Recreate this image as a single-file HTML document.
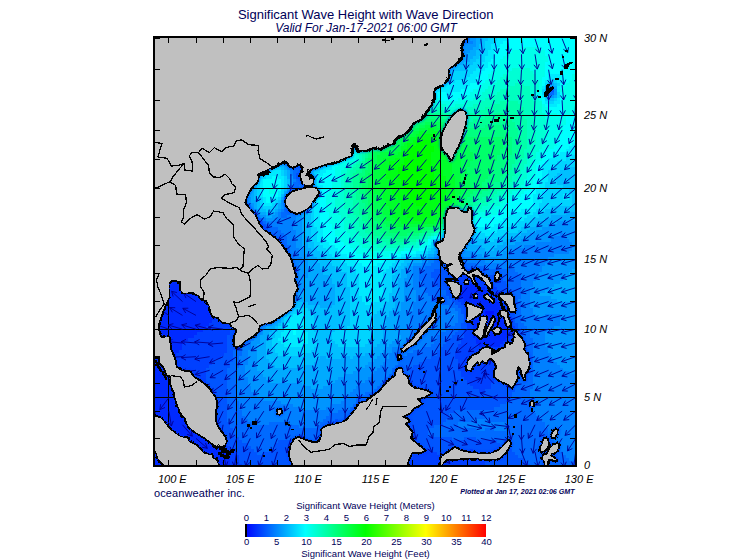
<!DOCTYPE html>
<html><head><meta charset="utf-8"><title>Significant Wave Height</title>
<style>html,body{margin:0;padding:0;background:#fff;overflow:hidden}svg{display:block}</style></head>
<body>
<svg width="755" height="560" viewBox="0 0 755 560">
<defs><clipPath id="cp"><rect x="155" y="38" width="420" height="427"/></clipPath>
<filter id="rough" x="-2%" y="-2%" width="104%" height="104%"><feTurbulence type="fractalNoise" baseFrequency="0.35" numOctaves="2" seed="3" result="n"/><feDisplacementMap in="SourceGraphic" in2="n" scale="3.2" xChannelSelector="R" yChannelSelector="G" result="d"/><feComponentTransfer><feFuncA type="discrete" tableValues="0 0 1 1"/></feComponentTransfer></filter>
<filter id="bl" x="-5%" y="-5%" width="110%" height="110%"><feGaussianBlur stdDeviation="1.2"/></filter></defs>
<rect width="755" height="560" fill="#fff"/>
<g clip-path="url(#cp)">
<g shape-rendering="crispEdges">
<path fill="rgb(0,21,255)" d="M485 311h9v3h-9zM485 314h9v3h-9zM485 317h12v3h-12zM485 320h12v3h-12zM488 323h9v3h-9z"/>
<path fill="rgb(0,42,255)" d="M155 230h9v3h-9zM155 233h33v3h-33zM155 236h48v3h-48zM155 239h63v3h-63zM155 242h75v3h-75zM155 245h81v3h-81zM155 248h87v3h-87zM155 251h90v3h-90zM155 254h90v3h-90zM155 257h93v3h-93zM155 260h93v3h-93zM155 263h93v3h-93zM155 266h96v3h-96zM155 269h96v3h-96zM155 272h96v3h-96zM155 275h96v3h-96zM155 278h96v3h-96zM155 281h93v3h-93zM155 284h90v3h-90zM464 284h15v3h-15zM155 287h87v3h-87zM461 287h24v3h-24zM155 290h81v3h-81zM461 290h27v3h-27zM155 293h78v3h-78zM461 293h30v3h-30zM155 296h75v3h-75zM461 296h33v3h-33zM155 299h72v3h-72zM464 299h33v3h-33zM155 302h72v3h-72zM467 302h33v3h-33zM155 305h69v3h-69zM470 305h30v3h-30zM155 308h66v3h-66zM473 308h30v3h-30zM155 311h63v3h-63zM473 311h12v3h-12zM494 311h9v3h-9zM155 314h63v3h-63zM473 314h12v3h-12zM494 314h9v3h-9zM155 317h60v3h-60zM473 317h12v3h-12zM497 317h9v3h-9zM155 320h57v3h-57zM473 320h12v3h-12zM497 320h9v3h-9zM155 323h54v3h-54zM473 323h15v3h-15zM497 323h9v3h-9zM155 326h51v3h-51zM473 326h36v3h-36zM155 329h48v3h-48zM473 329h36v3h-36zM155 332h42v3h-42zM473 332h36v3h-36zM155 335h39v3h-39zM473 335h36v3h-36zM155 338h33v3h-33zM476 338h30v3h-30zM155 341h30v3h-30zM476 341h27v3h-27zM155 344h27v3h-27zM479 344h21v3h-21zM155 347h27v3h-27zM155 350h24v3h-24zM155 353h21v3h-21zM155 356h21v3h-21zM155 359h21v3h-21zM155 362h21v3h-21zM155 365h21v3h-21zM155 368h24v3h-24zM155 371h24v3h-24zM155 374h24v3h-24zM155 377h24v3h-24zM155 380h27v3h-27zM155 383h27v3h-27zM155 386h30v3h-30zM155 389h30v3h-30zM155 392h33v3h-33zM155 395h33v3h-33zM155 398h36v3h-36zM155 401h36v3h-36zM155 404h39v3h-39zM155 407h39v3h-39zM155 410h42v3h-42zM155 413h42v3h-42zM155 416h45v3h-45zM155 419h45v3h-45zM155 422h48v3h-48zM155 425h48v3h-48zM155 428h51v3h-51zM155 431h54v3h-54zM155 434h57v3h-57zM155 437h60v3h-60zM155 440h60v3h-60zM155 443h63v3h-63zM155 446h66v3h-66zM155 449h69v3h-69zM155 452h72v3h-72zM155 455h75v3h-75zM155 458h75v3h-75zM155 461h75v3h-75zM155 464h75v1h-75z"/>
<path fill="rgb(0,64,255)" d="M155 200h9v3h-9zM155 203h21v3h-21zM155 206h30v3h-30zM155 209h39v3h-39zM155 212h48v3h-48zM155 215h57v3h-57zM155 218h63v3h-63zM155 221h72v3h-72zM155 224h81v3h-81zM155 227h90v3h-90zM164 230h93v3h-93zM188 233h69v3h-69zM203 236h57v3h-57zM218 239h42v3h-42zM230 242h33v3h-33zM236 245h27v3h-27zM242 248h21v3h-21zM245 251h21v3h-21zM245 254h21v3h-21zM248 257h18v3h-18zM248 260h18v3h-18zM248 263h18v3h-18zM251 266h15v3h-15zM251 269h15v3h-15zM251 272h12v3h-12zM251 275h12v3h-12zM461 275h12v3h-12zM251 278h12v3h-12zM455 278h27v3h-27zM248 281h12v3h-12zM452 281h39v3h-39zM245 284h15v3h-15zM452 284h12v3h-12zM479 284h15v3h-15zM242 287h15v3h-15zM452 287h9v3h-9zM485 287h12v3h-12zM236 290h18v3h-18zM455 290h6v3h-6zM488 290h12v3h-12zM233 293h21v3h-21zM455 293h6v3h-6zM491 293h12v3h-12zM230 296h21v3h-21zM458 296h3v3h-3zM494 296h9v3h-9zM227 299h21v3h-21zM458 299h6v3h-6zM497 299h9v3h-9zM227 302h18v3h-18zM461 302h6v3h-6zM500 302h6v3h-6zM224 305h18v3h-18zM464 305h6v3h-6zM500 305h9v3h-9zM221 308h21v3h-21zM467 308h6v3h-6zM503 308h6v3h-6zM218 311h21v3h-21zM467 311h6v3h-6zM503 311h6v3h-6zM218 314h18v3h-18zM467 314h6v3h-6zM503 314h6v3h-6zM215 317h21v3h-21zM467 317h6v3h-6zM506 317h6v3h-6zM212 320h21v3h-21zM467 320h6v3h-6zM506 320h6v3h-6zM209 323h24v3h-24zM467 323h6v3h-6zM506 323h6v3h-6zM206 326h24v3h-24zM467 326h6v3h-6zM509 326h6v3h-6zM203 329h27v3h-27zM464 329h9v3h-9zM509 329h6v3h-6zM197 332h33v3h-33zM464 332h9v3h-9zM509 332h6v3h-6zM194 335h33v3h-33zM464 335h9v3h-9zM509 335h6v3h-6zM188 338h39v3h-39zM461 338h15v3h-15zM506 338h9v3h-9zM185 341h42v3h-42zM461 341h15v3h-15zM503 341h12v3h-12zM182 344h45v3h-45zM458 344h21v3h-21zM500 344h15v3h-15zM182 347h45v3h-45zM458 347h54v3h-54zM179 350h48v3h-48zM458 350h54v3h-54zM176 353h48v3h-48zM455 353h54v3h-54zM176 356h45v3h-45zM455 356h54v3h-54zM176 359h39v3h-39zM458 359h48v3h-48zM176 362h36v3h-36zM458 362h48v3h-48zM176 365h33v3h-33zM458 365h45v3h-45zM179 368h27v3h-27zM458 368h45v3h-45zM179 371h27v3h-27zM461 371h39v3h-39zM179 374h27v3h-27zM461 374h36v3h-36zM179 377h27v3h-27zM464 377h33v3h-33zM182 380h24v3h-24zM467 380h27v3h-27zM182 383h24v3h-24zM470 383h21v3h-21zM185 386h21v3h-21zM473 386h18v3h-18zM185 389h21v3h-21zM479 389h6v3h-6zM188 392h21v3h-21zM188 395h21v3h-21zM191 398h18v3h-18zM191 401h21v3h-21zM194 404h18v3h-18zM194 407h18v3h-18zM197 410h15v3h-15zM197 413h15v3h-15zM200 416h15v3h-15zM200 419h15v3h-15zM203 422h12v3h-12zM203 425h15v3h-15zM206 428h15v3h-15zM209 431h12v3h-12zM212 434h12v3h-12zM215 437h9v3h-9zM215 440h12v3h-12zM218 443h9v3h-9zM221 446h9v3h-9zM224 449h12v3h-12zM425 449h6v3h-6zM470 449h3v3h-3zM227 452h9v3h-9zM419 452h18v3h-18zM464 452h12v3h-12zM230 455h9v3h-9zM413 455h33v3h-33zM455 455h24v3h-24zM230 458h9v3h-9zM410 458h72v3h-72zM230 461h9v3h-9zM410 461h75v3h-75zM230 464h12v1h-12zM407 464h78v1h-78z"/>
<path fill="rgb(0,85,255)" d="M551 89h3v3h-3zM155 170h3v3h-3zM155 173h12v3h-12zM296 173h3v3h-3zM155 176h21v3h-21zM296 176h3v3h-3zM155 179h27v3h-27zM155 182h33v3h-33zM155 185h39v3h-39zM155 188h42v3h-42zM155 191h48v3h-48zM155 194h54v3h-54zM155 197h57v3h-57zM164 200h54v3h-54zM176 203h45v3h-45zM185 206h42v3h-42zM194 209h39v3h-39zM203 212h33v3h-33zM212 215h30v3h-30zM218 218h30v3h-30zM227 221h36v3h-36zM236 224h30v3h-30zM245 227h21v3h-21zM257 230h12v3h-12zM257 233h12v3h-12zM260 236h12v3h-12zM260 239h15v3h-15zM263 242h12v3h-12zM263 245h15v3h-15zM263 248h15v3h-15zM266 251h12v3h-12zM266 254h12v3h-12zM266 257h12v3h-12zM266 260h12v3h-12zM266 263h12v3h-12zM266 266h12v3h-12zM440 266h9v3h-9zM266 269h12v3h-12zM434 269h42v3h-42zM263 272h12v3h-12zM431 272h54v3h-54zM263 275h12v3h-12zM431 275h30v3h-30zM473 275h21v3h-21zM263 278h9v3h-9zM434 278h21v3h-21zM482 278h21v3h-21zM260 281h12v3h-12zM434 281h18v3h-18zM491 281h15v3h-15zM260 284h9v3h-9zM437 284h15v3h-15zM494 284h15v3h-15zM257 287h12v3h-12zM440 287h12v3h-12zM497 287h12v3h-12zM254 290h12v3h-12zM446 290h9v3h-9zM500 290h12v3h-12zM254 293h9v3h-9zM446 293h9v3h-9zM503 293h9v3h-9zM251 296h12v3h-12zM449 296h9v3h-9zM503 296h9v3h-9zM248 299h12v3h-12zM452 299h6v3h-6zM506 299h6v3h-6zM245 302h12v3h-12zM455 302h6v3h-6zM506 302h6v3h-6zM242 305h12v3h-12zM458 305h6v3h-6zM509 305h6v3h-6zM242 308h12v3h-12zM461 308h6v3h-6zM509 308h6v3h-6zM239 311h12v3h-12zM461 311h6v3h-6zM509 311h6v3h-6zM236 314h12v3h-12zM464 314h3v3h-3zM509 314h6v3h-6zM236 317h12v3h-12zM464 317h3v3h-3zM512 317h3v3h-3zM233 320h12v3h-12zM464 320h3v3h-3zM512 320h3v3h-3zM233 323h12v3h-12zM461 323h6v3h-6zM512 323h6v3h-6zM230 326h12v3h-12zM461 326h6v3h-6zM515 326h3v3h-3zM230 329h12v3h-12zM458 329h6v3h-6zM515 329h6v3h-6zM230 332h9v3h-9zM455 332h9v3h-9zM515 332h6v3h-6zM227 335h12v3h-12zM452 335h12v3h-12zM515 335h6v3h-6zM227 338h12v3h-12zM449 338h12v3h-12zM515 338h9v3h-9zM227 341h9v3h-9zM446 341h15v3h-15zM515 341h9v3h-9zM227 344h9v3h-9zM443 344h15v3h-15zM515 344h9v3h-9zM227 347h9v3h-9zM440 347h18v3h-18zM512 347h12v3h-12zM227 350h6v3h-6zM437 350h21v3h-21zM512 350h9v3h-9zM224 353h9v3h-9zM437 353h18v3h-18zM509 353h12v3h-12zM221 356h12v3h-12zM431 356h24v3h-24zM509 356h12v3h-12zM215 359h18v3h-18zM425 359h33v3h-33zM506 359h15v3h-15zM212 362h18v3h-18zM419 362h39v3h-39zM506 362h15v3h-15zM209 365h21v3h-21zM413 365h45v3h-45zM503 365h18v3h-18zM206 368h21v3h-21zM410 368h48v3h-48zM503 368h15v3h-15zM206 371h21v3h-21zM410 371h51v3h-51zM500 371h18v3h-18zM206 374h21v3h-21zM407 374h54v3h-54zM497 374h21v3h-21zM206 377h21v3h-21zM407 377h57v3h-57zM497 377h21v3h-21zM206 380h21v3h-21zM404 380h63v3h-63zM494 380h24v3h-24zM206 383h21v3h-21zM404 383h66v3h-66zM491 383h24v3h-24zM206 386h21v3h-21zM401 386h72v3h-72zM491 386h24v3h-24zM206 389h21v3h-21zM401 389h78v3h-78zM485 389h30v3h-30zM209 392h18v3h-18zM401 392h111v3h-111zM209 395h18v3h-18zM398 395h114v3h-114zM209 398h18v3h-18zM398 398h111v3h-111zM212 401h15v3h-15zM398 401h108v3h-108zM212 404h15v3h-15zM398 404h102v3h-102zM212 407h15v3h-15zM395 407h99v3h-99zM212 410h15v3h-15zM395 410h60v3h-60zM212 413h15v3h-15zM395 413h54v3h-54zM215 416h12v3h-12zM395 416h54v3h-54zM215 419h12v3h-12zM335 419h3v3h-3zM395 419h51v3h-51zM215 422h15v3h-15zM335 422h3v3h-3zM395 422h48v3h-48zM218 425h12v3h-12zM392 425h42v3h-42zM221 428h12v3h-12zM392 428h36v3h-36zM221 431h12v3h-12zM392 431h36v3h-36zM224 434h12v3h-12zM389 434h39v3h-39zM224 437h15v3h-15zM386 437h66v3h-66zM464 437h12v3h-12zM227 440h15v3h-15zM278 440h18v3h-18zM383 440h114v3h-114zM227 443h21v3h-21zM275 443h30v3h-30zM377 443h123v3h-123zM230 446h21v3h-21zM275 446h48v3h-48zM371 446h135v3h-135zM236 449h18v3h-18zM269 449h63v3h-63zM368 449h57v3h-57zM431 449h39v3h-39zM473 449h39v3h-39zM236 452h21v3h-21zM263 452h75v3h-75zM365 452h54v3h-54zM437 452h27v3h-27zM476 452h39v3h-39zM239 455h102v3h-102zM359 455h54v3h-54zM446 455h9v3h-9zM479 455h39v3h-39zM239 458h171v3h-171zM482 458h42v3h-42zM239 461h171v3h-171zM485 461h42v3h-42zM242 464h165v1h-165zM485 464h45v1h-45z"/>
<path fill="rgb(0,106,255)" d="M548 89h3v3h-3zM548 92h6v3h-6zM155 140h6v3h-6zM155 143h12v3h-12zM155 146h18v3h-18zM155 149h24v3h-24zM155 152h30v3h-30zM155 155h33v3h-33zM155 158h39v3h-39zM155 161h42v3h-42zM155 164h45v3h-45zM155 167h48v3h-48zM293 167h9v3h-9zM158 170h48v3h-48zM293 170h9v3h-9zM167 173h42v3h-42zM293 173h3v3h-3zM299 173h3v3h-3zM176 176h36v3h-36zM293 176h3v3h-3zM299 176h3v3h-3zM182 179h33v3h-33zM296 179h6v3h-6zM188 182h30v3h-30zM293 182h9v3h-9zM194 185h27v3h-27zM293 185h6v3h-6zM197 188h27v3h-27zM293 188h6v3h-6zM203 191h24v3h-24zM293 191h3v3h-3zM209 194h21v3h-21zM212 197h21v3h-21zM284 197h9v3h-9zM218 200h18v3h-18zM287 200h6v3h-6zM221 203h18v3h-18zM227 206h18v3h-18zM233 209h12v3h-12zM284 209h6v3h-6zM236 212h12v3h-12zM281 212h9v3h-9zM242 215h12v3h-12zM281 215h6v3h-6zM248 218h15v3h-15zM263 221h3v3h-3zM266 224h6v3h-6zM266 227h12v3h-12zM269 230h12v3h-12zM269 233h15v3h-15zM272 236h15v3h-15zM275 239h12v3h-12zM275 242h12v3h-12zM278 245h12v3h-12zM278 248h12v3h-12zM278 251h12v3h-12zM278 254h12v3h-12zM278 257h12v3h-12zM278 260h12v3h-12zM434 260h27v3h-27zM278 263h12v3h-12zM431 263h45v3h-45zM278 266h12v3h-12zM425 266h15v3h-15zM449 266h36v3h-36zM278 269h12v3h-12zM422 269h12v3h-12zM476 269h39v3h-39zM275 272h12v3h-12zM419 272h12v3h-12zM485 272h33v3h-33zM275 275h12v3h-12zM419 275h12v3h-12zM494 275h27v3h-27zM272 278h12v3h-12zM419 278h15v3h-15zM503 278h18v3h-18zM272 281h12v3h-12zM422 281h12v3h-12zM506 281h15v3h-15zM269 284h12v3h-12zM422 284h15v3h-15zM509 284h12v3h-12zM269 287h9v3h-9zM425 287h15v3h-15zM509 287h12v3h-12zM266 290h9v3h-9zM425 290h21v3h-21zM512 290h9v3h-9zM263 293h12v3h-12zM428 293h18v3h-18zM512 293h9v3h-9zM263 296h9v3h-9zM431 296h18v3h-18zM512 296h9v3h-9zM260 299h9v3h-9zM431 299h21v3h-21zM512 299h6v3h-6zM257 302h12v3h-12zM440 302h15v3h-15zM512 302h9v3h-9zM254 305h12v3h-12zM449 305h9v3h-9zM515 305h6v3h-6zM254 308h9v3h-9zM455 308h6v3h-6zM515 308h6v3h-6zM251 311h12v3h-12zM458 311h3v3h-3zM515 311h6v3h-6zM248 314h12v3h-12zM458 314h6v3h-6zM515 314h6v3h-6zM248 317h9v3h-9zM458 317h6v3h-6zM515 317h6v3h-6zM245 320h9v3h-9zM458 320h6v3h-6zM515 320h6v3h-6zM245 323h9v3h-9zM455 323h6v3h-6zM518 323h6v3h-6zM242 326h9v3h-9zM449 326h12v3h-12zM518 326h9v3h-9zM242 329h9v3h-9zM446 329h12v3h-12zM521 329h6v3h-6zM239 332h9v3h-9zM440 332h15v3h-15zM521 332h9v3h-9zM239 335h9v3h-9zM437 335h15v3h-15zM521 335h9v3h-9zM239 338h6v3h-6zM437 338h12v3h-12zM524 338h9v3h-9zM236 341h9v3h-9zM434 341h12v3h-12zM524 341h9v3h-9zM236 344h6v3h-6zM431 344h12v3h-12zM524 344h9v3h-9zM236 347h6v3h-6zM422 347h18v3h-18zM524 347h9v3h-9zM233 350h9v3h-9zM413 350h24v3h-24zM521 350h12v3h-12zM233 353h9v3h-9zM407 353h30v3h-30zM521 353h12v3h-12zM233 356h6v3h-6zM401 356h30v3h-30zM521 356h12v3h-12zM233 359h6v3h-6zM398 359h27v3h-27zM521 359h12v3h-12zM230 362h9v3h-9zM398 362h21v3h-21zM521 362h12v3h-12zM230 365h9v3h-9zM395 365h18v3h-18zM521 365h12v3h-12zM227 368h9v3h-9zM392 368h18v3h-18zM518 368h15v3h-15zM227 371h9v3h-9zM392 371h18v3h-18zM518 371h15v3h-15zM227 374h9v3h-9zM389 374h18v3h-18zM518 374h15v3h-15zM227 377h9v3h-9zM386 377h21v3h-21zM518 377h15v3h-15zM227 380h9v3h-9zM383 380h21v3h-21zM518 380h15v3h-15zM227 383h9v3h-9zM380 383h24v3h-24zM515 383h18v3h-18zM227 386h9v3h-9zM377 386h24v3h-24zM515 386h18v3h-18zM227 389h9v3h-9zM374 389h27v3h-27zM515 389h15v3h-15zM227 392h9v3h-9zM365 392h36v3h-36zM512 392h18v3h-18zM227 395h9v3h-9zM359 395h39v3h-39zM512 395h18v3h-18zM227 398h9v3h-9zM356 398h42v3h-42zM509 398h21v3h-21zM227 401h12v3h-12zM356 401h42v3h-42zM506 401h24v3h-24zM227 404h12v3h-12zM353 404h45v3h-45zM500 404h33v3h-33zM227 407h12v3h-12zM350 407h45v3h-45zM494 407h39v3h-39zM227 410h15v3h-15zM338 410h57v3h-57zM455 410h78v3h-78zM227 413h15v3h-15zM329 413h66v3h-66zM449 413h87v3h-87zM227 416h18v3h-18zM326 416h69v3h-69zM449 416h90v3h-90zM227 419h21v3h-21zM323 419h12v3h-12zM338 419h57v3h-57zM446 419h27v3h-27zM488 419h54v3h-54zM230 422h24v3h-24zM269 422h18v3h-18zM320 422h15v3h-15zM338 422h57v3h-57zM443 422h15v3h-15zM506 422h39v3h-39zM230 425h69v3h-69zM317 425h75v3h-75zM434 425h24v3h-24zM506 425h39v3h-39zM233 428h159v3h-159zM428 428h48v3h-48zM485 428h9v3h-9zM506 428h42v3h-42zM233 431h159v3h-159zM428 431h120v3h-120zM236 434h153v3h-153zM428 434h120v3h-120zM239 437h147v3h-147zM452 437h12v3h-12zM476 437h75v3h-75zM242 440h36v3h-36zM296 440h87v3h-87zM497 440h57v3h-57zM248 443h27v3h-27zM305 443h72v3h-72zM500 443h54v3h-54zM251 446h24v3h-24zM323 446h48v3h-48zM506 446h51v3h-51zM254 449h15v3h-15zM332 449h36v3h-36zM512 449h48v3h-48zM257 452h6v3h-6zM338 452h27v3h-27zM515 452h48v3h-48zM341 455h18v3h-18zM518 455h48v3h-48zM524 458h45v3h-45zM527 461h48v3h-48zM530 464h45v1h-45z"/>
<path fill="rgb(0,128,255)" d="M464 38h6v3h-6zM464 41h9v3h-9zM548 86h6v3h-6zM155 104h3v3h-3zM155 107h12v3h-12zM155 110h18v3h-18zM155 113h24v3h-24zM155 116h30v3h-30zM155 119h36v3h-36zM155 122h42v3h-42zM155 125h45v3h-45zM155 128h48v3h-48zM155 131h51v3h-51zM155 134h54v3h-54zM155 137h57v3h-57zM161 140h54v3h-54zM167 143h51v3h-51zM173 146h45v3h-45zM179 149h42v3h-42zM185 152h36v3h-36zM188 155h36v3h-36zM194 158h30v3h-30zM197 161h30v3h-30zM293 161h9v3h-9zM200 164h27v3h-27zM293 164h12v3h-12zM203 167h24v3h-24zM290 167h3v3h-3zM302 167h3v3h-3zM206 170h24v3h-24zM290 170h3v3h-3zM302 170h3v3h-3zM209 173h21v3h-21zM290 173h3v3h-3zM302 173h3v3h-3zM212 176h21v3h-21zM302 176h3v3h-3zM215 179h18v3h-18zM293 179h3v3h-3zM302 179h3v3h-3zM218 182h18v3h-18zM302 182h3v3h-3zM221 185h15v3h-15zM290 185h3v3h-3zM299 185h6v3h-6zM224 188h15v3h-15zM290 188h3v3h-3zM299 188h6v3h-6zM227 191h12v3h-12zM290 191h3v3h-3zM296 191h6v3h-6zM230 194h12v3h-12zM287 194h15v3h-15zM233 197h12v3h-12zM293 197h9v3h-9zM236 200h12v3h-12zM284 200h3v3h-3zM293 200h6v3h-6zM239 203h12v3h-12zM284 203h15v3h-15zM245 206h6v3h-6zM284 206h15v3h-15zM245 209h6v3h-6zM281 209h3v3h-3zM290 209h9v3h-9zM248 212h6v3h-6zM278 212h3v3h-3zM290 212h6v3h-6zM254 215h6v3h-6zM278 215h3v3h-3zM287 215h9v3h-9zM263 218h3v3h-3zM275 218h21v3h-21zM266 221h30v3h-30zM272 224h21v3h-21zM278 227h15v3h-15zM281 230h15v3h-15zM284 233h12v3h-12zM560 233h3v3h-3zM287 236h9v3h-9zM554 236h12v3h-12zM287 239h9v3h-9zM551 239h18v3h-18zM287 242h9v3h-9zM536 242h36v3h-36zM290 245h6v3h-6zM524 245h48v3h-48zM290 248h9v3h-9zM515 248h57v3h-57zM290 251h9v3h-9zM512 251h57v3h-57zM290 254h9v3h-9zM443 254h15v3h-15zM509 254h45v3h-45zM290 257h12v3h-12zM434 257h42v3h-42zM506 257h42v3h-42zM290 260h12v3h-12zM428 260h6v3h-6zM461 260h24v3h-24zM503 260h45v3h-45zM290 263h9v3h-9zM422 263h9v3h-9zM476 263h69v3h-69zM290 266h9v3h-9zM413 266h12v3h-12zM485 266h57v3h-57zM290 269h9v3h-9zM413 269h9v3h-9zM515 269h27v3h-27zM287 272h12v3h-12zM413 272h6v3h-6zM518 272h21v3h-21zM287 275h12v3h-12zM413 275h6v3h-6zM521 275h15v3h-15zM284 278h15v3h-15zM413 278h6v3h-6zM521 278h15v3h-15zM284 281h12v3h-12zM413 281h9v3h-9zM521 281h12v3h-12zM281 284h12v3h-12zM413 284h9v3h-9zM521 284h12v3h-12zM278 287h12v3h-12zM413 287h12v3h-12zM521 287h9v3h-9zM275 290h12v3h-12zM416 290h9v3h-9zM521 290h9v3h-9zM275 293h9v3h-9zM416 293h12v3h-12zM521 293h9v3h-9zM272 296h9v3h-9zM416 296h15v3h-15zM521 296h9v3h-9zM269 299h9v3h-9zM416 299h15v3h-15zM518 299h12v3h-12zM269 302h6v3h-6zM413 302h27v3h-27zM521 302h9v3h-9zM266 305h9v3h-9zM413 305h36v3h-36zM521 305h9v3h-9zM263 308h9v3h-9zM413 308h42v3h-42zM521 308h12v3h-12zM263 311h9v3h-9zM410 311h48v3h-48zM521 311h12v3h-12zM260 314h9v3h-9zM410 314h42v3h-42zM455 314h3v3h-3zM521 314h15v3h-15zM545 314h15v3h-15zM257 317h12v3h-12zM410 317h48v3h-48zM521 317h39v3h-39zM254 320h9v3h-9zM410 320h48v3h-48zM521 320h39v3h-39zM254 323h6v3h-6zM410 323h45v3h-45zM524 323h36v3h-36zM251 326h6v3h-6zM410 326h39v3h-39zM527 326h27v3h-27zM251 329h6v3h-6zM410 329h36v3h-36zM527 329h21v3h-21zM248 332h6v3h-6zM410 332h30v3h-30zM530 332h15v3h-15zM248 335h6v3h-6zM410 335h27v3h-27zM530 335h15v3h-15zM245 338h9v3h-9zM410 338h27v3h-27zM533 338h12v3h-12zM245 341h6v3h-6zM407 341h27v3h-27zM533 341h12v3h-12zM242 344h9v3h-9zM404 344h27v3h-27zM533 344h12v3h-12zM242 347h9v3h-9zM392 347h30v3h-30zM533 347h15v3h-15zM242 350h6v3h-6zM392 350h21v3h-21zM533 350h15v3h-15zM242 353h6v3h-6zM389 353h18v3h-18zM533 353h18v3h-18zM239 356h9v3h-9zM389 356h12v3h-12zM533 356h18v3h-18zM239 359h9v3h-9zM386 359h12v3h-12zM533 359h21v3h-21zM239 362h9v3h-9zM383 362h15v3h-15zM533 362h24v3h-24zM239 365h6v3h-6zM380 365h15v3h-15zM533 365h27v3h-27zM236 368h9v3h-9zM377 368h15v3h-15zM533 368h30v3h-30zM236 371h9v3h-9zM374 371h18v3h-18zM533 371h36v3h-36zM236 374h9v3h-9zM371 374h18v3h-18zM533 374h42v3h-42zM236 377h12v3h-12zM368 377h18v3h-18zM533 377h42v3h-42zM236 380h12v3h-12zM365 380h18v3h-18zM533 380h42v3h-42zM236 383h12v3h-12zM359 383h21v3h-21zM533 383h42v3h-42zM236 386h15v3h-15zM356 386h21v3h-21zM533 386h42v3h-42zM236 389h15v3h-15zM353 389h21v3h-21zM530 389h45v3h-45zM236 392h18v3h-18zM350 392h15v3h-15zM530 392h45v3h-45zM236 395h21v3h-21zM347 395h12v3h-12zM530 395h45v3h-45zM236 398h27v3h-27zM344 398h12v3h-12zM530 398h45v3h-45zM239 401h42v3h-42zM341 401h15v3h-15zM530 401h45v3h-45zM239 404h54v3h-54zM332 404h21v3h-21zM533 404h42v3h-42zM239 407h60v3h-60zM326 407h24v3h-24zM533 407h42v3h-42zM242 410h96v3h-96zM533 410h42v3h-42zM242 413h87v3h-87zM536 413h39v3h-39zM245 416h81v3h-81zM539 416h36v3h-36zM248 419h75v3h-75zM473 419h15v3h-15zM542 419h33v3h-33zM254 422h15v3h-15zM287 422h33v3h-33zM458 422h48v3h-48zM545 422h30v3h-30zM299 425h18v3h-18zM458 425h48v3h-48zM545 425h30v3h-30zM476 428h9v3h-9zM494 428h12v3h-12zM548 428h27v3h-27zM548 431h27v3h-27zM548 434h27v3h-27zM551 437h24v3h-24zM554 440h21v3h-21zM554 443h21v3h-21zM557 446h18v3h-18zM560 449h15v3h-15zM563 452h12v3h-12zM566 455h9v3h-9zM569 458h6v3h-6z"/>
<path fill="rgb(0,149,255)" d="M431 38h33v3h-33zM470 38h6v3h-6zM434 41h30v3h-30zM473 41h3v3h-3zM437 44h39v3h-39zM443 47h30v3h-30zM449 50h21v3h-21zM455 53h12v3h-12zM155 68h9v3h-9zM155 71h57v3h-57zM155 74h72v3h-72zM155 77h78v3h-78zM155 80h81v3h-81zM155 83h84v3h-84zM155 86h87v3h-87zM155 89h90v3h-90zM554 89h3v3h-3zM155 92h93v3h-93zM554 92h3v3h-3zM155 95h93v3h-93zM548 95h6v3h-6zM155 98h96v3h-96zM155 101h96v3h-96zM158 104h93v3h-93zM167 107h87v3h-87zM173 110h81v3h-81zM179 113h75v3h-75zM185 116h69v3h-69zM191 119h63v3h-63zM197 122h57v3h-57zM200 125h54v3h-54zM203 128h51v3h-51zM206 131h48v3h-48zM209 134h42v3h-42zM212 137h39v3h-39zM215 140h36v3h-36zM218 143h30v3h-30zM218 146h30v3h-30zM221 149h27v3h-27zM290 149h12v3h-12zM221 152h27v3h-27zM290 152h15v3h-15zM224 155h21v3h-21zM287 155h18v3h-18zM224 158h21v3h-21zM287 158h21v3h-21zM227 161h18v3h-18zM287 161h6v3h-6zM302 161h6v3h-6zM227 164h18v3h-18zM287 164h6v3h-6zM305 164h3v3h-3zM227 167h18v3h-18zM287 167h3v3h-3zM305 167h3v3h-3zM230 170h15v3h-15zM305 170h3v3h-3zM230 173h15v3h-15zM305 173h3v3h-3zM233 176h12v3h-12zM290 176h3v3h-3zM305 176h3v3h-3zM233 179h12v3h-12zM290 179h3v3h-3zM305 179h3v3h-3zM236 182h9v3h-9zM290 182h3v3h-3zM305 182h3v3h-3zM236 185h9v3h-9zM305 185h3v3h-3zM239 188h9v3h-9zM287 188h3v3h-3zM305 188h3v3h-3zM239 191h9v3h-9zM287 191h3v3h-3zM302 191h3v3h-3zM242 194h6v3h-6zM284 194h3v3h-3zM302 194h3v3h-3zM245 197h6v3h-6zM302 197h3v3h-3zM248 200h3v3h-3zM281 200h3v3h-3zM299 200h6v3h-6zM251 203h3v3h-3zM281 203h3v3h-3zM299 203h6v3h-6zM251 206h3v3h-3zM281 206h3v3h-3zM299 206h3v3h-3zM251 209h6v3h-6zM278 209h3v3h-3zM299 209h3v3h-3zM254 212h6v3h-6zM275 212h3v3h-3zM296 212h6v3h-6zM260 215h6v3h-6zM272 215h6v3h-6zM296 215h6v3h-6zM266 218h9v3h-9zM296 218h6v3h-6zM296 221h6v3h-6zM557 221h18v3h-18zM293 224h9v3h-9zM548 224h27v3h-27zM293 227h9v3h-9zM542 227h33v3h-33zM296 230h6v3h-6zM536 230h39v3h-39zM296 233h6v3h-6zM530 233h30v3h-30zM563 233h12v3h-12zM296 236h6v3h-6zM527 236h27v3h-27zM566 236h9v3h-9zM296 239h6v3h-6zM521 239h30v3h-30zM569 239h6v3h-6zM296 242h6v3h-6zM515 242h21v3h-21zM572 242h3v3h-3zM296 245h6v3h-6zM509 245h15v3h-15zM572 245h3v3h-3zM299 248h6v3h-6zM506 248h9v3h-9zM572 248h3v3h-3zM299 251h6v3h-6zM437 251h39v3h-39zM503 251h9v3h-9zM569 251h6v3h-6zM299 254h9v3h-9zM434 254h9v3h-9zM458 254h24v3h-24zM500 254h9v3h-9zM554 254h21v3h-21zM302 257h6v3h-6zM428 257h6v3h-6zM476 257h30v3h-30zM548 257h27v3h-27zM302 260h6v3h-6zM422 260h6v3h-6zM485 260h18v3h-18zM548 260h27v3h-27zM299 263h9v3h-9zM413 263h9v3h-9zM545 263h30v3h-30zM299 266h9v3h-9zM410 266h3v3h-3zM542 266h33v3h-33zM299 269h9v3h-9zM407 269h6v3h-6zM542 269h30v3h-30zM299 272h9v3h-9zM407 272h6v3h-6zM539 272h30v3h-30zM299 275h9v3h-9zM407 275h6v3h-6zM536 275h30v3h-30zM299 278h6v3h-6zM404 278h9v3h-9zM536 278h27v3h-27zM296 281h9v3h-9zM404 281h9v3h-9zM533 281h27v3h-27zM293 284h12v3h-12zM404 284h9v3h-9zM533 284h21v3h-21zM290 287h15v3h-15zM404 287h9v3h-9zM530 287h21v3h-21zM287 290h15v3h-15zM404 290h12v3h-12zM530 290h15v3h-15zM284 293h15v3h-15zM404 293h12v3h-12zM530 293h9v3h-9zM281 296h12v3h-12zM404 296h12v3h-12zM530 296h21v3h-21zM278 299h9v3h-9zM404 299h12v3h-12zM530 299h27v3h-27zM275 302h9v3h-9zM401 302h12v3h-12zM530 302h45v3h-45zM275 305h6v3h-6zM401 305h12v3h-12zM530 305h45v3h-45zM272 308h9v3h-9zM401 308h12v3h-12zM533 308h42v3h-42zM272 311h6v3h-6zM398 311h12v3h-12zM533 311h42v3h-42zM269 314h9v3h-9zM398 314h12v3h-12zM452 314h3v3h-3zM536 314h9v3h-9zM560 314h15v3h-15zM269 317h9v3h-9zM398 317h12v3h-12zM560 317h15v3h-15zM263 320h12v3h-12zM398 320h12v3h-12zM560 320h15v3h-15zM260 323h12v3h-12zM398 323h12v3h-12zM560 323h15v3h-15zM257 326h9v3h-9zM398 326h12v3h-12zM554 326h21v3h-21zM257 329h6v3h-6zM398 329h12v3h-12zM548 329h27v3h-27zM254 332h9v3h-9zM398 332h12v3h-12zM545 332h30v3h-30zM254 335h6v3h-6zM401 335h9v3h-9zM545 335h30v3h-30zM254 338h6v3h-6zM401 338h9v3h-9zM545 338h30v3h-30zM251 341h9v3h-9zM392 341h15v3h-15zM545 341h30v3h-30zM251 344h6v3h-6zM389 344h15v3h-15zM545 344h30v3h-30zM251 347h6v3h-6zM386 347h6v3h-6zM548 347h27v3h-27zM248 350h9v3h-9zM383 350h9v3h-9zM548 350h27v3h-27zM248 353h9v3h-9zM380 353h9v3h-9zM551 353h24v3h-24zM248 356h9v3h-9zM377 356h12v3h-12zM551 356h24v3h-24zM248 359h9v3h-9zM374 359h12v3h-12zM554 359h21v3h-21zM248 362h9v3h-9zM368 362h15v3h-15zM557 362h18v3h-18zM245 365h12v3h-12zM365 365h15v3h-15zM560 365h15v3h-15zM245 368h12v3h-12zM359 368h18v3h-18zM563 368h12v3h-12zM245 371h15v3h-15zM353 371h21v3h-21zM569 371h6v3h-6zM245 374h18v3h-18zM344 374h27v3h-27zM248 377h18v3h-18zM338 377h30v3h-30zM248 380h21v3h-21zM335 380h30v3h-30zM248 383h54v3h-54zM329 383h30v3h-30zM251 386h60v3h-60zM323 386h33v3h-33zM251 389h102v3h-102zM254 392h96v3h-96zM257 395h90v3h-90zM263 398h81v3h-81zM281 401h60v3h-60zM293 404h39v3h-39zM299 407h27v3h-27z"/>
<path fill="rgb(0,170,255)" d="M155 38h276v3h-276zM476 38h6v3h-6zM155 41h204v3h-204zM389 41h45v3h-45zM476 41h6v3h-6zM155 44h192v3h-192zM401 44h36v3h-36zM476 44h3v3h-3zM155 47h186v3h-186zM410 47h33v3h-33zM473 47h6v3h-6zM155 50h180v3h-180zM416 50h33v3h-33zM470 50h6v3h-6zM155 53h177v3h-177zM425 53h30v3h-30zM467 53h9v3h-9zM155 56h171v3h-171zM431 56h42v3h-42zM155 59h168v3h-168zM440 59h30v3h-30zM155 62h168v3h-168zM455 62h9v3h-9zM155 65h165v3h-165zM164 68h153v3h-153zM212 71h102v3h-102zM227 74h87v3h-87zM233 77h78v3h-78zM236 80h75v3h-75zM239 83h69v3h-69zM548 83h6v3h-6zM242 86h66v3h-66zM545 86h3v3h-3zM554 86h3v3h-3zM245 89h63v3h-63zM545 89h3v3h-3zM248 92h57v3h-57zM545 92h3v3h-3zM248 95h57v3h-57zM554 95h3v3h-3zM251 98h54v3h-54zM251 101h54v3h-54zM251 104h54v3h-54zM254 107h51v3h-51zM254 110h51v3h-51zM254 113h51v3h-51zM254 116h51v3h-51zM254 119h51v3h-51zM254 122h51v3h-51zM254 125h54v3h-54zM254 128h54v3h-54zM254 131h54v3h-54zM251 134h60v3h-60zM251 137h60v3h-60zM251 140h60v3h-60zM248 143h63v3h-63zM248 146h66v3h-66zM248 149h42v3h-42zM302 149h12v3h-12zM248 152h42v3h-42zM305 152h9v3h-9zM245 155h42v3h-42zM305 155h9v3h-9zM245 158h21v3h-21zM281 158h6v3h-6zM308 158h6v3h-6zM245 161h18v3h-18zM281 161h6v3h-6zM308 161h6v3h-6zM245 164h18v3h-18zM284 164h3v3h-3zM308 164h6v3h-6zM245 167h15v3h-15zM284 167h3v3h-3zM308 167h6v3h-6zM245 170h12v3h-12zM287 170h3v3h-3zM308 170h3v3h-3zM245 173h9v3h-9zM287 173h3v3h-3zM308 173h3v3h-3zM245 176h9v3h-9zM287 176h3v3h-3zM308 176h3v3h-3zM245 179h6v3h-6zM308 179h3v3h-3zM245 182h6v3h-6zM308 182h3v3h-3zM245 185h6v3h-6zM287 185h3v3h-3zM308 185h3v3h-3zM248 188h6v3h-6zM308 188h3v3h-3zM248 191h6v3h-6zM284 191h3v3h-3zM305 191h6v3h-6zM248 194h6v3h-6zM305 194h3v3h-3zM251 197h3v3h-3zM281 197h3v3h-3zM305 197h3v3h-3zM251 200h6v3h-6zM305 200h3v3h-3zM254 203h3v3h-3zM278 203h3v3h-3zM305 203h3v3h-3zM254 206h3v3h-3zM278 206h3v3h-3zM302 206h6v3h-6zM257 209h3v3h-3zM275 209h3v3h-3zM302 209h6v3h-6zM260 212h6v3h-6zM272 212h3v3h-3zM302 212h6v3h-6zM566 212h9v3h-9zM266 215h6v3h-6zM302 215h3v3h-3zM551 215h24v3h-24zM302 218h3v3h-3zM545 218h30v3h-30zM302 221h3v3h-3zM539 221h18v3h-18zM302 224h3v3h-3zM536 224h12v3h-12zM302 227h3v3h-3zM530 227h12v3h-12zM302 230h3v3h-3zM527 230h9v3h-9zM302 233h3v3h-3zM521 233h9v3h-9zM302 236h6v3h-6zM515 236h12v3h-12zM302 239h6v3h-6zM506 239h15v3h-15zM302 242h6v3h-6zM503 242h12v3h-12zM302 245h6v3h-6zM452 245h30v3h-30zM497 245h12v3h-12zM305 248h6v3h-6zM437 248h48v3h-48zM494 248h12v3h-12zM305 251h6v3h-6zM434 251h3v3h-3zM476 251h27v3h-27zM308 254h6v3h-6zM428 254h6v3h-6zM482 254h18v3h-18zM308 257h9v3h-9zM425 257h3v3h-3zM308 260h9v3h-9zM413 260h9v3h-9zM308 263h12v3h-12zM407 263h6v3h-6zM308 266h12v3h-12zM404 266h6v3h-6zM308 269h15v3h-15zM401 269h6v3h-6zM572 269h3v3h-3zM308 272h15v3h-15zM401 272h6v3h-6zM569 272h6v3h-6zM308 275h21v3h-21zM401 275h6v3h-6zM566 275h9v3h-9zM305 278h27v3h-27zM398 278h6v3h-6zM563 278h12v3h-12zM305 281h27v3h-27zM398 281h6v3h-6zM560 281h15v3h-15zM305 284h30v3h-30zM398 284h6v3h-6zM554 284h21v3h-21zM305 287h30v3h-30zM398 287h6v3h-6zM551 287h24v3h-24zM302 290h33v3h-33zM398 290h6v3h-6zM545 290h30v3h-30zM299 293h36v3h-36zM398 293h6v3h-6zM539 293h36v3h-36zM293 296h42v3h-42zM395 296h9v3h-9zM551 296h24v3h-24zM287 299h48v3h-48zM395 299h9v3h-9zM557 299h18v3h-18zM284 302h9v3h-9zM308 302h27v3h-27zM395 302h6v3h-6zM281 305h9v3h-9zM320 305h12v3h-12zM395 305h6v3h-6zM281 308h6v3h-6zM392 308h9v3h-9zM278 311h6v3h-6zM389 311h9v3h-9zM278 314h3v3h-3zM389 314h9v3h-9zM278 317h3v3h-3zM386 317h12v3h-12zM275 320h6v3h-6zM386 320h12v3h-12zM272 323h6v3h-6zM383 323h15v3h-15zM266 326h9v3h-9zM383 326h15v3h-15zM263 329h9v3h-9zM383 329h15v3h-15zM263 332h6v3h-6zM383 332h15v3h-15zM260 335h9v3h-9zM383 335h18v3h-18zM260 338h6v3h-6zM383 338h18v3h-18zM260 341h6v3h-6zM380 341h12v3h-12zM257 344h9v3h-9zM377 344h12v3h-12zM257 347h9v3h-9zM374 347h12v3h-12zM257 350h9v3h-9zM371 350h12v3h-12zM257 353h9v3h-9zM365 353h15v3h-15zM257 356h9v3h-9zM320 356h6v3h-6zM341 356h9v3h-9zM353 356h24v3h-24zM257 359h12v3h-12zM317 359h57v3h-57zM257 362h15v3h-15zM314 362h54v3h-54zM257 365h18v3h-18zM302 365h63v3h-63zM257 368h102v3h-102zM260 371h93v3h-93zM263 374h81v3h-81zM266 377h72v3h-72zM269 380h66v3h-66zM302 383h27v3h-27zM311 386h12v3h-12z"/>
<path fill="rgb(0,191,255)" d="M482 38h6v3h-6zM359 41h30v3h-30zM482 41h3v3h-3zM347 44h54v3h-54zM479 44h6v3h-6zM341 47h69v3h-69zM479 47h6v3h-6zM335 50h81v3h-81zM476 50h6v3h-6zM332 53h93v3h-93zM476 53h6v3h-6zM326 56h105v3h-105zM473 56h6v3h-6zM323 59h57v3h-57zM395 59h45v3h-45zM470 59h6v3h-6zM323 62h42v3h-42zM413 62h42v3h-42zM464 62h9v3h-9zM320 65h39v3h-39zM422 65h48v3h-48zM317 68h36v3h-36zM434 68h33v3h-33zM314 71h33v3h-33zM314 74h30v3h-30zM311 77h30v3h-30zM311 80h27v3h-27zM551 80h3v3h-3zM308 83h27v3h-27zM554 83h3v3h-3zM308 86h27v3h-27zM308 89h24v3h-24zM305 92h24v3h-24zM305 95h24v3h-24zM545 95h3v3h-3zM305 98h24v3h-24zM548 98h6v3h-6zM305 101h21v3h-21zM305 104h21v3h-21zM305 107h21v3h-21zM305 110h18v3h-18zM305 113h18v3h-18zM305 116h18v3h-18zM305 119h18v3h-18zM305 122h18v3h-18zM308 125h15v3h-15zM308 128h15v3h-15zM308 131h15v3h-15zM311 134h12v3h-12zM311 137h12v3h-12zM311 140h12v3h-12zM311 143h12v3h-12zM314 146h9v3h-9zM314 149h9v3h-9zM314 152h6v3h-6zM314 155h6v3h-6zM266 158h15v3h-15zM314 158h6v3h-6zM263 161h18v3h-18zM314 161h6v3h-6zM263 164h9v3h-9zM278 164h6v3h-6zM314 164h3v3h-3zM260 167h9v3h-9zM281 167h3v3h-3zM314 167h3v3h-3zM566 167h9v3h-9zM257 170h12v3h-12zM284 170h3v3h-3zM311 170h3v3h-3zM560 170h15v3h-15zM254 173h12v3h-12zM284 173h3v3h-3zM311 173h3v3h-3zM557 173h18v3h-18zM254 176h6v3h-6zM311 176h3v3h-3zM554 176h21v3h-21zM251 179h6v3h-6zM287 179h3v3h-3zM311 179h3v3h-3zM554 179h21v3h-21zM251 182h6v3h-6zM287 182h3v3h-3zM311 182h3v3h-3zM557 182h18v3h-18zM251 185h6v3h-6zM311 185h3v3h-3zM563 185h12v3h-12zM254 188h3v3h-3zM284 188h3v3h-3zM311 188h3v3h-3zM569 188h6v3h-6zM254 191h3v3h-3zM311 191h3v3h-3zM569 191h6v3h-6zM254 194h3v3h-3zM281 194h3v3h-3zM308 194h3v3h-3zM572 194h3v3h-3zM254 197h3v3h-3zM308 197h3v3h-3zM572 197h3v3h-3zM257 200h3v3h-3zM278 200h3v3h-3zM308 200h3v3h-3zM572 200h3v3h-3zM257 203h3v3h-3zM275 203h3v3h-3zM308 203h3v3h-3zM572 203h3v3h-3zM257 206h6v3h-6zM275 206h3v3h-3zM308 206h3v3h-3zM551 206h24v3h-24zM260 209h6v3h-6zM269 209h6v3h-6zM308 209h3v3h-3zM545 209h30v3h-30zM266 212h6v3h-6zM308 212h3v3h-3zM542 212h24v3h-24zM305 215h6v3h-6zM539 215h12v3h-12zM305 218h6v3h-6zM533 218h12v3h-12zM305 221h6v3h-6zM530 221h9v3h-9zM305 224h6v3h-6zM524 224h12v3h-12zM305 227h6v3h-6zM521 227h9v3h-9zM305 230h6v3h-6zM518 230h9v3h-9zM305 233h6v3h-6zM506 233h15v3h-15zM308 236h3v3h-3zM476 236h3v3h-3zM500 236h15v3h-15zM308 239h3v3h-3zM467 239h18v3h-18zM494 239h12v3h-12zM308 242h6v3h-6zM437 242h66v3h-66zM308 245h6v3h-6zM434 245h18v3h-18zM482 245h15v3h-15zM311 248h6v3h-6zM431 248h6v3h-6zM485 248h9v3h-9zM311 251h9v3h-9zM428 251h6v3h-6zM314 254h9v3h-9zM425 254h3v3h-3zM317 257h9v3h-9zM413 257h12v3h-12zM317 260h12v3h-12zM404 260h9v3h-9zM320 263h12v3h-12zM401 263h6v3h-6zM320 266h15v3h-15zM398 266h6v3h-6zM323 269h18v3h-18zM395 269h6v3h-6zM323 272h24v3h-24zM395 272h6v3h-6zM329 275h18v3h-18zM392 275h9v3h-9zM332 278h15v3h-15zM392 278h6v3h-6zM332 281h15v3h-15zM392 281h6v3h-6zM335 284h12v3h-12zM392 284h6v3h-6zM335 287h15v3h-15zM392 287h6v3h-6zM335 290h15v3h-15zM392 290h6v3h-6zM335 293h15v3h-15zM389 293h9v3h-9zM335 296h15v3h-15zM389 296h6v3h-6zM335 299h15v3h-15zM389 299h6v3h-6zM293 302h15v3h-15zM335 302h15v3h-15zM386 302h9v3h-9zM290 305h30v3h-30zM332 305h18v3h-18zM383 305h12v3h-12zM287 308h6v3h-6zM308 308h42v3h-42zM380 308h12v3h-12zM284 311h6v3h-6zM311 311h39v3h-39zM377 311h12v3h-12zM281 314h6v3h-6zM314 314h36v3h-36zM374 314h15v3h-15zM281 317h3v3h-3zM314 317h36v3h-36zM374 317h12v3h-12zM281 320h3v3h-3zM314 320h36v3h-36zM374 320h12v3h-12zM278 323h3v3h-3zM314 323h36v3h-36zM374 323h9v3h-9zM275 326h3v3h-3zM314 326h33v3h-33zM374 326h9v3h-9zM272 329h6v3h-6zM314 329h21v3h-21zM374 329h9v3h-9zM269 332h6v3h-6zM317 332h15v3h-15zM374 332h9v3h-9zM269 335h6v3h-6zM317 335h15v3h-15zM374 335h9v3h-9zM266 338h6v3h-6zM317 338h15v3h-15zM371 338h12v3h-12zM266 341h6v3h-6zM317 341h18v3h-18zM368 341h12v3h-12zM266 344h6v3h-6zM317 344h21v3h-21zM365 344h12v3h-12zM266 347h9v3h-9zM314 347h60v3h-60zM266 350h9v3h-9zM311 350h60v3h-60zM266 353h12v3h-12zM305 353h60v3h-60zM266 356h54v3h-54zM326 356h15v3h-15zM350 356h3v3h-3zM269 359h48v3h-48zM272 362h42v3h-42zM275 365h27v3h-27z"/>
<path fill="rgb(0,212,255)" d="M488 38h9v3h-9zM485 41h9v3h-9zM485 44h6v3h-6zM485 47h6v3h-6zM482 50h6v3h-6zM482 53h6v3h-6zM479 56h6v3h-6zM380 59h15v3h-15zM476 59h9v3h-9zM365 62h48v3h-48zM473 62h9v3h-9zM359 65h63v3h-63zM470 65h9v3h-9zM353 68h81v3h-81zM467 68h9v3h-9zM347 71h126v3h-126zM344 74h33v3h-33zM419 74h51v3h-51zM341 77h27v3h-27zM428 77h39v3h-39zM338 80h24v3h-24zM440 80h15v3h-15zM548 80h3v3h-3zM554 80h3v3h-3zM335 83h24v3h-24zM545 83h3v3h-3zM557 83h3v3h-3zM335 86h21v3h-21zM332 89h21v3h-21zM542 89h3v3h-3zM329 92h21v3h-21zM542 92h3v3h-3zM557 92h3v3h-3zM329 95h18v3h-18zM557 95h3v3h-3zM329 98h15v3h-15zM545 98h3v3h-3zM554 98h3v3h-3zM326 101h18v3h-18zM548 101h6v3h-6zM326 104h15v3h-15zM326 107h15v3h-15zM323 110h15v3h-15zM323 113h15v3h-15zM323 116h15v3h-15zM323 119h12v3h-12zM323 122h12v3h-12zM323 125h12v3h-12zM323 128h12v3h-12zM323 131h12v3h-12zM323 134h12v3h-12zM323 137h9v3h-9zM323 140h9v3h-9zM323 143h9v3h-9zM323 146h9v3h-9zM323 149h9v3h-9zM320 152h9v3h-9zM320 155h9v3h-9zM572 155h3v3h-3zM320 158h6v3h-6zM566 158h9v3h-9zM320 161h6v3h-6zM557 161h18v3h-18zM272 164h6v3h-6zM317 164h6v3h-6zM554 164h21v3h-21zM269 167h12v3h-12zM317 167h6v3h-6zM551 167h15v3h-15zM269 170h3v3h-3zM281 170h3v3h-3zM314 170h6v3h-6zM548 170h12v3h-12zM266 173h3v3h-3zM281 173h3v3h-3zM314 173h3v3h-3zM548 173h9v3h-9zM260 176h6v3h-6zM284 176h3v3h-3zM314 176h3v3h-3zM548 176h6v3h-6zM257 179h3v3h-3zM284 179h3v3h-3zM314 179h3v3h-3zM548 179h6v3h-6zM257 182h3v3h-3zM284 182h3v3h-3zM314 182h3v3h-3zM545 182h12v3h-12zM257 185h3v3h-3zM284 185h3v3h-3zM314 185h3v3h-3zM545 185h18v3h-18zM257 188h3v3h-3zM281 188h3v3h-3zM314 188h3v3h-3zM545 188h24v3h-24zM257 191h3v3h-3zM281 191h3v3h-3zM314 191h3v3h-3zM542 191h27v3h-27zM257 194h3v3h-3zM311 194h6v3h-6zM542 194h21v3h-21zM566 194h6v3h-6zM257 197h6v3h-6zM278 197h3v3h-3zM311 197h3v3h-3zM542 197h21v3h-21zM569 197h3v3h-3zM260 200h3v3h-3zM275 200h3v3h-3zM311 200h3v3h-3zM542 200h30v3h-30zM260 203h3v3h-3zM272 203h3v3h-3zM311 203h3v3h-3zM539 203h33v3h-33zM263 206h12v3h-12zM311 206h3v3h-3zM539 206h12v3h-12zM266 209h3v3h-3zM311 209h3v3h-3zM536 209h9v3h-9zM311 212h3v3h-3zM533 212h9v3h-9zM311 215h3v3h-3zM527 215h12v3h-12zM311 218h3v3h-3zM524 218h9v3h-9zM311 221h3v3h-3zM518 221h12v3h-12zM311 224h3v3h-3zM515 224h9v3h-9zM311 227h6v3h-6zM506 227h15v3h-15zM311 230h6v3h-6zM497 230h21v3h-21zM311 233h6v3h-6zM470 233h15v3h-15zM491 233h15v3h-15zM311 236h6v3h-6zM464 236h12v3h-12zM479 236h21v3h-21zM311 239h6v3h-6zM434 239h33v3h-33zM485 239h9v3h-9zM314 242h6v3h-6zM431 242h6v3h-6zM314 245h9v3h-9zM431 245h3v3h-3zM317 248h9v3h-9zM428 248h3v3h-3zM320 251h9v3h-9zM425 251h3v3h-3zM323 254h9v3h-9zM416 254h9v3h-9zM326 257h9v3h-9zM401 257h12v3h-12zM329 260h12v3h-12zM395 260h9v3h-9zM332 263h15v3h-15zM392 263h9v3h-9zM335 266h18v3h-18zM389 266h9v3h-9zM341 269h15v3h-15zM386 269h9v3h-9zM347 272h9v3h-9zM383 272h12v3h-12zM347 275h12v3h-12zM383 275h9v3h-9zM347 278h12v3h-12zM383 278h9v3h-9zM347 281h12v3h-12zM383 281h9v3h-9zM347 284h12v3h-12zM383 284h9v3h-9zM350 287h9v3h-9zM383 287h9v3h-9zM350 290h9v3h-9zM383 290h9v3h-9zM350 293h9v3h-9zM383 293h6v3h-6zM350 296h12v3h-12zM383 296h6v3h-6zM350 299h12v3h-12zM380 299h9v3h-9zM350 302h15v3h-15zM374 302h12v3h-12zM350 305h33v3h-33zM293 308h15v3h-15zM350 308h30v3h-30zM290 311h9v3h-9zM302 311h9v3h-9zM350 311h27v3h-27zM287 314h6v3h-6zM305 314h9v3h-9zM350 314h24v3h-24zM284 317h6v3h-6zM305 317h9v3h-9zM350 317h24v3h-24zM284 320h6v3h-6zM305 320h9v3h-9zM350 320h24v3h-24zM281 323h6v3h-6zM305 323h9v3h-9zM350 323h24v3h-24zM278 326h6v3h-6zM305 326h9v3h-9zM347 326h27v3h-27zM278 329h6v3h-6zM305 329h9v3h-9zM335 329h39v3h-39zM275 332h6v3h-6zM308 332h9v3h-9zM332 332h42v3h-42zM275 335h6v3h-6zM308 335h9v3h-9zM332 335h42v3h-42zM272 338h6v3h-6zM308 338h9v3h-9zM332 338h39v3h-39zM272 341h9v3h-9zM308 341h9v3h-9zM335 341h33v3h-33zM272 344h12v3h-12zM305 344h12v3h-12zM338 344h27v3h-27zM275 347h39v3h-39zM275 350h36v3h-36zM278 353h27v3h-27z"/>
<path fill="rgb(0,234,255)" d="M497 38h12v3h-12zM494 41h9v3h-9zM491 44h9v3h-9zM491 47h6v3h-6zM488 50h6v3h-6zM488 53h6v3h-6zM485 56h9v3h-9zM485 59h6v3h-6zM482 62h6v3h-6zM479 65h9v3h-9zM476 68h9v3h-9zM473 71h9v3h-9zM377 74h42v3h-42zM470 74h9v3h-9zM548 74h12v3h-12zM368 77h60v3h-60zM467 77h9v3h-9zM548 77h12v3h-12zM362 80h78v3h-78zM455 80h21v3h-21zM545 80h3v3h-3zM557 80h6v3h-6zM359 83h27v3h-27zM419 83h51v3h-51zM356 86h21v3h-21zM431 86h36v3h-36zM542 86h3v3h-3zM557 86h3v3h-3zM353 89h18v3h-18zM437 89h24v3h-24zM557 89h3v3h-3zM350 92h18v3h-18zM446 92h6v3h-6zM347 95h15v3h-15zM542 95h3v3h-3zM344 98h15v3h-15zM557 98h3v3h-3zM344 101h12v3h-12zM545 101h3v3h-3zM554 101h6v3h-6zM341 104h15v3h-15zM548 104h9v3h-9zM341 107h12v3h-12zM338 110h12v3h-12zM338 113h12v3h-12zM338 116h9v3h-9zM335 119h12v3h-12zM335 122h12v3h-12zM335 125h9v3h-9zM335 128h9v3h-9zM335 131h9v3h-9zM335 134h9v3h-9zM332 137h12v3h-12zM332 140h12v3h-12zM332 143h9v3h-9zM572 143h3v3h-3zM332 146h9v3h-9zM569 146h6v3h-6zM332 149h9v3h-9zM566 149h9v3h-9zM329 152h9v3h-9zM560 152h15v3h-15zM329 155h6v3h-6zM554 155h18v3h-18zM326 158h9v3h-9zM548 158h18v3h-18zM326 161h6v3h-6zM545 161h12v3h-12zM323 164h9v3h-9zM542 164h12v3h-12zM323 167h9v3h-9zM542 167h9v3h-9zM272 170h9v3h-9zM320 170h6v3h-6zM542 170h6v3h-6zM269 173h12v3h-12zM317 173h6v3h-6zM542 173h6v3h-6zM266 176h6v3h-6zM278 176h6v3h-6zM317 176h3v3h-3zM542 176h6v3h-6zM260 179h3v3h-3zM281 179h3v3h-3zM317 179h3v3h-3zM539 179h9v3h-9zM260 182h3v3h-3zM281 182h3v3h-3zM317 182h3v3h-3zM539 182h6v3h-6zM260 185h3v3h-3zM281 185h3v3h-3zM317 185h6v3h-6zM539 185h6v3h-6zM260 188h3v3h-3zM317 188h3v3h-3zM536 188h9v3h-9zM260 191h3v3h-3zM278 191h3v3h-3zM317 191h3v3h-3zM536 191h6v3h-6zM260 194h3v3h-3zM278 194h3v3h-3zM317 194h3v3h-3zM533 194h9v3h-9zM563 194h3v3h-3zM263 197h3v3h-3zM275 197h3v3h-3zM314 197h6v3h-6zM533 197h9v3h-9zM563 197h6v3h-6zM263 200h3v3h-3zM272 200h3v3h-3zM314 200h3v3h-3zM533 200h9v3h-9zM263 203h9v3h-9zM314 203h6v3h-6zM533 203h6v3h-6zM314 206h6v3h-6zM533 206h6v3h-6zM314 209h6v3h-6zM521 209h15v3h-15zM314 212h6v3h-6zM515 212h18v3h-18zM314 215h6v3h-6zM509 215h18v3h-18zM314 218h6v3h-6zM503 218h21v3h-21zM314 221h6v3h-6zM500 221h18v3h-18zM314 224h6v3h-6zM494 224h21v3h-21zM317 227h6v3h-6zM476 227h9v3h-9zM491 227h15v3h-15zM317 230h6v3h-6zM467 230h30v3h-30zM317 233h6v3h-6zM461 233h9v3h-9zM485 233h6v3h-6zM317 236h6v3h-6zM449 236h15v3h-15zM317 239h9v3h-9zM431 239h3v3h-3zM320 242h9v3h-9zM323 245h12v3h-12zM428 245h3v3h-3zM326 248h12v3h-12zM425 248h3v3h-3zM329 251h12v3h-12zM416 251h9v3h-9zM332 254h15v3h-15zM401 254h15v3h-15zM335 257h18v3h-18zM392 257h9v3h-9zM341 260h15v3h-15zM386 260h9v3h-9zM347 263h15v3h-15zM377 263h15v3h-15zM353 266h36v3h-36zM356 269h30v3h-30zM356 272h27v3h-27zM359 275h24v3h-24zM359 278h24v3h-24zM359 281h24v3h-24zM359 284h24v3h-24zM359 287h24v3h-24zM359 290h24v3h-24zM359 293h24v3h-24zM362 296h21v3h-21zM362 299h18v3h-18zM365 302h9v3h-9zM299 311h3v3h-3zM293 314h12v3h-12zM290 317h15v3h-15zM290 320h15v3h-15zM287 323h18v3h-18zM284 326h21v3h-21zM284 329h9v3h-9zM296 329h9v3h-9zM281 332h12v3h-12zM296 332h12v3h-12zM281 335h27v3h-27zM278 338h30v3h-30zM281 341h27v3h-27zM284 344h21v3h-21z"/>
<path fill="rgb(0,255,255)" d="M509 38h66v3h-66zM503 41h72v3h-72zM500 44h75v3h-75zM497 47h24v3h-24zM539 47h36v3h-36zM494 50h18v3h-18zM545 50h30v3h-30zM494 53h12v3h-12zM545 53h30v3h-30zM494 56h9v3h-9zM548 56h27v3h-27zM491 59h9v3h-9zM548 59h27v3h-27zM488 62h12v3h-12zM545 62h30v3h-30zM488 65h9v3h-9zM545 65h30v3h-30zM485 68h9v3h-9zM545 68h30v3h-30zM482 71h9v3h-9zM545 71h30v3h-30zM479 74h9v3h-9zM545 74h3v3h-3zM560 74h12v3h-12zM476 77h12v3h-12zM542 77h6v3h-6zM560 77h12v3h-12zM476 80h9v3h-9zM542 80h3v3h-3zM563 80h6v3h-6zM386 83h33v3h-33zM470 83h12v3h-12zM542 83h3v3h-3zM560 83h6v3h-6zM377 86h54v3h-54zM467 86h12v3h-12zM560 86h3v3h-3zM371 89h66v3h-66zM461 89h12v3h-12zM368 92h21v3h-21zM428 92h18v3h-18zM452 92h18v3h-18zM539 92h3v3h-3zM560 92h3v3h-3zM362 95h18v3h-18zM434 95h30v3h-30zM539 95h3v3h-3zM560 95h3v3h-3zM359 98h15v3h-15zM440 98h18v3h-18zM542 98h3v3h-3zM560 98h3v3h-3zM356 101h15v3h-15zM542 101h3v3h-3zM560 101h3v3h-3zM356 104h12v3h-12zM545 104h3v3h-3zM557 104h6v3h-6zM353 107h12v3h-12zM548 107h15v3h-15zM350 110h12v3h-12zM551 110h12v3h-12zM350 113h9v3h-9zM557 113h6v3h-6zM347 116h12v3h-12zM566 116h9v3h-9zM347 119h9v3h-9zM566 119h9v3h-9zM347 122h9v3h-9zM566 122h9v3h-9zM344 125h9v3h-9zM563 125h12v3h-12zM344 128h9v3h-9zM563 128h12v3h-12zM344 131h9v3h-9zM563 131h12v3h-12zM344 134h6v3h-6zM560 134h15v3h-15zM344 137h6v3h-6zM560 137h15v3h-15zM344 140h6v3h-6zM557 140h18v3h-18zM341 143h9v3h-9zM557 143h15v3h-15zM341 146h9v3h-9zM554 146h15v3h-15zM341 149h9v3h-9zM548 149h18v3h-18zM338 152h12v3h-12zM545 152h15v3h-15zM335 155h15v3h-15zM542 155h12v3h-12zM335 158h12v3h-12zM542 158h6v3h-6zM332 161h6v3h-6zM539 161h6v3h-6zM332 164h6v3h-6zM536 164h6v3h-6zM332 167h3v3h-3zM536 167h6v3h-6zM326 170h9v3h-9zM536 170h6v3h-6zM323 173h12v3h-12zM536 173h6v3h-6zM272 176h6v3h-6zM320 176h15v3h-15zM536 176h6v3h-6zM263 179h18v3h-18zM320 179h15v3h-15zM533 179h6v3h-6zM263 182h18v3h-18zM320 182h12v3h-12zM533 182h6v3h-6zM263 185h9v3h-9zM275 185h6v3h-6zM323 185h9v3h-9zM530 185h9v3h-9zM263 188h6v3h-6zM275 188h6v3h-6zM320 188h9v3h-9zM527 188h9v3h-9zM263 191h6v3h-6zM275 191h3v3h-3zM320 191h9v3h-9zM524 191h12v3h-12zM263 194h15v3h-15zM320 194h6v3h-6zM521 194h12v3h-12zM266 197h9v3h-9zM320 197h6v3h-6zM515 197h18v3h-18zM266 200h6v3h-6zM317 200h9v3h-9zM509 200h24v3h-24zM320 203h6v3h-6zM506 203h27v3h-27zM320 206h6v3h-6zM506 206h27v3h-27zM320 209h6v3h-6zM503 209h18v3h-18zM320 212h9v3h-9zM497 212h18v3h-18zM320 215h9v3h-9zM491 215h18v3h-18zM320 218h9v3h-9zM479 218h24v3h-24zM320 221h9v3h-9zM476 221h24v3h-24zM320 224h12v3h-12zM470 224h24v3h-24zM323 227h9v3h-9zM467 227h9v3h-9zM485 227h6v3h-6zM323 230h12v3h-12zM461 230h6v3h-6zM323 233h12v3h-12zM452 233h9v3h-9zM323 236h15v3h-15zM434 236h15v3h-15zM326 239h15v3h-15zM428 239h3v3h-3zM329 242h15v3h-15zM428 242h3v3h-3zM335 245h15v3h-15zM425 245h3v3h-3zM338 248h15v3h-15zM419 248h6v3h-6zM341 251h15v3h-15zM401 251h15v3h-15zM347 254h15v3h-15zM389 254h12v3h-12zM353 257h39v3h-39zM356 260h30v3h-30zM362 263h15v3h-15zM293 329h3v3h-3zM293 332h3v3h-3z"/>
<path fill="rgb(0,255,234)" d="M521 47h18v3h-18zM512 50h33v3h-33zM506 53h39v3h-39zM503 56h45v3h-45zM500 59h48v3h-48zM500 62h45v3h-45zM497 65h48v3h-48zM494 68h18v3h-18zM530 68h15v3h-15zM491 71h15v3h-15zM533 71h12v3h-12zM488 74h15v3h-15zM536 74h9v3h-9zM572 74h3v3h-3zM488 77h12v3h-12zM536 77h6v3h-6zM572 77h3v3h-3zM485 80h12v3h-12zM539 80h3v3h-3zM569 80h6v3h-6zM482 83h12v3h-12zM539 83h3v3h-3zM566 83h9v3h-9zM479 86h9v3h-9zM539 86h3v3h-3zM563 86h12v3h-12zM473 89h12v3h-12zM539 89h3v3h-3zM560 89h15v3h-15zM389 92h39v3h-39zM470 92h12v3h-12zM536 92h3v3h-3zM563 92h12v3h-12zM380 95h54v3h-54zM464 95h12v3h-12zM536 95h3v3h-3zM563 95h12v3h-12zM374 98h24v3h-24zM428 98h12v3h-12zM458 98h15v3h-15zM539 98h3v3h-3zM563 98h12v3h-12zM371 101h18v3h-18zM437 101h27v3h-27zM563 101h12v3h-12zM368 104h15v3h-15zM446 104h9v3h-9zM542 104h3v3h-3zM563 104h12v3h-12zM365 107h12v3h-12zM542 107h6v3h-6zM563 107h12v3h-12zM362 110h12v3h-12zM542 110h9v3h-9zM563 110h12v3h-12zM359 113h12v3h-12zM545 113h12v3h-12zM563 113h12v3h-12zM359 116h9v3h-9zM545 116h21v3h-21zM356 119h9v3h-9zM548 119h18v3h-18zM356 122h6v3h-6zM548 122h18v3h-18zM353 125h9v3h-9zM548 125h15v3h-15zM353 128h6v3h-6zM548 128h15v3h-15zM353 131h6v3h-6zM548 131h15v3h-15zM350 134h9v3h-9zM548 134h12v3h-12zM350 137h6v3h-6zM545 137h15v3h-15zM350 140h6v3h-6zM545 140h12v3h-12zM350 143h6v3h-6zM542 143h15v3h-15zM350 146h6v3h-6zM542 146h12v3h-12zM350 149h6v3h-6zM539 149h9v3h-9zM350 152h6v3h-6zM536 152h9v3h-9zM350 155h6v3h-6zM536 155h6v3h-6zM347 158h9v3h-9zM533 158h9v3h-9zM338 161h12v3h-12zM533 161h6v3h-6zM338 164h9v3h-9zM530 164h6v3h-6zM335 167h9v3h-9zM530 167h6v3h-6zM335 170h6v3h-6zM530 170h6v3h-6zM335 173h6v3h-6zM527 173h9v3h-9zM335 176h6v3h-6zM527 176h9v3h-9zM335 179h6v3h-6zM524 179h9v3h-9zM332 182h9v3h-9zM524 182h9v3h-9zM272 185h3v3h-3zM332 185h9v3h-9zM521 185h9v3h-9zM269 188h6v3h-6zM329 188h12v3h-12zM518 188h9v3h-9zM269 191h6v3h-6zM329 191h9v3h-9zM512 191h12v3h-12zM326 194h12v3h-12zM509 194h12v3h-12zM326 197h9v3h-9zM506 197h9v3h-9zM326 200h9v3h-9zM503 200h6v3h-6zM326 203h9v3h-9zM500 203h6v3h-6zM326 206h9v3h-9zM494 206h12v3h-12zM326 209h12v3h-12zM488 209h15v3h-15zM329 212h9v3h-9zM479 212h18v3h-18zM329 215h12v3h-12zM476 215h15v3h-15zM329 218h12v3h-12zM473 218h6v3h-6zM329 221h15v3h-15zM467 221h9v3h-9zM332 224h12v3h-12zM464 224h6v3h-6zM332 227h12v3h-12zM458 227h9v3h-9zM335 230h12v3h-12zM452 230h9v3h-9zM335 233h15v3h-15zM440 233h12v3h-12zM338 236h12v3h-12zM431 236h3v3h-3zM341 239h15v3h-15zM344 242h15v3h-15zM422 242h6v3h-6zM350 245h12v3h-12zM419 245h6v3h-6zM353 248h15v3h-15zM404 248h15v3h-15zM356 251h45v3h-45zM362 254h27v3h-27z"/>
<path fill="rgb(0,255,212)" d="M512 68h18v3h-18zM506 71h27v3h-27zM503 74h33v3h-33zM500 77h36v3h-36zM497 80h42v3h-42zM494 83h21v3h-21zM524 83h15v3h-15zM488 86h18v3h-18zM530 86h9v3h-9zM485 89h15v3h-15zM530 89h9v3h-9zM482 92h15v3h-15zM530 92h6v3h-6zM476 95h15v3h-15zM533 95h3v3h-3zM398 98h30v3h-30zM473 98h12v3h-12zM533 98h6v3h-6zM389 101h48v3h-48zM464 101h15v3h-15zM536 101h6v3h-6zM383 104h18v3h-18zM434 104h12v3h-12zM455 104h18v3h-18zM536 104h6v3h-6zM377 107h15v3h-15zM443 107h24v3h-24zM536 107h6v3h-6zM374 110h12v3h-12zM536 110h6v3h-6zM371 113h9v3h-9zM536 113h9v3h-9zM368 116h9v3h-9zM536 116h9v3h-9zM365 119h9v3h-9zM536 119h12v3h-12zM362 122h9v3h-9zM536 122h12v3h-12zM362 125h6v3h-6zM536 125h12v3h-12zM359 128h9v3h-9zM536 128h12v3h-12zM359 131h6v3h-6zM536 131h12v3h-12zM359 134h3v3h-3zM536 134h12v3h-12zM356 137h6v3h-6zM536 137h9v3h-9zM356 140h6v3h-6zM536 140h9v3h-9zM356 143h3v3h-3zM533 143h9v3h-9zM356 146h3v3h-3zM533 146h9v3h-9zM356 149h3v3h-3zM533 149h6v3h-6zM356 152h3v3h-3zM530 152h6v3h-6zM356 155h3v3h-3zM530 155h6v3h-6zM356 158h3v3h-3zM527 158h6v3h-6zM350 161h6v3h-6zM527 161h6v3h-6zM347 164h6v3h-6zM524 164h6v3h-6zM344 167h3v3h-3zM524 167h6v3h-6zM341 170h6v3h-6zM521 170h9v3h-9zM341 173h3v3h-3zM521 173h6v3h-6zM341 176h3v3h-3zM518 176h9v3h-9zM341 179h3v3h-3zM518 179h6v3h-6zM341 182h3v3h-3zM515 182h9v3h-9zM341 185h3v3h-3zM512 185h9v3h-9zM341 188h3v3h-3zM509 188h9v3h-9zM338 191h6v3h-6zM506 191h6v3h-6zM338 194h6v3h-6zM503 194h6v3h-6zM335 197h9v3h-9zM497 197h9v3h-9zM335 200h9v3h-9zM494 200h9v3h-9zM335 203h9v3h-9zM488 203h12v3h-12zM335 206h9v3h-9zM482 206h12v3h-12zM338 209h9v3h-9zM476 209h12v3h-12zM338 212h9v3h-9zM473 212h6v3h-6zM341 215h6v3h-6zM470 215h6v3h-6zM341 218h9v3h-9zM467 218h6v3h-6zM344 221h6v3h-6zM464 221h3v3h-3zM344 224h9v3h-9zM458 224h6v3h-6zM344 227h9v3h-9zM452 227h6v3h-6zM347 230h9v3h-9zM446 230h6v3h-6zM350 233h9v3h-9zM434 233h6v3h-6zM350 236h12v3h-12zM428 236h3v3h-3zM356 239h9v3h-9zM422 239h6v3h-6zM359 242h12v3h-12zM416 242h6v3h-6zM362 245h15v3h-15zM404 245h15v3h-15zM368 248h36v3h-36z"/>
<path fill="rgb(0,255,191)" d="M515 83h9v3h-9zM506 86h24v3h-24zM500 89h30v3h-30zM497 92h33v3h-33zM491 95h42v3h-42zM485 98h48v3h-48zM479 101h21v3h-21zM518 101h18v3h-18zM401 104h33v3h-33zM473 104h18v3h-18zM521 104h15v3h-15zM392 107h24v3h-24zM431 107h12v3h-12zM467 107h18v3h-18zM524 107h12v3h-12zM386 110h15v3h-15zM443 110h36v3h-36zM524 110h12v3h-12zM380 113h15v3h-15zM524 113h12v3h-12zM377 116h12v3h-12zM524 116h12v3h-12zM374 119h9v3h-9zM527 119h9v3h-9zM371 122h9v3h-9zM527 122h9v3h-9zM368 125h9v3h-9zM527 125h9v3h-9zM368 128h6v3h-6zM527 128h9v3h-9zM365 131h6v3h-6zM527 131h9v3h-9zM362 134h6v3h-6zM527 134h9v3h-9zM362 137h6v3h-6zM527 137h9v3h-9zM362 140h3v3h-3zM527 140h9v3h-9zM359 143h6v3h-6zM527 143h6v3h-6zM359 146h6v3h-6zM527 146h6v3h-6zM359 149h3v3h-3zM524 149h9v3h-9zM359 152h3v3h-3zM524 152h6v3h-6zM359 155h3v3h-3zM524 155h6v3h-6zM359 158h3v3h-3zM521 158h6v3h-6zM356 161h3v3h-3zM521 161h6v3h-6zM353 164h3v3h-3zM518 164h6v3h-6zM347 167h6v3h-6zM518 167h6v3h-6zM347 170h3v3h-3zM515 170h6v3h-6zM344 173h6v3h-6zM515 173h6v3h-6zM344 176h6v3h-6zM512 176h6v3h-6zM344 179h6v3h-6zM512 179h6v3h-6zM344 182h6v3h-6zM509 182h6v3h-6zM344 185h6v3h-6zM506 185h6v3h-6zM344 188h6v3h-6zM503 188h6v3h-6zM344 191h6v3h-6zM497 191h9v3h-9zM344 194h6v3h-6zM494 194h9v3h-9zM344 197h6v3h-6zM491 197h6v3h-6zM344 200h9v3h-9zM485 200h9v3h-9zM344 203h9v3h-9zM479 203h9v3h-9zM344 206h9v3h-9zM473 206h9v3h-9zM347 209h6v3h-6zM470 209h6v3h-6zM347 212h6v3h-6zM467 212h6v3h-6zM347 215h9v3h-9zM464 215h6v3h-6zM350 218h6v3h-6zM461 218h6v3h-6zM350 221h9v3h-9zM458 221h6v3h-6zM353 224h6v3h-6zM452 224h6v3h-6zM353 227h9v3h-9zM449 227h3v3h-3zM356 230h9v3h-9zM440 230h6v3h-6zM359 233h9v3h-9zM431 233h3v3h-3zM362 236h9v3h-9zM425 236h3v3h-3zM365 239h9v3h-9zM416 239h6v3h-6zM371 242h15v3h-15zM407 242h9v3h-9zM377 245h27v3h-27z"/>
<path fill="rgb(0,255,170)" d="M500 101h18v3h-18zM491 104h30v3h-30zM416 107h15v3h-15zM485 107h39v3h-39zM401 110h42v3h-42zM479 110h45v3h-45zM395 113h18v3h-18zM443 113h51v3h-51zM506 113h18v3h-18zM389 116h15v3h-15zM452 116h33v3h-33zM509 116h15v3h-15zM383 119h12v3h-12zM467 119h6v3h-6zM512 119h15v3h-15zM380 122h12v3h-12zM515 122h12v3h-12zM377 125h9v3h-9zM515 125h12v3h-12zM374 128h9v3h-9zM518 128h9v3h-9zM371 131h9v3h-9zM518 131h9v3h-9zM368 134h6v3h-6zM518 134h9v3h-9zM368 137h6v3h-6zM521 137h6v3h-6zM365 140h6v3h-6zM521 140h6v3h-6zM365 143h3v3h-3zM521 143h6v3h-6zM365 146h3v3h-3zM521 146h6v3h-6zM362 149h3v3h-3zM518 149h6v3h-6zM362 152h3v3h-3zM518 152h6v3h-6zM362 155h3v3h-3zM518 155h6v3h-6zM362 158h3v3h-3zM515 158h6v3h-6zM359 161h3v3h-3zM515 161h6v3h-6zM356 164h6v3h-6zM512 164h6v3h-6zM353 167h6v3h-6zM512 167h6v3h-6zM350 170h6v3h-6zM509 170h6v3h-6zM350 173h3v3h-3zM509 173h6v3h-6zM350 176h3v3h-3zM506 176h6v3h-6zM350 179h3v3h-3zM506 179h6v3h-6zM350 182h3v3h-3zM503 182h6v3h-6zM350 185h3v3h-3zM500 185h6v3h-6zM350 188h6v3h-6zM494 188h9v3h-9zM350 191h6v3h-6zM491 191h6v3h-6zM350 194h6v3h-6zM488 194h6v3h-6zM350 197h6v3h-6zM482 197h9v3h-9zM353 200h6v3h-6zM476 200h9v3h-9zM353 203h6v3h-6zM473 203h6v3h-6zM353 206h6v3h-6zM470 206h3v3h-3zM353 209h6v3h-6zM467 209h3v3h-3zM353 212h6v3h-6zM464 212h3v3h-3zM356 215h6v3h-6zM461 215h3v3h-3zM356 218h6v3h-6zM458 218h3v3h-3zM359 221h6v3h-6zM452 221h6v3h-6zM359 224h6v3h-6zM449 224h3v3h-3zM362 227h6v3h-6zM443 227h6v3h-6zM365 230h6v3h-6zM434 230h6v3h-6zM368 233h6v3h-6zM425 233h6v3h-6zM371 236h9v3h-9zM419 236h6v3h-6zM374 239h15v3h-15zM407 239h9v3h-9zM386 242h21v3h-21z"/>
<path fill="rgb(0,255,149)" d="M413 113h30v3h-30zM494 113h12v3h-12zM404 116h15v3h-15zM443 116h9v3h-9zM485 116h24v3h-24zM395 119h15v3h-15zM449 119h18v3h-18zM473 119h39v3h-39zM392 122h12v3h-12zM458 122h57v3h-57zM386 125h12v3h-12zM464 125h21v3h-21zM503 125h12v3h-12zM383 128h9v3h-9zM506 128h12v3h-12zM380 131h9v3h-9zM509 131h9v3h-9zM374 134h9v3h-9zM509 134h9v3h-9zM374 137h6v3h-6zM512 137h9v3h-9zM371 140h6v3h-6zM512 140h9v3h-9zM368 143h6v3h-6zM512 143h9v3h-9zM368 146h3v3h-3zM512 146h9v3h-9zM365 149h3v3h-3zM512 149h6v3h-6zM365 152h3v3h-3zM512 152h6v3h-6zM365 155h3v3h-3zM509 155h9v3h-9zM509 158h6v3h-6zM362 161h3v3h-3zM506 161h9v3h-9zM362 164h3v3h-3zM506 164h6v3h-6zM359 167h3v3h-3zM503 167h9v3h-9zM356 170h6v3h-6zM503 170h6v3h-6zM353 173h6v3h-6zM503 173h6v3h-6zM353 176h6v3h-6zM500 176h6v3h-6zM353 179h6v3h-6zM500 179h6v3h-6zM353 182h6v3h-6zM494 182h9v3h-9zM353 185h6v3h-6zM491 185h9v3h-9zM356 188h3v3h-3zM488 188h6v3h-6zM356 191h3v3h-3zM482 191h9v3h-9zM356 194h6v3h-6zM479 194h9v3h-9zM356 197h6v3h-6zM473 197h9v3h-9zM359 200h3v3h-3zM470 200h6v3h-6zM359 203h6v3h-6zM467 203h6v3h-6zM359 206h6v3h-6zM464 206h6v3h-6zM359 209h6v3h-6zM461 209h6v3h-6zM359 212h6v3h-6zM458 212h6v3h-6zM362 215h6v3h-6zM455 215h6v3h-6zM362 218h6v3h-6zM452 218h6v3h-6zM365 221h6v3h-6zM449 221h3v3h-3zM365 224h6v3h-6zM446 224h3v3h-3zM368 227h6v3h-6zM440 227h3v3h-3zM371 230h9v3h-9zM428 230h6v3h-6zM374 233h9v3h-9zM419 233h6v3h-6zM380 236h12v3h-12zM407 236h12v3h-12zM389 239h18v3h-18z"/>
<path fill="rgb(0,255,128)" d="M419 116h24v3h-24zM410 119h12v3h-12zM440 119h9v3h-9zM404 122h12v3h-12zM446 122h12v3h-12zM398 125h12v3h-12zM452 125h12v3h-12zM485 125h18v3h-18zM392 128h9v3h-9zM458 128h48v3h-48zM389 131h9v3h-9zM461 131h48v3h-48zM383 134h12v3h-12zM467 134h42v3h-42zM380 137h9v3h-9zM503 137h9v3h-9zM377 140h9v3h-9zM503 140h9v3h-9zM374 143h6v3h-6zM503 143h9v3h-9zM371 146h3v3h-3zM503 146h9v3h-9zM368 149h6v3h-6zM500 149h12v3h-12zM368 152h3v3h-3zM500 152h12v3h-12zM368 155h3v3h-3zM497 155h12v3h-12zM365 158h3v3h-3zM497 158h12v3h-12zM365 161h3v3h-3zM494 161h12v3h-12zM365 164h3v3h-3zM494 164h12v3h-12zM362 167h6v3h-6zM494 167h9v3h-9zM362 170h3v3h-3zM491 170h12v3h-12zM359 173h6v3h-6zM491 173h12v3h-12zM359 176h3v3h-3zM488 176h12v3h-12zM359 179h3v3h-3zM485 179h15v3h-15zM359 182h3v3h-3zM482 182h12v3h-12zM359 185h3v3h-3zM482 185h9v3h-9zM359 188h6v3h-6zM479 188h9v3h-9zM359 191h6v3h-6zM473 191h9v3h-9zM362 194h3v3h-3zM470 194h9v3h-9zM362 197h6v3h-6zM467 197h6v3h-6zM362 200h6v3h-6zM464 200h6v3h-6zM365 203h3v3h-3zM464 203h3v3h-3zM365 206h3v3h-3zM461 206h3v3h-3zM365 209h6v3h-6zM458 209h3v3h-3zM365 212h6v3h-6zM455 212h3v3h-3zM368 215h3v3h-3zM452 215h3v3h-3zM368 218h6v3h-6zM449 218h3v3h-3zM371 221h6v3h-6zM446 221h3v3h-3zM371 224h6v3h-6zM440 224h6v3h-6zM374 227h9v3h-9zM437 227h3v3h-3zM380 230h9v3h-9zM422 230h6v3h-6zM383 233h15v3h-15zM407 233h12v3h-12zM392 236h15v3h-15z"/>
<path fill="rgb(0,255,106)" d="M422 119h18v3h-18zM416 122h9v3h-9zM440 122h6v3h-6zM410 125h9v3h-9zM446 125h6v3h-6zM401 128h12v3h-12zM449 128h9v3h-9zM398 131h9v3h-9zM452 131h9v3h-9zM395 134h6v3h-6zM455 134h12v3h-12zM389 137h9v3h-9zM461 137h42v3h-42zM386 140h9v3h-9zM464 140h39v3h-39zM380 143h12v3h-12zM467 143h36v3h-36zM374 146h9v3h-9zM470 146h33v3h-33zM374 149h3v3h-3zM470 149h30v3h-30zM371 152h3v3h-3zM473 152h27v3h-27zM371 155h3v3h-3zM473 155h24v3h-24zM368 158h3v3h-3zM473 158h24v3h-24zM368 161h3v3h-3zM470 161h24v3h-24zM368 164h3v3h-3zM470 164h24v3h-24zM368 167h3v3h-3zM467 167h27v3h-27zM365 170h6v3h-6zM467 170h24v3h-24zM365 173h3v3h-3zM470 173h21v3h-21zM362 176h6v3h-6zM470 176h18v3h-18zM362 179h6v3h-6zM470 179h15v3h-15zM362 182h6v3h-6zM470 182h12v3h-12zM362 185h6v3h-6zM470 185h12v3h-12zM365 188h3v3h-3zM470 188h9v3h-9zM365 191h3v3h-3zM467 191h6v3h-6zM365 194h6v3h-6zM464 194h6v3h-6zM368 197h3v3h-3zM464 197h3v3h-3zM368 200h3v3h-3zM461 200h3v3h-3zM368 203h6v3h-6zM458 203h6v3h-6zM368 206h6v3h-6zM455 206h6v3h-6zM371 209h3v3h-3zM452 209h6v3h-6zM371 212h6v3h-6zM449 212h6v3h-6zM371 215h6v3h-6zM446 215h6v3h-6zM374 218h6v3h-6zM443 218h6v3h-6zM377 221h6v3h-6zM443 221h3v3h-3zM377 224h9v3h-9zM437 224h3v3h-3zM383 227h9v3h-9zM425 227h12v3h-12zM389 230h33v3h-33zM398 233h9v3h-9z"/>
<path fill="rgb(0,255,85)" d="M425 122h15v3h-15zM419 125h6v3h-6zM437 125h9v3h-9zM413 128h6v3h-6zM443 128h6v3h-6zM407 131h6v3h-6zM446 131h6v3h-6zM401 134h6v3h-6zM449 134h6v3h-6zM398 137h6v3h-6zM452 137h9v3h-9zM395 140h6v3h-6zM452 140h12v3h-12zM392 143h9v3h-9zM455 143h12v3h-12zM383 146h15v3h-15zM458 146h12v3h-12zM377 149h18v3h-18zM458 149h12v3h-12zM374 152h6v3h-6zM458 152h15v3h-15zM374 155h3v3h-3zM461 155h12v3h-12zM371 158h6v3h-6zM461 158h12v3h-12zM371 161h6v3h-6zM461 161h9v3h-9zM371 164h6v3h-6zM461 164h9v3h-9zM371 167h3v3h-3zM461 167h6v3h-6zM371 170h3v3h-3zM461 170h6v3h-6zM368 173h6v3h-6zM461 173h9v3h-9zM368 176h6v3h-6zM461 176h9v3h-9zM368 179h6v3h-6zM461 179h9v3h-9zM368 182h6v3h-6zM464 182h6v3h-6zM368 185h6v3h-6zM461 185h9v3h-9zM368 188h6v3h-6zM461 188h9v3h-9zM368 191h6v3h-6zM461 191h6v3h-6zM371 194h6v3h-6zM458 194h6v3h-6zM371 197h6v3h-6zM458 197h6v3h-6zM371 200h6v3h-6zM455 200h6v3h-6zM374 203h6v3h-6zM455 203h3v3h-3zM374 206h6v3h-6zM452 206h3v3h-3zM374 209h9v3h-9zM449 209h3v3h-3zM377 212h6v3h-6zM446 212h3v3h-3zM377 215h9v3h-9zM443 215h3v3h-3zM380 218h6v3h-6zM440 218h3v3h-3zM383 221h9v3h-9zM440 221h3v3h-3zM386 224h9v3h-9zM392 227h33v3h-33z"/>
<path fill="rgb(0,255,64)" d="M425 125h12v3h-12zM419 128h9v3h-9zM434 128h9v3h-9zM413 131h6v3h-6zM440 131h6v3h-6zM407 134h9v3h-9zM443 134h6v3h-6zM404 137h6v3h-6zM443 137h9v3h-9zM401 140h6v3h-6zM446 140h6v3h-6zM401 143h3v3h-3zM446 143h9v3h-9zM398 146h3v3h-3zM449 146h9v3h-9zM395 149h6v3h-6zM449 149h9v3h-9zM380 152h18v3h-18zM449 152h9v3h-9zM377 155h12v3h-12zM449 155h12v3h-12zM377 158h6v3h-6zM452 158h9v3h-9zM377 161h6v3h-6zM452 161h9v3h-9zM377 164h3v3h-3zM452 164h9v3h-9zM374 167h6v3h-6zM452 167h9v3h-9zM374 170h6v3h-6zM452 170h9v3h-9zM374 173h6v3h-6zM452 173h9v3h-9zM374 176h6v3h-6zM455 176h6v3h-6zM374 179h6v3h-6zM455 179h6v3h-6zM374 182h6v3h-6zM455 182h9v3h-9zM374 185h6v3h-6zM455 185h6v3h-6zM374 188h6v3h-6zM455 188h6v3h-6zM374 191h9v3h-9zM455 191h6v3h-6zM377 194h6v3h-6zM455 194h3v3h-3zM377 197h6v3h-6zM452 197h6v3h-6zM377 200h9v3h-9zM452 200h3v3h-3zM380 203h6v3h-6zM449 203h6v3h-6zM380 206h9v3h-9zM446 206h6v3h-6zM383 209h6v3h-6zM443 209h6v3h-6zM383 212h9v3h-9zM440 212h6v3h-6zM386 215h6v3h-6zM440 215h3v3h-3zM386 218h9v3h-9zM437 218h3v3h-3zM392 221h9v3h-9zM434 221h6v3h-6zM395 224h42v3h-42z"/>
<path fill="rgb(0,255,42)" d="M428 128h6v3h-6zM419 131h21v3h-21zM416 134h6v3h-6zM434 134h9v3h-9zM410 137h6v3h-6zM437 137h6v3h-6zM407 140h6v3h-6zM440 140h6v3h-6zM404 143h3v3h-3zM440 143h6v3h-6zM401 146h6v3h-6zM440 146h9v3h-9zM401 149h3v3h-3zM440 149h9v3h-9zM398 152h3v3h-3zM440 152h9v3h-9zM389 155h12v3h-12zM440 155h9v3h-9zM383 158h12v3h-12zM440 158h12v3h-12zM383 161h6v3h-6zM440 161h12v3h-12zM380 164h9v3h-9zM440 164h12v3h-12zM380 167h9v3h-9zM440 167h12v3h-12zM380 170h6v3h-6zM443 170h9v3h-9zM380 173h6v3h-6zM443 173h9v3h-9zM380 176h6v3h-6zM446 176h9v3h-9zM380 179h9v3h-9zM446 179h9v3h-9zM380 182h9v3h-9zM446 182h9v3h-9zM380 185h9v3h-9zM446 185h9v3h-9zM380 188h12v3h-12zM446 188h9v3h-9zM383 191h9v3h-9zM446 191h9v3h-9zM383 194h12v3h-12zM446 194h9v3h-9zM383 197h15v3h-15zM446 197h6v3h-6zM386 200h15v3h-15zM443 200h9v3h-9zM386 203h15v3h-15zM440 203h9v3h-9zM389 206h12v3h-12zM437 206h9v3h-9zM389 209h12v3h-12zM437 209h6v3h-6zM392 212h9v3h-9zM434 212h6v3h-6zM392 215h15v3h-15zM431 215h9v3h-9zM395 218h18v3h-18zM425 218h12v3h-12zM401 221h33v3h-33z"/>
<path fill="rgb(0,255,21)" d="M422 134h12v3h-12zM416 137h21v3h-21zM413 140h6v3h-6zM431 140h9v3h-9zM407 143h9v3h-9zM431 143h9v3h-9zM407 146h3v3h-3zM434 146h6v3h-6zM404 149h3v3h-3zM434 149h6v3h-6zM401 152h6v3h-6zM431 152h9v3h-9zM401 155h6v3h-6zM431 155h9v3h-9zM395 158h9v3h-9zM431 158h9v3h-9zM389 161h15v3h-15zM431 161h9v3h-9zM389 164h12v3h-12zM431 164h9v3h-9zM389 167h9v3h-9zM431 167h9v3h-9zM386 170h12v3h-12zM434 170h9v3h-9zM386 173h12v3h-12zM434 173h9v3h-9zM386 176h12v3h-12zM434 176h12v3h-12zM389 179h12v3h-12zM437 179h9v3h-9zM389 182h12v3h-12zM437 182h9v3h-9zM389 185h15v3h-15zM437 185h9v3h-9zM392 188h15v3h-15zM437 188h9v3h-9zM392 191h15v3h-15zM434 191h12v3h-12zM395 194h15v3h-15zM434 194h12v3h-12zM398 197h12v3h-12zM431 197h15v3h-15zM401 200h12v3h-12zM428 200h15v3h-15zM401 203h15v3h-15zM425 203h15v3h-15zM401 206h36v3h-36zM401 209h36v3h-36zM401 212h33v3h-33zM407 215h24v3h-24zM413 218h12v3h-12z"/>
<path fill="rgb(0,255,0)" d="M419 140h12v3h-12zM416 143h15v3h-15zM410 146h24v3h-24zM407 149h27v3h-27zM407 152h24v3h-24zM407 155h24v3h-24zM404 158h27v3h-27zM404 161h27v3h-27zM401 164h30v3h-30zM398 167h33v3h-33zM398 170h36v3h-36zM398 173h36v3h-36zM398 176h36v3h-36zM401 179h36v3h-36zM401 182h36v3h-36zM404 185h33v3h-33zM407 188h30v3h-30zM407 191h27v3h-27zM410 194h24v3h-24zM410 197h21v3h-21zM413 200h15v3h-15zM416 203h9v3h-9z"/>
</g>
<path d="M145.0,28.0 468.0,28.0 466.0,38.0 463.0,42.0 460.3,46.9 461.5,52.0 461.0,58.3 457.0,61.0 454.6,64.7 450.0,67.0 448.0,69.7 448.5,74.0 447.4,78.3 445.0,82.0 443.0,84.0 438.0,86.0 434.0,88.3 433.0,93.0 434.0,97.0 432.0,101.0 431.7,104.0 428.0,108.0 424.6,112.0 425.3,114.7 421.0,119.0 416.0,121.0 413.0,122.6 411.0,126.0 408.9,129.0 406.0,132.0 403.9,134.0 399.0,136.0 395.3,138.3 394.0,141.0 393.0,143.3 390.0,144.0 387.4,144.7 384.0,147.0 380.3,148.3 376.0,147.5 372.4,147.6 369.0,149.0 366.0,149.7 361.0,150.0 358.0,150.5 356.0,147.0 354.5,143.5 352.3,144.0 351.5,148.0 351.0,152.0 350.9,155.4 346.6,156.9 342.0,159.0 338.0,161.0 333.0,162.0 328.0,163.3 321.0,165.5 315.0,167.6 312.0,168.5 309.4,169.7 307.3,174.0 310.0,176.0 312.3,176.9 313.0,180.0 312.3,184.0 308.0,185.4 303.7,184.0 302.0,180.0 300.9,175.4 302.0,171.0 303.7,167.6 301.0,165.0 298.7,164.0 295.0,166.0 292.3,166.9 288.0,164.0 284.4,161.9 278.0,164.0 272.3,166.9 265.0,170.5 258.0,173.3 257.9,174.3 258.0,178.0 257.0,181.4 252.0,186.0 248.6,191.4 246.0,197.0 244.3,202.9 247.0,206.5 250.0,210.0 253.0,213.5 255.7,217.0 257.5,220.5 258.6,224.3 263.0,230.0 268.0,233.5 272.3,236.9 276.0,239.5 279.4,242.6 282.5,247.0 285.0,251.0 288.0,255.0 290.0,258.3 291.5,262.5 292.3,266.9 293.5,270.0 293.7,274.0 295.4,274.0 294.5,278.0 294.0,281.0 296.0,285.0 296.9,288.3 295.0,292.0 293.3,295.4 293.5,300.0 293.3,304.0 292.0,307.0 289.7,309.7 285.0,312.5 281.0,315.4 277.0,318.0 272.6,321.0 268.0,322.5 264.0,323.3 259.0,325.4 258.5,328.0 258.3,331.0 254.5,334.0 251.0,336.9 247.5,339.0 244.0,341.0 242.0,343.5 239.7,345.4 237.0,346.5 234.7,345.4 234.5,341.0 234.7,336.9 236.5,333.0 237.6,329.7 235.0,328.0 232.6,326.9 231.5,324.5 230.4,322.6 226.0,322.5 222.6,321.9 220.0,319.5 218.3,316.9 215.5,316.5 212.6,315.4 211.0,311.5 210.0,306.9 208.0,303.0 206.4,299.7 202.9,299.7 200.5,297.5 198.6,295.4 195.5,293.5 192.9,291.9 188.0,292.5 182.9,292.6 181.5,290.5 180.7,288.3 181.0,284.5 180.7,281.0 176.0,280.4 171.4,280.4 168.6,282.6 168.6,290.0 168.6,298.3 166.5,302.5 164.3,306.9 162.8,310.5 161.4,314.0 160.0,318.5 158.6,322.6 157.8,326.0 157.9,329.0 159.0,333.0 160.7,338.0 165.0,337.5 168.6,337.0 169.5,343.0 170.0,348.6 172.0,353.5 174.3,358.6 175.2,363.0 175.7,367.0 179.0,369.5 182.9,371.4 186.5,372.0 190.0,372.0 191.5,374.5 192.9,377.0 196.5,379.3 200.0,381.4 203.5,384.0 207.0,387.0 209.5,390.0 211.4,392.9 213.6,396.0 215.0,398.0 216.0,401.5 216.4,405.0 215.5,409.5 215.0,413.7 215.2,418.5 215.7,423.7 217.8,427.5 220.0,430.9 222.2,434.0 224.3,436.6 225.5,439.5 225.7,442.3 224.3,445.0 221.5,446.3 218.6,446.6 215.5,445.3 212.9,443.7 209.3,441.0 205.7,438.0 201.5,435.5 197.0,433.0 192.7,429.8 188.6,426.6 187.0,422.5 185.7,418.7 183.0,415.5 180.7,412.3 179.2,408.5 177.9,405.0 176.3,400.7 175.0,396.6 174.5,392.0 172.9,388.6 171.5,385.0 170.7,381.4 171.4,375.7 169.0,375.3 167.0,374.3 165.5,370.5 164.3,367.0 162.0,365.0 160.0,362.9 160.0,357.0 155.0,357.0 145.0,357.0Z M145.0,416.0 155.0,416.6 161.4,418.7 165.0,423.5 168.6,428.0 172.0,431.0 175.7,433.7 180.7,437.3 187.0,438.0 189.3,442.3 192.5,444.0 195.7,445.0 198.0,447.3 200.0,449.4 204.3,453.7 208.0,454.5 211.4,455.0 212.9,458.7 215.0,459.4 217.0,462.0 218.6,465.0 219.0,475.0 165.0,475.0 164.3,465.0 161.0,462.0 158.6,459.4 157.0,455.0 155.7,450.9 155.0,450.0 145.0,450.0Z M287.0,197.0 289.0,195.0 291.4,192.9 295.5,191.3 300.0,190.0 304.5,189.0 308.6,187.9 312.5,188.0 315.7,188.6 317.5,190.5 317.9,192.9 316.3,195.8 314.3,198.6 312.2,202.0 310.0,205.7 307.3,208.0 304.3,210.0 300.8,211.7 297.0,212.9 293.5,211.8 290.0,210.0 288.0,207.3 286.4,204.3 286.2,200.5Z M461.2,110.9 458.0,112.0 455.3,114.0 451.0,118.9 446.8,125.3 443.6,131.8 441.9,138.2 441.9,145.7 443.3,149.0 445.0,151.5 447.5,153.5 449.5,156.0 451.0,159.7 452.5,157.5 453.5,154.0 455.5,150.0 457.5,146.7 460.1,140.3 462.8,131.8 465.0,124.3 466.0,117.8 465.0,113.0 463.0,111.0Z M448.6,209.7 452.5,208.7 457.0,208.3 460.0,210.5 462.9,212.6 467.9,213.3 468.7,210.5 469.3,208.3 470.5,210.3 471.4,212.6 471.0,217.5 470.7,222.6 472.2,226.0 473.6,229.7 472.0,234.0 470.0,238.3 468.0,241.2 465.7,244.0 463.5,247.5 461.4,251.0 459.5,252.5 458.3,254.0 460.0,258.5 461.5,263.0 462.8,267.5 464.6,271.0 468.0,272.5 471.8,272.0 474.5,270.2 478.1,270.2 480.0,272.0 481.7,275.6 484.5,276.5 488.0,278.3 489.9,282.8 491.7,287.3 490.5,287.8 488.0,285.5 485.4,282.0 482.6,278.3 479.0,275.6 475.4,274.7 472.7,273.8 471.5,275.0 473.6,280.0 475.4,283.7 474.0,283.0 471.8,278.3 469.5,276.3 467.3,274.7 465.0,273.5 462.8,272.0 460.0,275.6 456.5,278.3 453.0,274.7 449.3,272.0 448.4,267.5 450.0,266.0 452.5,264.5 452.0,262.5 449.5,262.5 447.8,264.5 445.7,263.0 443.0,262.0 440.8,259.4 440.3,254.0 440.0,251.0 438.6,248.3 437.0,246.0 437.0,244.0 440.0,243.0 443.6,241.0 445.0,236.0 446.4,231.0 446.0,225.0 445.7,219.7 447.0,214.5Z M497.0,273.0 498.9,274.7 498.4,278.3 496.2,279.7 495.5,276.5Z M447.0,281.5 452.0,282.0 456.5,283.3 459.7,285.5 460.6,290.0 459.2,293.6 456.5,297.2 454.3,296.3 452.0,291.8 450.7,287.3 448.4,283.7Z M484.8,296.3 487.0,295.0 489.7,297.2 493.3,300.8 493.0,302.0 490.6,300.0 487.0,298.3Z M499.6,295.4 505.0,294.5 510.5,294.5 513.2,298.0 513.2,303.5 515.0,309.8 514.0,311.6 510.5,310.7 508.6,306.2 506.0,301.7 502.3,299.0Z M500.5,311.6 504.1,310.7 506.8,312.5 507.3,317.0 509.1,321.5 510.5,325.0 507.7,326.0 506.0,322.4 505.0,317.0 502.3,316.0 501.0,313.8Z M466.3,303.5 471.7,305.3 478.0,308.0 482.5,309.0 480.7,312.5 476.2,316.0 471.7,318.8 467.2,321.5 467.7,315.2 468.1,309.0Z M481.6,317.0 486.1,316.6 486.6,320.6 484.3,326.0 483.0,330.5 482.5,335.0 480.7,338.6 477.1,335.0 473.5,332.3 478.0,329.6 479.8,324.2 480.8,320.0Z M493.3,317.0 494.2,319.7 492.4,324.2 489.7,328.7 487.0,333.2 486.1,336.0 486.0,333.0 487.0,330.5 489.7,325.0 491.5,320.6Z M493.3,330.5 497.8,327.4 500.5,329.6 498.7,332.8 495.1,333.2Z M466.4,369.0 467.5,365.0 468.6,361.0 470.7,358.5 472.9,356.0 475.7,355.0 478.6,354.0 480.0,351.8 481.4,349.7 484.2,348.6 487.0,347.6 489.2,348.6 491.4,349.7 491.4,355.4 494.2,354.0 497.0,352.6 499.0,349.7 502.0,349.0 505.4,348.3 506.3,345.5 506.9,342.6 509.5,343.5 511.9,344.0 513.0,340.0 514.0,336.9 514.7,334.5 515.4,332.6 518.0,335.5 521.0,338.3 522.6,341.0 524.0,344.0 523.6,347.0 523.3,349.7 525.5,352.5 527.6,355.4 528.4,360.0 529.0,364.0 528.0,367.5 526.9,371.0 525.5,372.5 524.0,374.0 524.4,377.0 524.7,379.7 523.0,376.0 522.0,372.0 521.0,368.3 519.6,366.8 518.3,365.4 517.0,368.3 516.0,371.0 516.5,374.7 516.9,378.3 515.5,381.2 514.0,384.0 511.9,386.9 510.0,385.5 508.3,384.0 504.7,382.5 501.0,381.0 498.0,379.0 495.4,376.9 495.0,374.0 494.7,371.0 496.2,369.0 497.6,366.9 496.5,364.7 495.4,362.6 493.5,360.0 491.5,358.0 489.3,358.3 487.5,360.5 485.7,362.6 483.8,361.0 482.0,359.7 480.6,362.0 479.3,364.0 478.6,362.0 477.9,360.4 476.0,362.2 474.3,364.0 472.0,367.2 470.0,370.4Z M434.3,318.3 435.0,320.0 431.4,323.5 428.5,327.0 425.7,329.7 423.0,333.0 420.0,336.5 417.0,340.5 414.3,343.2 410.5,346.0 407.0,348.0 404.5,350.3 402.9,351.0 402.3,349.5 405.0,346.5 408.0,343.8 411.5,341.0 414.0,338.2 417.0,334.5 420.0,331.0 423.0,327.5 426.0,324.0 429.0,321.0 432.0,318.5 433.5,315.0 434.3,311.0 435.3,314.0Z M398.5,355.5 400.2,355.5 400.2,358.3 398.5,358.3Z M294.0,475.0 293.7,465.0 292.0,462.0 290.9,459.4 290.2,456.5 290.0,453.7 290.7,449.3 291.6,445.0 293.2,442.0 295.0,439.4 297.2,438.3 299.4,438.0 303.7,440.0 308.0,441.6 310.8,442.5 313.7,443.0 316.5,442.9 319.4,442.3 320.9,438.7 322.3,435.0 322.3,432.0 322.3,429.4 324.4,427.8 326.6,426.6 332.3,425.2 338.0,423.7 342.3,422.4 346.6,420.9 350.2,416.6 353.7,412.3 356.9,408.0 360.0,403.7 363.0,402.5 366.0,402.3 368.6,400.0 374.3,395.7 380.0,391.4 383.5,387.2 387.0,382.9 391.4,379.3 395.7,375.7 396.4,372.8 397.0,370.0 399.2,369.0 401.4,368.6 402.2,371.5 402.9,374.3 405.0,375.7 407.0,377.0 407.8,380.7 408.6,384.3 411.5,386.5 414.3,388.6 418.6,389.3 422.9,390.0 426.5,391.5 430.0,392.9 430.3,393.0 427.5,394.8 424.6,396.6 420.3,397.7 416.0,398.7 418.5,401.2 421.0,403.7 417.0,405.9 413.0,408.0 411.7,410.2 410.3,412.3 406.0,414.5 401.7,416.6 405.3,418.8 408.9,420.9 406.8,422.3 404.6,423.7 408.2,428.0 411.7,432.3 410.7,435.2 409.6,438.0 412.8,440.9 416.0,443.7 420.3,447.3 424.6,450.9 421.8,451.6 418.9,452.3 415.3,452.3 411.7,452.3 410.3,455.2 408.9,458.0 407.8,461.2 406.7,465.0 406.5,475.0Z M440.3,475.0 440.3,465.0 441.0,460.5 441.7,456.6 445.3,454.5 448.9,452.3 451.8,450.2 454.6,448.0 457.5,449.5 460.3,450.9 463.2,451.6 466.0,452.3 470.0,452.7 474.0,453.0 477.5,453.7 481.0,454.4 486.0,454.0 491.0,453.7 494.7,452.3 498.3,450.9 501.5,448.0 504.7,445.0 506.9,443.0 509.0,440.9 510.0,443.0 509.7,445.0 507.6,448.7 505.4,452.3 502.6,455.2 499.7,458.0 495.4,458.7 491.0,459.4 486.8,459.4 482.6,459.4 478.3,458.4 474.0,457.8 470.0,458.0 466.0,458.0 461.7,458.4 457.4,458.7 451.7,459.0 446.0,459.4 444.5,461.0 443.0,462.3 442.3,465.0 442.3,475.0Z M545.0,438.4 546.7,439.3 548.4,443.2 547.2,447.4 544.2,450.4 541.1,450.9 541.1,447.4 542.9,443.2 543.7,440.2Z M557.4,444.0 558.3,445.7 557.4,450.0 554.9,452.2 551.4,453.4 550.2,456.0 553.2,457.7 556.6,459.9 554.9,460.3 551.4,458.6 548.4,458.6 547.2,461.2 546.7,465.0 546.7,475.0 545.0,475.0 545.0,465.0 544.6,461.2 542.9,458.6 543.7,455.6 547.2,454.3 549.3,450.9 551.0,447.4 553.6,445.3Z M551.9,435.0 553.2,432.0 555.7,429.9 557.4,430.7 556.6,434.2 554.4,436.7 552.3,436.7Z M278.0,410.0 280.5,409.7 281.3,412.0 280.0,414.0 278.2,413.5Z M531.0,402.0 532.8,402.0 532.8,405.5 531.0,405.5Z M465.3,281.0 467.6,281.0 467.6,283.3 465.3,283.3Z M474.5,295.0 476.5,295.0 476.5,297.0 474.5,297.0Z M514.5,331.0 516.0,332.0 517.7,336.8 516.0,337.0 514.8,334.0Z M438.6,298.5 443.5,299.0 443.5,301.0 440.0,301.2 438.6,300.5Z" fill="none" stroke="#0030ff" stroke-width="5" stroke-linejoin="round" opacity="0.6" filter="url(#bl)"/>
<g fill="#000" shape-rendering="crispEdges">
<rect x="168" y="38" width="1" height="427"/>
<rect x="236" y="38" width="1" height="427"/>
<rect x="304" y="38" width="1" height="427"/>
<rect x="372" y="38" width="1" height="427"/>
<rect x="440" y="38" width="1" height="427"/>
<rect x="507" y="38" width="1" height="427"/>
<rect x="155" y="397" width="420" height="1"/>
<rect x="155" y="329" width="420" height="1"/>
<rect x="155" y="259" width="420" height="1"/>
<rect x="155" y="188" width="420" height="1"/>
<rect x="155" y="115" width="420" height="1"/>
</g>
<path d="M165.3,476.7L164.2,471.3M165.3,476.7L160.1,475.0M155.3,465.5L165.3,476.7M154.3,426.2L157.4,421.6M154.3,426.2L151.9,421.2M155.3,411.2L154.3,426.2M145.9,409.3L151.1,407.3M145.9,409.3L146.8,403.9M155.3,397.6L145.9,409.3M142.7,392.1L148.2,391.8M142.7,392.1L145.2,387.2M155.3,384.0L142.7,392.1M141.0,374.9L146.4,376.1M141.0,374.9L144.8,370.8M155.3,370.3L141.0,374.9M171.4,426.0L173.3,420.9M171.4,426.0L167.9,421.8M168.9,411.2L171.4,426.0M159.9,409.6L165.0,407.5M159.9,409.6L160.6,404.2M168.9,397.6L159.9,409.6M154.8,324.2L158.3,328.4M154.8,324.2L160.2,323.2M168.9,329.2L154.8,324.2M156.5,307.0L158.9,311.9M156.5,307.0L162.0,307.4M168.9,315.4L156.5,307.0M192.3,436.2L191.2,430.8M192.3,436.2L187.1,434.3M182.5,424.8L192.3,436.2M167.5,357.3L172.4,359.9M167.5,357.3L172.1,354.4M182.5,356.7L167.5,357.3M167.5,341.7L172.0,344.9M167.5,341.7L172.5,339.4M182.5,343.0L167.5,341.7M168.1,325.0L171.9,329.0M168.1,325.0L173.4,323.7M182.5,329.2L168.1,325.0M169.7,307.5L172.3,312.3M169.7,307.5L175.2,307.7M182.5,315.4L169.7,307.5M171.6,291.3L173.1,296.5M171.6,291.3L176.9,292.5M182.5,301.6L171.6,291.3M207.3,448.3L205.5,443.1M207.3,448.3L201.9,447.2M196.0,438.4L207.3,448.3M181.1,372.0L186.2,374.2M181.1,372.0L185.5,368.8M196.0,370.3L181.1,372.0M181.1,357.6L186.0,360.1M181.1,357.6L185.6,354.6M196.0,356.7L181.1,357.6M181.1,341.7L185.6,344.9M181.1,341.7L186.0,339.4M196.0,343.0L181.1,341.7M181.7,324.8L185.4,328.8M181.7,324.8L187.0,323.6M196.0,329.2L181.7,324.8M182.8,308.3L185.7,313.0M182.8,308.3L188.3,308.2M196.0,315.4L182.8,308.3M183.6,293.1L186.0,298.1M183.6,293.1L189.1,293.5M196.0,301.6L183.6,293.1M195.9,390.1L201.4,390.7M195.9,390.1L199.1,385.6M209.6,384.0L195.9,390.1M195.2,374.5L200.5,375.8M195.2,374.5L199.0,370.5M209.6,370.3L195.2,374.5M194.8,359.1L199.9,361.0M194.8,359.1L199.0,355.6M209.6,356.7L194.8,359.1M194.6,341.9L199.2,345.0M194.6,341.9L199.6,339.5M209.6,343.0L194.6,341.9M195.1,325.2L199.0,329.1M195.1,325.2L200.4,323.8M209.6,329.2L195.1,325.2M227.6,479.8L228.8,474.4M227.6,479.8L223.6,476.1M223.1,465.5L227.6,479.8M226.1,466.7L227.8,461.4M226.1,466.7L222.4,462.5M223.1,451.9L226.1,466.7M220.5,439.6L224.0,435.4M220.5,439.6L218.6,434.4M223.1,424.8L220.5,439.6M216.7,424.7L221.2,421.6M216.7,424.7L216.2,419.3M223.1,411.2L216.7,424.7M213.2,408.9L218.4,407.1M213.2,408.9L214.3,403.5M223.1,397.6L213.2,408.9M211.1,392.9L216.6,392.3M211.1,392.9L213.3,387.9M223.1,384.0L211.1,392.9M210.1,377.7L215.6,377.8M210.1,377.7L212.9,373.0M223.1,370.3L210.1,377.7M209.5,362.9L215.0,363.4M209.5,362.9L212.7,358.5M223.1,356.7L209.5,362.9M208.2,344.3L213.2,346.6M208.2,344.3L212.7,341.1M223.1,343.0L208.2,344.3M208.3,327.2L212.6,330.5M208.3,327.2L213.4,325.1M223.1,329.2L208.3,327.2M237.4,480.5L239.9,475.6M237.4,480.5L234.4,475.9M236.7,465.5L237.4,480.5M234.3,466.8L237.8,462.5M234.3,466.8L232.4,461.6M236.7,451.9L234.3,466.8M231.2,452.3L235.5,448.9M231.2,452.3L230.4,446.9M236.7,438.4L231.2,452.3M230.4,438.4L234.9,435.2M230.4,438.4L229.9,432.9M236.7,424.8L230.4,438.4M229.1,424.1L233.9,421.4M229.1,424.1L229.1,418.6M236.7,411.2L229.1,424.1M227.6,409.5L232.7,407.4M227.6,409.5L228.3,404.1M236.7,397.6L227.6,409.5M225.9,394.4L231.2,393.1M225.9,394.4L227.4,389.1M236.7,384.0L225.9,394.4M224.8,379.5L230.2,378.7M224.8,379.5L226.9,374.4M236.7,370.3L224.8,379.5M224.1,364.8L229.6,364.5M224.1,364.8L226.6,359.9M236.7,356.7L224.1,364.8M248.6,480.4L251.9,476.0M248.6,480.4L246.4,475.4M250.3,465.5L248.6,480.4M245.8,466.3L249.9,462.5M245.8,466.3L244.6,460.9M250.3,451.9L245.8,466.3M243.7,451.9L248.3,448.8M243.7,451.9L243.3,446.4M250.3,438.4L243.7,451.9M242.8,437.8L247.6,435.1M242.8,437.8L242.8,432.3M250.3,424.8L242.8,437.8M241.8,423.6L246.7,421.2M241.8,423.6L242.2,418.1M250.3,411.2L241.8,423.6M240.2,408.7L245.4,407.0M240.2,408.7L241.4,403.4M250.3,397.6L240.2,408.7M239.6,394.6L244.9,393.2M239.6,394.6L241.1,389.2M250.3,384.0L239.6,394.6M238.7,380.0L244.2,379.0M238.7,380.0L240.6,374.8M250.3,370.3L238.7,380.0M237.6,364.7L243.1,364.5M237.6,364.7L240.1,359.8M250.3,356.7L237.6,364.7M236.9,349.7L242.4,350.0M236.9,349.7L239.9,345.1M250.3,343.0L236.9,349.7M241.4,215.1L246.4,212.9M241.4,215.1L242.0,209.6M250.3,203.0L241.4,215.1M261.3,480.3L264.8,476.1M261.3,480.3L259.4,475.1M263.8,465.5L261.3,480.3M259.0,466.1L263.1,462.5M259.0,466.1L257.9,460.7M263.8,451.9L259.0,466.1M257.5,452.0L262.0,448.8M257.5,452.0L257.0,446.5M263.8,438.4L257.5,452.0M256.6,438.0L261.3,435.1M256.6,438.0L256.5,432.5M263.8,424.8L256.6,438.0M255.6,423.8L260.5,421.3M255.6,423.8L255.9,418.3M263.8,411.2L255.6,423.8M254.2,409.1L259.4,407.2M254.2,409.1L255.2,403.7M263.8,397.6L254.2,409.1M253.8,395.1L259.0,393.4M253.8,395.1L254.9,389.7M263.8,384.0L253.8,395.1M253.2,380.9L258.5,379.5M253.2,380.9L254.6,375.6M263.8,370.3L253.2,380.9M252.5,366.5L257.9,365.4M252.5,366.5L254.3,361.3M263.8,356.7L252.5,366.5M251.0,350.8L256.5,350.6M251.0,350.8L253.7,345.9M263.8,343.0L251.0,350.8M251.1,337.1L256.6,337.0M251.1,337.1L253.7,332.3M263.8,329.2L251.1,337.1M254.7,229.2L259.8,227.1M254.7,229.2L255.4,223.8M263.8,217.3L254.7,229.2M255.2,215.3L260.2,213.0M255.2,215.3L255.7,209.8M263.8,203.0L255.2,215.3M256.4,201.6L261.1,198.9M256.4,201.6L256.4,196.1M263.8,188.6L256.4,201.6M274.9,480.3L278.4,476.1M274.9,480.3L273.0,475.1M277.4,465.5L274.9,480.3M273.0,466.3L277.0,462.5M273.0,466.3L271.8,460.9M277.4,451.9L273.0,466.3M271.9,452.4L276.2,448.9M271.9,452.4L271.1,446.9M277.4,438.4L271.9,452.4M271.2,438.5L275.7,435.3M271.2,438.5L270.7,433.0M277.4,424.8L271.2,438.5M269.7,410.5L274.5,407.8M269.7,410.5L269.8,405.0M277.4,397.6L269.7,410.5M268.6,396.2L273.6,393.9M268.6,396.2L269.2,390.7M277.4,384.0L268.6,396.2M268.2,382.2L273.3,380.1M268.2,382.2L268.9,376.7M277.4,370.3L268.2,382.2M268.3,368.6L273.3,366.5M268.3,368.6L269.0,363.1M277.4,356.7L268.3,368.6M267.4,354.2L272.6,352.4M267.4,354.2L268.5,348.8M277.4,343.0L267.4,354.2M267.0,340.1L272.3,338.5M267.0,340.1L268.3,334.7M277.4,329.2L267.0,340.1M266.4,241.7L271.7,240.5M266.4,241.7L268.0,236.5M277.4,231.5L266.4,241.7M266.8,228.0L272.1,226.5M266.8,228.0L268.2,222.6M277.4,217.3L266.8,228.0M268.5,215.1L273.5,212.9M268.5,215.1L269.1,209.6M277.4,203.0L268.5,215.1M271.4,202.4L275.8,199.1M271.4,202.4L270.8,196.9M277.4,188.6L271.4,202.4M273.8,188.7L277.6,184.7M273.8,188.7L272.2,183.4M277.4,174.1L273.8,188.7M286.7,452.8L290.7,449.0M286.7,452.8L285.4,447.4M290.9,438.4L286.7,452.8M286.1,439.0L290.3,435.4M286.1,439.0L285.1,433.6M290.9,424.8L286.1,439.0M285.7,425.3L289.9,421.8M285.7,425.3L284.8,419.8M290.9,411.2L285.7,425.3M284.6,411.2L289.1,408.1M284.6,411.2L284.1,405.7M290.9,397.6L284.6,411.2M283.5,397.0L288.2,394.2M283.5,397.0L283.5,391.5M290.9,384.0L283.5,397.0M282.8,382.9L287.7,380.4M282.8,382.9L283.0,377.4M290.9,370.3L282.8,382.9M283.5,369.7L288.2,366.9M283.5,369.7L283.5,364.2M290.9,356.7L283.5,369.7M283.8,356.2L288.5,353.3M283.8,356.2L283.7,350.7M290.9,343.0L283.8,356.2M283.4,342.2L288.2,339.4M283.4,342.2L283.4,336.7M290.9,329.2L283.4,342.2M283.1,328.2L287.9,325.6M283.1,328.2L283.2,322.7M290.9,315.4L283.1,328.2M279.9,255.8L285.3,254.6M279.9,255.8L281.5,250.6M290.9,245.7L279.9,255.8M278.5,239.8L284.0,239.5M278.5,239.8L280.9,234.9M290.9,231.5L278.5,239.8M277.0,222.9L282.5,223.7M277.0,222.9L280.4,218.6M290.9,217.3L277.0,222.9M286.4,202.9L290.4,199.2M286.4,202.9L285.2,197.5M290.9,188.6L286.4,202.9M290.9,189.1L293.6,184.4M290.9,189.1L288.1,184.4M290.9,174.1L290.9,189.1M301.1,439.4L304.8,435.4M301.1,439.4L299.5,434.1M304.5,424.8L301.1,439.4M300.7,425.7L304.6,421.8M300.7,425.7L299.3,420.4M304.5,411.2L300.7,425.7M300.0,411.9L304.1,408.2M300.0,411.9L298.8,406.6M304.5,397.6L300.0,411.9M298.6,397.8L303.0,394.5M298.6,397.8L297.9,392.3M304.5,384.0L298.6,397.8M297.5,383.6L302.1,380.7M297.5,383.6L297.3,378.1M304.5,370.3L297.5,383.6M298.5,370.4L302.9,367.1M298.5,370.4L297.9,364.9M304.5,356.7L298.5,370.4M299.3,357.0L303.5,353.5M299.3,357.0L298.4,351.6M304.5,343.0L299.3,357.0M298.9,343.1L303.2,339.7M298.9,343.1L298.1,337.7M304.5,329.2L298.9,343.1M298.4,329.1L302.8,325.9M298.4,329.1L297.8,323.6M304.5,315.4L298.4,329.1M297.5,314.8L302.1,311.9M297.5,314.8L297.3,309.3M304.5,301.6L297.5,314.8M296.9,300.6L301.7,297.9M296.9,300.6L296.9,295.1M304.5,287.7L296.9,300.6M296.4,286.4L301.3,283.8M296.4,286.4L296.6,280.9M304.5,273.7L296.4,286.4M295.0,271.4L300.2,269.4M295.0,271.4L295.9,265.9M304.5,259.7L295.0,271.4M293.6,256.0L299.0,254.7M293.6,256.0L295.2,250.7M304.5,245.7L293.6,256.0M292.4,240.4L297.9,239.8M292.4,240.4L294.6,235.4M304.5,231.5L292.4,240.4M292.0,225.7L297.5,225.3M292.0,225.7L294.5,220.7M304.5,217.3L292.0,225.7M315.9,439.6L319.3,435.3M315.9,439.6L313.9,434.5M318.1,424.8L315.9,439.6M315.9,426.1L319.3,421.7M315.9,426.1L313.8,420.9M318.1,411.2L315.9,426.1M315.7,412.4L319.2,408.2M315.7,412.4L313.7,407.3M318.1,397.6L315.7,412.4M314.2,398.5L318.1,394.6M314.2,398.5L312.8,393.2M318.1,384.0L314.2,398.5M313.6,384.7L317.6,380.9M313.6,384.7L312.4,379.3M318.1,370.3L313.6,384.7M313.9,371.1L317.8,367.3M313.9,371.1L312.6,365.7M318.1,356.7L313.9,371.1M314.5,357.5L318.3,353.6M314.5,357.5L312.9,352.2M318.1,343.0L314.5,357.5M313.5,343.5L317.6,339.8M313.5,343.5L312.4,338.1M318.1,329.2L313.5,343.5M312.4,329.3L316.7,325.9M312.4,329.3L311.6,323.9M318.1,315.4L312.4,329.3M311.5,315.1L316.1,312.0M311.5,315.1L311.1,309.6M318.1,301.6L311.5,315.1M310.9,300.9L315.6,298.0M310.9,300.9L310.7,295.4M318.1,287.7L310.9,300.9M310.1,286.4L314.9,283.9M310.1,286.4L310.3,280.9M318.1,273.7L310.1,286.4M308.8,271.6L313.9,269.5M308.8,271.6L309.6,266.1M318.1,259.7L308.8,271.6M307.5,256.3L312.8,254.9M307.5,256.3L308.9,251.0M318.1,245.7L307.5,256.3M306.8,241.5L312.2,240.4M306.8,241.5L308.6,236.3M318.1,231.5L306.8,241.5M306.9,227.3L312.3,226.2M306.9,227.3L308.6,222.1M318.1,217.3L306.9,227.3M306.7,212.9L312.1,211.8M306.7,212.9L308.5,207.7M318.1,203.0L306.7,212.9M308.4,185.6L313.6,183.8M308.4,185.6L309.4,180.2M318.1,174.1L308.4,185.6M330.5,426.2L333.6,421.6M330.5,426.2L328.1,421.2M331.6,411.2L330.5,426.2M330.7,412.6L333.8,408.0M330.7,412.6L328.3,407.7M331.6,397.6L330.7,412.6M330.6,399.0L333.7,394.4M330.6,399.0L328.2,394.0M331.6,384.0L330.6,399.0M328.9,385.1L332.4,380.9M328.9,385.1L327.0,379.9M331.6,370.3L328.9,385.1M329.0,371.4L332.5,367.2M329.0,371.4L327.1,366.3M331.6,356.7L329.0,371.4M328.9,357.7L332.5,353.5M328.9,357.7L327.0,352.5M331.6,343.0L328.9,357.7M327.9,343.7L331.7,339.8M327.9,343.7L326.4,338.4M331.6,329.2L327.9,343.7M325.9,329.3L330.2,325.9M325.9,329.3L325.2,323.8M331.6,315.4L325.9,329.3M325.2,315.1L329.7,312.0M325.2,315.1L324.8,309.7M331.6,301.6L325.2,315.1M324.8,301.0L329.4,298.0M324.8,301.0L324.5,295.5M331.6,287.7L324.8,301.0M324.0,286.7L328.8,284.0M324.0,286.7L324.1,281.2M331.6,273.7L324.0,286.7M322.7,271.8L327.7,269.6M322.7,271.8L323.3,266.3M331.6,259.7L322.7,271.8M321.5,256.7L326.8,255.1M321.5,256.7L322.7,251.4M331.6,245.7L321.5,256.7M321.0,242.1L326.3,240.7M321.0,242.1L322.4,236.8M331.6,231.5L321.0,242.1M320.7,227.6L326.0,226.3M320.7,227.6L322.3,222.3M331.6,217.3L320.7,227.6M319.7,212.1L325.2,211.4M319.7,212.1L321.8,207.1M331.6,203.0L319.7,212.1M319.0,196.7L324.5,196.4M319.0,196.7L321.5,191.8M331.6,188.6L319.0,196.7M319.0,182.3L324.5,182.0M319.0,182.3L321.5,177.4M331.6,174.1L319.0,182.3M344.9,426.2L347.7,421.5M344.9,426.2L342.3,421.4M345.2,411.2L344.9,426.2M345.1,412.6L347.9,407.9M345.1,412.6L342.4,407.8M345.2,397.6L345.1,412.6M345.2,399.0L348.0,394.2M345.2,399.0L342.5,394.2M345.2,384.0L345.2,399.0M343.8,385.3L347.0,380.8M343.8,385.3L341.5,380.3M345.2,370.3L343.8,385.3M344.7,371.7L347.6,367.0M344.7,371.7L342.1,366.8M345.2,356.7L344.7,371.7M343.7,357.9L346.9,353.4M343.7,357.9L341.4,352.9M345.2,343.0L343.7,357.9M343.2,344.1L346.5,339.7M343.2,344.1L341.1,339.0M345.2,329.2L343.2,344.1M340.0,329.5L344.2,326.0M340.0,329.5L339.1,324.1M345.2,315.4L340.0,329.5M339.3,315.4L343.7,312.1M339.3,315.4L338.6,309.9M345.2,301.6L339.3,315.4M338.7,301.2L343.3,298.1M338.7,301.2L338.3,295.8M345.2,287.7L338.7,301.2M338.0,286.9L342.7,284.0M338.0,286.9L337.9,281.4M345.2,273.7L338.0,286.9M336.6,272.0L341.6,269.7M336.6,272.0L337.1,266.5M345.2,259.7L336.6,272.0M335.2,256.9L340.4,255.1M335.2,256.9L336.3,251.5M345.2,245.7L335.2,256.9M335.1,242.6L340.3,241.0M335.1,242.6L336.3,237.3M345.2,231.5L335.1,242.6M335.1,228.4L340.3,226.7M335.1,228.4L336.3,223.0M345.2,217.3L335.1,228.4M333.7,212.6L339.1,211.7M333.7,212.6L335.6,207.4M345.2,203.0L333.7,212.6M332.4,196.5L337.9,196.3M332.4,196.5L335.0,191.7M345.2,188.6L332.4,196.5M331.8,180.9L337.3,181.2M331.8,180.9L334.8,176.3M345.2,174.1L331.8,180.9M359.2,412.6L361.8,407.8M359.2,412.6L356.3,407.9M358.7,397.6L359.2,412.6M359.8,399.0L362.2,394.0M359.8,399.0L356.7,394.4M358.7,384.0L359.8,399.0M358.7,385.3L361.4,380.6M358.7,385.3L355.9,380.6M358.7,370.3L358.7,385.3M358.7,371.7L361.5,366.9M358.7,371.7L356.0,366.9M358.7,356.7L358.7,371.7M358.7,358.0L361.5,353.2M358.7,358.0L356.0,353.2M358.7,343.0L358.7,358.0M357.1,344.1L360.3,339.7M357.1,344.1L354.9,339.1M358.7,329.2L357.1,344.1M355.2,330.0L359.0,326.0M355.2,330.0L353.7,324.7M358.7,315.4L355.2,330.0M353.8,315.7L358.0,312.1M353.8,315.7L352.8,310.3M358.7,301.6L353.8,315.7M352.8,301.5L357.2,298.2M352.8,301.5L352.2,296.0M358.7,287.7L352.8,301.5M351.8,287.0L356.4,284.1M351.8,287.0L351.6,281.5M358.7,273.7L351.8,287.0M350.6,272.3L355.5,269.8M350.6,272.3L350.9,266.8M358.7,259.7L350.6,272.3M349.6,257.5L354.7,255.5M349.6,257.5L350.3,252.1M358.7,245.7L349.6,257.5M349.3,243.1L354.4,241.2M349.3,243.1L350.1,237.7M358.7,231.5L349.3,243.1M349.1,228.8L354.3,226.9M349.1,228.8L350.1,223.4M358.7,217.3L349.1,228.8M348.0,213.4L353.3,212.1M348.0,213.4L349.5,208.1M358.7,203.0L348.0,213.4M346.7,197.6L352.2,196.9M346.7,197.6L348.9,192.5M358.7,188.6L346.7,197.6M345.8,181.8L351.3,181.7M345.8,181.8L348.5,177.0M358.7,174.1L345.8,181.8M346.0,167.5L351.5,167.3M346.0,167.5L348.6,162.7M358.7,159.6L346.0,167.5M372.4,399.0L375.1,394.2M372.4,399.0L369.6,394.2M372.3,384.0L372.4,399.0M371.6,385.3L374.6,380.7M371.6,385.3L369.1,380.4M372.3,370.3L371.6,385.3M372.2,371.7L375.0,366.9M372.2,371.7L369.5,366.9M372.3,356.7L372.2,371.7M371.4,357.9L374.4,353.3M371.4,357.9L369.0,353.0M372.3,343.0L371.4,357.9M370.7,344.1L373.9,339.7M370.7,344.1L368.5,339.1M372.3,329.2L370.7,344.1M369.6,330.2L373.2,326.0M369.6,330.2L367.8,325.0M372.3,315.4L369.6,330.2M368.0,316.0L372.0,312.2M368.0,316.0L366.7,310.6M372.3,301.6L368.0,316.0M366.8,301.6L371.1,298.2M366.8,301.6L366.0,296.2M372.3,287.7L366.8,301.6M365.8,287.3L370.3,284.2M365.8,287.3L365.4,281.8M372.3,273.7L365.8,287.3M364.6,272.6L369.4,269.9M364.6,272.6L364.7,267.1M372.3,259.7L364.6,272.6M363.7,258.0L368.7,255.6M363.7,258.0L364.2,252.5M372.3,245.7L363.7,258.0M363.3,243.5L368.3,241.3M363.3,243.5L363.9,238.0M372.3,231.5L363.3,243.5M363.0,229.1L368.1,227.0M363.0,229.1L363.8,223.6M372.3,217.3L363.0,229.1M362.5,214.3L367.7,212.5M362.5,214.3L363.5,208.9M372.3,203.0L362.5,214.3M361.5,199.1L366.9,197.7M361.5,199.1L363.0,193.8M372.3,188.6L361.5,199.1M360.0,182.7L365.5,182.2M360.0,182.7L362.3,177.7M372.3,174.1L360.0,182.7M359.9,168.0L365.4,167.6M359.9,168.0L362.3,163.1M372.3,159.6L359.9,168.0M384.8,385.3L387.9,380.8M384.8,385.3L382.4,380.4M385.9,370.3L384.8,385.3M385.0,371.6L388.0,367.0M385.0,371.6L382.5,366.7M385.9,356.7L385.0,371.6M384.8,357.9L387.9,353.4M384.8,357.9L382.4,353.0M385.9,343.0L384.8,357.9M384.2,344.1L387.5,339.7M384.2,344.1L382.0,339.1M385.9,329.2L384.2,344.1M382.5,330.0L386.3,326.0M382.5,330.0L380.9,324.8M385.9,315.4L382.5,330.0M381.7,316.0L385.6,312.2M381.7,316.0L380.4,310.6M385.9,301.6L381.7,316.0M380.4,301.7L384.7,298.2M380.4,301.7L379.6,296.2M385.9,287.7L380.4,301.7M379.5,287.3L384.0,284.2M379.5,287.3L379.0,281.9M385.9,273.7L379.5,287.3M378.6,272.9L383.3,270.0M378.6,272.9L378.5,267.4M385.9,259.7L378.6,272.9M377.6,258.2L382.5,255.7M377.6,258.2L377.9,252.7M385.9,245.7L377.6,258.2M377.1,243.7L382.1,241.4M377.1,243.7L377.7,238.2M385.9,231.5L377.1,243.7M376.9,229.3L381.9,227.1M376.9,229.3L377.5,223.8M385.9,217.3L376.9,229.3M376.8,215.0L381.9,212.8M376.8,215.0L377.5,209.5M385.9,203.0L376.8,215.0M376.8,200.6L381.9,198.5M376.8,200.6L377.5,195.1M385.9,188.6L376.8,200.6M375.0,184.4L380.3,183.2M375.0,184.4L376.5,179.2M385.9,174.1L375.0,184.4M374.4,169.2L379.8,168.3M374.4,169.2L376.3,164.1M385.9,159.6L374.4,169.2M396.8,357.7L400.3,353.5M396.8,357.7L394.9,352.5M399.4,343.0L396.8,357.7M397.6,344.1L400.9,339.7M397.6,344.1L395.5,339.0M399.4,329.2L397.6,344.1M395.6,329.9L399.5,326.0M395.6,329.9L394.2,324.6M399.4,315.4L395.6,329.9M394.6,315.8L398.7,312.2M394.6,315.8L393.5,310.4M399.4,301.6L394.6,315.8M393.6,301.5L398.0,298.2M393.6,301.5L392.9,296.0M399.4,287.7L393.6,301.5M392.9,287.2L397.4,284.2M392.9,287.2L392.5,281.8M399.4,273.7L392.9,287.2M392.6,273.1L397.2,270.1M392.6,273.1L392.3,267.6M399.4,259.7L392.6,273.1M392.0,258.7L396.8,255.9M392.0,258.7L392.0,253.2M399.4,245.7L392.0,258.7M390.9,243.9L395.9,241.5M390.9,243.9L391.4,238.4M399.4,231.5L390.9,243.9M390.4,229.3L395.5,227.1M390.4,229.3L391.1,223.8M399.4,217.3L390.4,229.3M390.3,214.9L395.4,212.8M390.3,214.9L391.0,209.5M399.4,203.0L390.3,214.9M390.2,200.5L395.3,198.4M390.2,200.5L391.0,195.0M399.4,188.6L390.2,200.5M389.3,185.2L394.5,183.5M389.3,185.2L390.5,179.8M399.4,174.1L389.3,185.2M388.8,170.1L394.1,168.7M388.8,170.1L390.2,164.8M399.4,159.6L388.8,170.1M388.9,155.6L394.2,154.1M388.9,155.6L390.3,150.3M399.4,144.9L388.9,155.6M417.0,479.9L418.4,474.6M417.0,479.9L413.1,476.1M413.0,465.5L417.0,479.9M415.9,439.5L417.7,434.3M415.9,439.5L412.3,435.4M413.0,424.8L415.9,439.5M408.8,384.8L412.8,380.9M408.8,384.8L407.5,379.4M413.0,370.3L408.8,384.8M407.4,370.6L411.7,367.2M407.4,370.6L406.6,365.2M413.0,356.7L407.4,370.6M407.6,343.2L411.9,339.8M407.6,343.2L406.8,337.8M413.0,329.2L407.6,343.2M408.0,329.6L412.2,326.0M408.0,329.6L407.0,324.2M413.0,315.4L408.0,329.6M407.4,315.5L411.7,312.1M407.4,315.5L406.6,310.0M413.0,301.6L407.4,315.5M406.4,301.2L411.0,298.1M406.4,301.2L406.0,295.7M413.0,287.7L406.4,301.2M406.1,287.0L410.7,284.1M406.1,287.0L405.8,281.6M413.0,273.7L406.1,287.0M406.6,273.3L411.1,270.2M406.6,273.3L406.1,267.8M413.0,259.7L406.6,273.3M406.8,259.3L411.2,256.1M406.8,259.3L406.2,253.8M413.0,245.7L406.8,259.3M404.7,244.0L409.6,241.6M404.7,244.0L405.0,238.6M413.0,231.5L404.7,244.0M404.0,229.3L409.1,227.2M404.0,229.3L404.7,223.9M413.0,217.3L404.0,229.3M403.6,214.7L408.7,212.7M403.6,214.7L404.4,209.2M413.0,203.0L403.6,214.7M403.3,200.1L408.5,198.2M403.3,200.1L404.3,194.7M413.0,188.6L403.3,200.1M403.0,185.4L408.3,183.6M403.0,185.4L404.1,180.0M413.0,174.1L403.0,185.4M402.9,170.7L408.2,169.0M402.9,170.7L404.1,165.3M413.0,159.6L402.9,170.7M403.2,156.2L408.4,154.4M403.2,156.2L404.2,150.8M413.0,144.9L403.2,156.2M403.5,141.7L408.7,139.8M403.5,141.7L404.4,136.3M413.0,130.1L403.5,141.7M432.3,479.3L433.0,473.9M432.3,479.3L427.9,476.0M426.5,465.5L432.3,479.3M432.0,452.4L432.8,446.9M432.0,452.4L427.7,448.9M426.5,438.4L432.0,452.4M432.7,438.5L433.2,433.0M432.7,438.5L428.2,435.3M426.5,424.8L432.7,438.5M431.7,425.3L432.6,419.9M431.7,425.3L427.5,421.8M426.5,411.2L431.7,425.3M424.6,398.9L427.9,394.5M424.6,398.9L422.5,393.8M426.5,384.0L424.6,398.9M421.4,384.4L425.6,380.9M421.4,384.4L420.4,379.0M426.5,370.3L421.4,384.4M419.5,369.9L424.2,367.0M419.5,369.9L419.3,364.4M426.5,356.7L419.5,369.9M417.7,355.1L422.7,352.8M417.7,355.1L418.3,349.6M426.5,343.0L417.7,355.1M419.5,328.7L424.2,325.7M419.5,328.7L419.3,323.2M426.5,315.4L419.5,328.7M418.8,314.4L423.6,311.8M418.8,314.4L418.9,308.9M426.5,301.6L418.8,314.4M419.1,300.7L423.8,297.9M419.1,300.7L419.1,295.2M426.5,287.7L419.1,300.7M419.7,287.1L424.3,284.1M419.7,287.1L419.4,281.6M426.5,273.7L419.7,287.1M420.3,273.4L424.8,270.2M420.3,273.4L419.8,267.9M426.5,259.7L420.3,273.4M422.1,260.0L426.1,256.3M422.1,260.0L420.9,254.6M426.5,245.7L422.1,260.0M420.2,245.1L424.7,242.0M420.2,245.1L419.7,239.6M426.5,231.5L420.2,245.1M418.7,230.1L423.5,227.5M418.7,230.1L418.9,224.6M426.5,217.3L418.7,230.1M417.6,215.0L422.6,212.9M417.6,215.0L418.2,209.6M426.5,203.0L417.6,215.0M416.7,199.9L421.9,198.1M416.7,199.9L417.7,194.5M426.5,188.6L416.7,199.9M416.7,185.5L421.9,183.7M416.7,185.5L417.8,180.1M426.5,174.1L416.7,185.5M417.0,171.2L422.2,169.2M417.0,171.2L417.9,165.7M426.5,159.6L417.0,171.2M417.4,156.8L422.5,154.7M417.4,156.8L418.1,151.3M426.5,144.9L417.4,156.8M417.7,142.2L422.8,140.0M417.7,142.2L418.3,136.8M426.5,130.1L417.7,142.2M449.8,463.4L448.8,458.0M449.8,463.4L444.6,461.5M440.1,451.9L449.8,463.4M453.7,444.7L450.5,440.2M453.7,444.7L448.2,445.2M440.1,438.4L453.7,444.7M454.0,430.4L450.6,426.1M454.0,430.4L448.6,431.2M440.1,424.8L454.0,430.4M452.9,419.0L450.3,414.1M452.9,419.0L447.4,418.9M440.1,411.2L452.9,419.0M441.7,412.5L444.0,407.5M441.7,412.5L438.5,408.1M440.1,397.6L441.7,412.5M438.4,398.9L441.7,394.5M438.4,398.9L436.2,393.8M440.1,384.0L438.4,398.9M438.3,385.2L441.6,380.8M438.3,385.2L436.2,380.2M440.1,370.3L438.3,385.2M436.4,371.2L440.3,367.3M436.4,371.2L434.9,365.9M440.1,356.7L436.4,371.2M432.4,355.8L437.2,353.2M432.4,355.8L432.5,350.3M440.1,343.0L432.4,355.8M431.7,341.6L436.7,339.2M431.7,341.6L432.1,336.2M440.1,329.2L431.7,341.6M432.7,328.4L437.4,325.7M432.7,328.4L432.6,322.9M440.1,315.4L432.7,328.4M432.5,300.6L437.2,297.9M432.5,300.6L432.5,295.1M440.1,287.7L432.5,300.6M432.8,286.9L437.6,284.0M432.8,286.9L432.7,281.4M440.1,273.7L432.8,286.9M434.4,245.4L438.7,242.0M434.4,245.4L433.6,239.9M440.1,231.5L434.4,245.4M434.5,231.2L438.8,227.8M434.5,231.2L433.7,225.8M440.1,217.3L434.5,231.2M431.8,215.5L436.8,213.1M431.8,215.5L432.2,210.0M440.1,203.0L431.8,215.5M430.1,199.8L435.3,198.1M430.1,199.8L431.2,194.4M440.1,188.6L430.1,199.8M430.7,185.9L435.9,183.9M430.7,185.9L431.6,180.4M440.1,174.1L430.7,185.9M431.3,171.7L436.3,169.5M431.3,171.7L431.9,166.2M440.1,159.6L431.3,171.7M431.6,142.4L436.5,140.1M431.6,142.4L432.0,137.0M440.1,130.1L431.6,142.4M431.1,127.2L436.2,125.0M431.1,127.2L431.8,121.7M440.1,115.2L431.1,127.2M431.9,112.7L436.8,110.2M431.9,112.7L432.2,107.2M440.1,100.2L431.9,112.7M464.8,475.5L463.1,470.3M464.8,475.5L459.5,474.4M453.7,465.5L464.8,475.5M467.3,444.7L464.1,440.2M467.3,444.7L461.8,445.2M453.7,438.4L467.3,444.7M467.4,430.9L464.1,426.4M467.4,430.9L461.9,431.5M453.7,424.8L467.4,430.9M465.0,421.1L463.2,415.9M465.0,421.1L459.6,420.0M453.7,411.2L465.0,421.1M445.8,410.4L450.6,407.8M445.8,410.4L445.9,404.9M453.7,397.6L445.8,410.4M453.7,399.0L456.5,394.2M453.7,399.0L451.0,394.2M453.7,384.0L453.7,399.0M455.9,385.2L457.9,380.1M455.9,385.2L452.4,380.9M453.7,370.3L455.9,385.2M448.8,370.9L452.9,367.2M448.8,370.9L447.7,365.5M453.7,356.7L448.8,370.9M445.5,355.5L450.4,353.0M445.5,355.5L445.8,350.0M453.7,343.0L445.5,355.5M445.3,341.7L450.3,339.2M445.3,341.7L445.7,336.2M453.7,329.2L445.3,341.7M445.7,328.1L450.6,325.6M445.7,328.1L445.9,322.6M453.7,315.4L445.7,328.1M446.0,314.4L450.8,311.8M446.0,314.4L446.0,308.9M453.7,301.6L446.0,314.4M445.9,215.8L450.7,213.2M445.9,215.8L446.0,210.3M453.7,203.0L445.9,215.8M445.1,200.9L450.0,198.6M445.1,200.9L445.5,195.4M453.7,188.6L445.1,200.9M445.4,186.7L450.3,184.2M445.4,186.7L445.7,181.2M453.7,174.1L445.4,186.7M445.1,112.5L450.1,110.1M445.1,112.5L445.5,107.0M453.7,100.2L445.1,112.5M448.6,99.1L452.8,95.6M448.6,99.1L447.6,93.7M453.7,85.0L448.6,99.1M449.7,84.2L453.6,80.3M449.7,84.2L448.3,78.9M453.7,69.7L449.7,84.2M479.6,474.0L477.2,469.0M479.6,474.0L474.1,473.6M467.2,465.5L479.6,474.0M481.2,443.7L477.8,439.5M481.2,443.7L475.8,444.6M467.2,438.4L481.2,443.7M481.8,428.2L477.8,424.4M481.8,428.2L476.6,429.8M467.2,424.8L481.8,428.2M476.5,423.0L475.7,417.6M476.5,423.0L471.4,421.0M467.2,411.2L476.5,423.0M460.9,411.2L465.4,408.1M460.9,411.2L460.4,405.7M467.2,397.6L460.9,411.2M481.1,378.4L475.7,377.6M481.1,378.4L477.7,382.7M467.2,384.0L481.1,378.4M458.6,368.9L463.6,366.6M458.6,368.9L459.1,363.4M467.2,356.7L458.6,368.9M455.8,352.6L461.2,351.7M455.8,352.6L457.6,347.5M467.2,343.0L455.8,352.6M457.2,340.4L462.5,338.7M457.2,340.4L458.4,335.0M467.2,329.2L457.2,340.4M457.7,299.3L462.9,297.3M457.7,299.3L458.6,293.9M467.2,287.7L457.7,299.3M458.7,272.1L463.7,269.7M458.7,272.1L459.1,266.6M467.2,259.7L458.7,272.1M459.6,215.9L464.4,213.2M459.6,215.9L459.6,210.4M467.2,203.0L459.6,215.9M459.7,201.6L464.5,198.9M459.7,201.6L459.7,196.1M467.2,188.6L459.7,201.6M460.4,187.5L465.0,184.5M460.4,187.5L460.1,182.0M467.2,174.1L460.4,187.5M461.0,173.2L465.5,170.0M461.0,173.2L460.5,167.7M467.2,159.6L461.0,173.2M461.0,158.5L465.4,155.3M461.0,158.5L460.5,153.0M467.2,144.9L461.0,158.5M460.6,143.6L465.2,140.5M460.6,143.6L460.2,138.1M467.2,130.1L460.6,143.6M460.7,113.7L465.2,110.6M460.7,113.7L460.3,108.2M467.2,100.2L460.7,113.7M462.7,99.3L466.7,95.6M462.7,99.3L461.5,93.9M467.2,85.0L462.7,99.3M463.6,84.3L467.4,80.3M463.6,84.3L462.1,79.0M467.2,69.7L463.6,84.3M465.9,69.3L469.1,64.7M465.9,69.3L463.6,64.3M467.2,54.3L465.9,69.3M493.5,473.4L490.9,468.5M493.5,473.4L488.0,473.2M480.8,465.5L493.5,473.4M495.4,441.7L491.4,438.0M495.4,441.7L490.1,443.4M480.8,438.4L495.4,441.7M495.5,427.4L491.3,423.9M495.5,427.4L490.4,429.3M480.8,424.8L495.5,427.4M490.0,423.0L489.2,417.6M490.0,423.0L484.9,421.0M480.8,411.2L490.0,423.0M466.7,392.5L470.2,396.7M466.7,392.5L472.1,391.6M480.8,397.6L466.7,392.5M485.4,369.7L481.3,373.4M485.4,369.7L486.6,375.1M480.8,384.0L485.4,369.7M490.8,359.2L485.6,360.9M490.8,359.2L489.7,364.6M480.8,370.3L490.8,359.2M468.6,351.7L474.1,351.2M468.6,351.7L470.9,346.7M480.8,343.0L468.6,351.7M469.7,311.7L475.1,310.5M469.7,311.7L471.4,306.5M480.8,301.6L469.7,311.7M469.9,298.0L475.3,296.7M469.9,298.0L471.5,292.8M480.8,287.7L469.9,298.0M471.2,271.3L476.4,269.4M471.2,271.3L472.1,265.9M480.8,259.7L471.2,271.3M471.9,257.7L476.9,255.5M471.9,257.7L472.5,252.3M480.8,245.7L471.9,257.7M472.1,243.8L477.1,241.5M472.1,243.8L472.6,238.3M480.8,231.5L472.1,243.8M472.5,229.8L477.4,227.4M472.5,229.8L472.8,224.3M480.8,217.3L472.5,229.8M473.0,215.8L477.8,213.2M473.0,215.8L473.1,210.3M480.8,203.0L473.0,215.8M473.8,201.9L478.4,199.0M473.8,201.9L473.6,196.4M480.8,188.6L473.8,201.9M475.1,188.0L479.4,184.7M475.1,188.0L474.3,182.6M480.8,174.1L475.1,188.0M476.2,173.8L480.2,170.2M476.2,173.8L475.0,168.5M480.8,159.6L476.2,173.8M475.8,159.0L480.0,155.5M475.8,159.0L474.8,153.6M480.8,144.9L475.8,159.0M475.5,144.1L479.7,140.7M475.5,144.1L474.6,138.7M480.8,130.1L475.5,144.1M475.2,129.1L479.5,125.7M475.2,129.1L474.4,123.7M480.8,115.2L475.2,129.1M475.4,114.2L479.7,110.7M475.4,114.2L474.6,108.8M480.8,100.2L475.4,114.2M476.6,99.4L480.5,95.6M476.6,99.4L475.3,94.1M480.8,85.0L476.6,99.4M478.1,84.5L481.6,80.3M478.1,84.5L476.2,79.3M480.8,69.7L478.1,84.5M480.7,69.3L483.5,64.6M480.7,69.3L478.0,64.5M480.8,54.3L480.7,69.3M482.5,53.6L484.7,48.6M482.5,53.6L479.2,49.2M480.8,38.7L482.5,53.6M506.6,474.1L504.3,469.2M506.6,474.1L501.1,473.6M494.3,465.5L506.6,474.1M509.2,440.5L504.9,437.1M509.2,440.5L504.1,442.5M494.3,438.4L509.2,440.5M509.2,426.7L504.8,423.3M509.2,426.7L504.2,428.8M494.3,424.8L509.2,426.7M479.6,413.8L484.7,415.7M479.6,413.8L483.8,410.3M494.3,411.2L479.6,413.8M480.1,392.8L483.8,396.9M480.1,392.8L485.5,391.7M494.3,397.6L480.1,392.8M484.0,373.1L485.3,378.5M484.0,373.1L489.3,374.7M494.3,384.0L484.0,373.1M482.4,352.0L487.9,351.3M482.4,352.0L484.5,347.0M494.3,343.0L482.4,352.0M483.7,270.3L489.0,268.9M483.7,270.3L485.2,265.0M494.3,259.7L483.7,270.3M484.6,257.1L489.8,255.2M484.6,257.1L485.6,251.7M494.3,245.7L484.6,257.1M484.9,243.2L490.0,241.2M484.9,243.2L485.8,237.8M494.3,231.5L484.9,243.2M485.3,229.3L490.4,227.1M485.3,229.3L486.0,223.8M494.3,217.3L485.3,229.3M486.0,215.5L490.9,213.0M486.0,215.5L486.4,210.0M494.3,203.0L486.0,215.5M487.1,201.8L491.8,198.9M487.1,201.8L487.0,196.3M494.3,188.6L487.1,201.8M488.9,188.1L493.2,184.7M488.9,188.1L488.1,182.7M494.3,174.1L488.9,188.1M489.7,173.8L493.8,170.2M489.7,173.8L488.6,168.5M494.3,159.6L489.7,173.8M490.0,159.2L494.0,155.5M490.0,159.2L488.7,153.9M494.3,144.9L490.0,159.2M490.0,144.5L494.0,140.7M490.0,144.5L488.8,139.1M494.3,130.1L490.0,144.5M489.7,129.5L493.8,125.8M489.7,129.5L488.6,124.1M494.3,115.2L489.7,129.5M489.5,114.4L493.7,110.8M489.5,114.4L488.4,109.0M494.3,100.2L489.5,114.4M490.4,99.5L494.3,95.6M490.4,99.5L489.0,94.2M494.3,85.0L490.4,99.5M491.2,84.4L494.9,80.3M491.2,84.4L489.5,79.2M494.3,69.7L491.2,84.4M494.1,69.3L496.9,64.6M494.1,69.3L491.4,64.5M494.3,54.3L494.1,69.3M497.4,53.4L499.1,48.2M497.4,53.4L493.7,49.3M494.3,38.7L497.4,53.4M518.4,476.2L517.0,470.9M518.4,476.2L513.1,474.7M507.9,465.5L518.4,476.2M511.1,439.5L512.8,434.2M511.1,439.5L507.4,435.4M507.9,424.8L511.1,439.5M493.6,415.6L498.9,416.8M493.6,415.6L497.3,411.6M507.9,411.2L493.6,415.6M492.9,397.6L497.7,400.4M492.9,397.6L497.7,394.9M507.9,397.6L492.9,397.6M494.9,295.2L500.4,295.2M494.9,295.2L497.7,290.4M507.9,287.7L494.9,295.2M495.5,282.2L501.0,281.8M495.5,282.2L497.9,277.3M507.9,273.7L495.5,282.2M496.2,269.1L501.6,268.3M496.2,269.1L498.2,264.0M507.9,259.7L496.2,269.1M496.7,255.7L502.1,254.6M496.7,255.7L498.4,250.5M507.9,245.7L496.7,255.7M497.6,242.4L502.8,240.8M497.6,242.4L498.9,237.1M507.9,231.5L497.6,242.4M498.3,228.9L503.5,226.9M498.3,228.9L499.3,223.4M507.9,217.3L498.3,228.9M498.9,215.0L503.9,212.8M498.9,215.0L499.5,209.5M507.9,203.0L498.9,215.0M499.8,201.2L504.7,198.7M499.8,201.2L500.1,195.7M507.9,188.6L499.8,201.2M501.5,187.7L506.0,184.6M501.5,187.7L501.1,182.2M507.9,174.1L501.5,187.7M502.7,173.6L507.0,170.1M502.7,173.6L501.8,168.2M507.9,159.6L502.7,173.6M503.4,159.2L507.4,155.5M503.4,159.2L502.2,153.8M507.9,144.9L503.4,159.2M503.9,144.6L507.8,140.7M503.9,144.6L502.5,139.2M507.9,130.1L503.9,144.6M504.8,129.9L508.5,125.8M504.8,129.9L503.1,124.6M507.9,115.2L504.8,129.9M505.5,115.0L509.0,110.7M505.5,115.0L503.6,109.8M507.9,100.2L505.5,115.0M505.5,99.8L509.0,95.6M505.5,99.8L503.6,94.7M507.9,85.0L505.5,99.8M506.3,84.6L509.5,80.2M506.3,84.6L504.0,79.6M507.9,69.7L506.3,84.6M507.1,69.3L510.1,64.7M507.1,69.3L504.6,64.4M507.9,54.3L507.1,69.3M509.0,53.7L511.4,48.7M509.0,53.7L505.9,49.1M507.9,38.7L509.0,53.7M529.5,478.2L529.3,472.7M529.5,478.2L524.6,475.6M521.5,465.5L529.5,478.2M526.9,465.9L527.8,460.5M526.9,465.9L522.6,462.5M521.5,451.9L526.9,465.9M522.7,453.3L525.0,448.4M522.7,453.3L519.6,448.8M521.5,438.4L522.7,453.3M521.4,439.8L524.2,435.0M521.4,439.8L518.7,435.0M521.5,424.8L521.4,439.8M508.2,418.3L513.7,418.5M508.2,418.3L511.1,413.6M521.5,411.2L508.2,418.3M506.9,401.2L512.2,402.8M506.9,401.2L510.9,397.4M521.5,397.6L506.9,401.2M506.6,386.3L511.8,388.3M506.6,386.3L510.9,382.9M521.5,384.0L506.6,386.3M507.8,335.3L513.2,335.9M507.8,335.3L511.0,330.9M521.5,329.2L507.8,335.3M507.6,321.1L513.0,321.9M507.6,321.1L510.9,316.8M521.5,315.4L507.6,321.1M507.4,306.7L512.8,307.7M507.4,306.7L510.9,302.5M521.5,301.6L507.4,306.7M507.7,293.7L513.2,294.3M507.7,293.7L511.0,289.2M521.5,287.7L507.7,293.7M508.2,280.8L513.7,281.0M508.2,280.8L511.1,276.1M521.5,273.7L508.2,280.8M508.9,267.9L514.4,267.6M508.9,267.9L511.4,263.0M521.5,259.7L508.9,267.9M508.9,253.8L514.3,253.5M508.9,253.8L511.4,248.9M521.5,245.7L508.9,253.8M510.4,241.7L515.8,240.5M510.4,241.7L512.1,236.4M521.5,231.5L510.4,241.7M511.6,228.6L516.8,226.8M511.6,228.6L512.6,223.2M521.5,217.3L511.6,228.6M511.6,214.3L516.8,212.5M511.6,214.3L512.7,208.9M521.5,203.0L511.6,214.3M512.6,200.7L517.6,198.5M512.6,200.7L513.2,195.2M521.5,188.6L512.6,200.7M514.2,187.3L518.9,184.4M514.2,187.3L514.1,181.8M521.5,174.1L514.2,187.3M515.3,173.3L519.8,170.0M515.3,173.3L514.8,167.8M521.5,159.6L515.3,173.3M516.3,159.0L520.5,155.4M516.3,159.0L515.3,153.5M521.5,144.9L516.3,159.0M517.1,144.4L521.1,140.7M517.1,144.4L515.8,139.1M521.5,130.1L517.1,144.4M519.7,130.1L523.0,125.7M519.7,130.1L517.5,125.0M521.5,115.2L519.7,130.1M519.6,115.1L522.9,110.7M519.6,115.1L517.5,110.0M521.5,100.2L519.6,115.1M520.3,100.0L523.4,95.4M520.3,100.0L517.9,95.0M521.5,85.0L520.3,100.0M520.6,84.7L523.6,80.1M520.6,84.7L518.1,79.8M521.5,69.7L520.6,84.7M521.9,69.3L524.5,64.5M521.9,69.3L519.0,64.6M521.5,54.3L521.9,69.3M523.0,53.6L525.3,48.6M523.0,53.6L519.8,49.2M521.5,38.7L523.0,53.6M541.5,479.0L541.9,473.6M541.5,479.0L537.0,475.9M535.0,465.5L541.5,479.0M538.0,466.6L539.7,461.4M538.0,466.6L534.4,462.5M535.0,451.9L538.0,466.6M533.1,453.3L536.5,448.9M533.1,453.3L531.0,448.2M535.0,438.4L533.1,453.3M528.4,438.3L533.0,435.2M528.4,438.3L528.1,432.8M535.0,424.8L528.4,438.3M523.3,420.5L528.7,419.7M523.3,420.5L525.3,415.4M535.0,411.2L523.3,420.5M521.4,404.0L526.9,404.5M521.4,404.0L524.6,399.5M535.0,397.6L521.4,404.0M521.0,389.4L526.5,390.3M521.0,389.4L524.5,385.1M535.0,384.0L521.0,389.4M520.8,375.2L526.2,376.3M520.8,375.2L524.4,371.0M535.0,370.3L520.8,375.2M520.8,361.5L526.2,362.6M520.8,361.5L524.4,357.4M535.0,356.7L520.8,361.5M520.8,347.7L526.2,348.8M520.8,347.7L524.4,343.6M535.0,343.0L520.8,347.7M520.7,333.6L526.0,334.9M520.7,333.6L524.4,329.6M535.0,329.2L520.7,333.6M520.7,320.0L526.1,321.1M520.7,320.0L524.4,315.9M535.0,315.4L520.7,320.0M520.8,306.3L526.1,307.4M520.8,306.3L524.4,302.2M535.0,301.6L520.8,306.3M520.9,292.8L526.3,293.7M520.9,292.8L524.5,288.6M535.0,287.7L520.9,292.8M521.1,279.3L526.5,280.1M521.1,279.3L524.5,275.0M535.0,273.7L521.1,279.3M521.3,265.7L526.7,266.4M521.3,265.7L524.5,261.3M535.0,259.7L521.3,265.7M521.9,252.9L527.4,253.0M521.9,252.9L524.7,248.2M535.0,245.7L521.9,252.9M523.3,240.9L528.7,240.1M523.3,240.9L525.3,235.8M535.0,231.5L523.3,240.9M524.8,228.2L530.0,226.6M524.8,228.2L526.0,222.9M535.0,217.3L524.8,228.2M525.0,214.2L530.2,212.5M525.0,214.2L526.1,208.8M535.0,203.0L525.0,214.2M525.0,199.8L530.2,198.1M525.0,199.8L526.1,194.4M535.0,188.6L525.0,199.8M525.9,186.0L531.0,183.9M525.9,186.0L526.6,180.6M535.0,174.1L525.9,186.0M527.1,172.3L531.9,169.7M527.1,172.3L527.3,166.8M535.0,159.6L527.1,172.3M528.2,158.3L532.8,155.3M528.2,158.3L527.9,152.8M535.0,144.9L528.2,158.3M530.1,144.3L534.3,140.7M530.1,144.3L529.1,138.9M535.0,130.1L530.1,144.3M533.6,130.1L536.8,125.7M533.6,130.1L531.3,125.1M535.0,115.2L533.6,130.1M534.2,115.2L537.2,110.5M534.2,115.2L531.7,110.3M535.0,100.2L534.2,115.2M535.0,100.0L537.7,95.3M535.0,100.0L532.2,95.2M535.0,85.0L535.0,100.0M535.0,84.7L537.8,80.0M535.0,84.7L532.3,80.0M535.0,69.7L535.0,84.7M537.3,69.1L539.3,64.0M537.3,69.1L533.9,64.8M535.0,54.3L537.3,69.1M539.6,53.0L540.8,47.6M539.6,53.0L535.5,49.3M535.0,38.7L539.6,53.0M539.5,436.7L544.5,434.6M539.5,436.7L540.2,431.3M548.6,424.8L539.5,436.7M536.7,420.4L542.2,419.7M536.7,420.4L538.8,415.3M548.6,411.2L536.7,420.4M535.5,405.0L541.0,405.0M535.5,405.0L538.3,400.3M548.6,397.6L535.5,405.0M535.0,390.5L540.5,390.9M535.0,390.5L538.2,385.9M548.6,384.0L535.0,390.5M534.7,375.9L540.1,376.7M534.7,375.9L538.1,371.6M548.6,370.3L534.7,375.9M534.4,361.6L539.8,362.6M534.4,361.6L538.0,357.4M548.6,356.7L534.4,361.6M534.2,347.1L539.5,348.5M534.2,347.1L538.0,343.2M548.6,343.0L534.2,347.1M534.0,332.9L539.3,334.4M534.0,332.9L538.0,329.1M548.6,329.2L534.0,332.9M534.1,319.5L539.5,320.8M534.1,319.5L538.0,315.5M548.6,315.4L534.1,319.5M534.3,306.1L539.7,307.3M534.3,306.1L538.0,302.1M548.6,301.6L534.3,306.1M534.3,292.4L539.7,293.5M534.3,292.4L538.0,288.3M548.6,287.7L534.3,292.4M534.3,278.4L539.7,279.5M534.3,278.4L538.0,274.3M548.6,273.7L534.3,278.4M534.3,264.4L539.7,265.5M534.3,264.4L538.0,260.3M548.6,259.7L534.3,264.4M534.8,251.7L540.3,252.3M534.8,251.7L538.1,247.2M548.6,245.7L534.8,251.7M535.8,239.3L541.3,239.2M535.8,239.3L538.4,234.5M548.6,231.5L535.8,239.3M536.9,226.7L542.3,225.8M536.9,226.7L538.9,221.5M548.6,217.3L536.9,226.7M538.3,213.9L543.6,212.3M538.3,213.9L539.6,208.6M548.6,203.0L538.3,213.9M537.8,199.0L543.1,197.7M537.8,199.0L539.3,193.7M548.6,188.6L537.8,199.0M537.0,183.6L542.4,182.8M537.0,183.6L538.9,178.5M548.6,174.1L537.0,183.6M538.4,170.6L543.6,168.9M538.4,170.6L539.6,165.2M548.6,159.6L538.4,170.6M541.2,158.0L546.0,155.2M541.2,158.0L541.2,152.5M548.6,144.9L541.2,158.0M542.4,143.8L546.9,140.6M542.4,143.8L541.9,138.3M548.6,130.1L542.4,143.8M545.8,129.9L549.4,125.8M545.8,129.9L544.0,124.8M548.6,115.2L545.8,129.9M548.5,115.2L551.3,110.4M548.5,115.2L545.8,110.4M548.6,100.2L548.5,115.2M548.6,100.0L551.4,95.3M548.6,100.0L545.9,95.3M548.6,85.0L548.6,100.0M551.0,84.5L552.9,79.4M551.0,84.5L547.5,80.3M548.6,69.7L551.0,84.5M552.4,68.8L553.8,63.5M552.4,68.8L548.5,64.9M548.6,54.3L552.4,68.8M552.0,53.3L553.6,48.1M552.0,53.3L548.3,49.3M548.6,38.7L552.0,53.3M567.7,479.4L568.5,474.0M567.7,479.4L563.4,476.0M562.1,465.5L567.7,479.4M564.3,466.8L566.3,461.7M564.3,466.8L560.9,462.5M562.1,451.9L564.3,466.8M554.0,451.0L558.9,448.5M554.0,451.0L554.3,445.5M562.1,438.4L554.0,451.0M551.7,435.6L557.0,434.1M551.7,435.6L553.0,430.2M562.1,424.8L551.7,435.6M550.0,420.0L555.5,419.4M550.0,420.0L552.2,415.0M562.1,411.2L550.0,420.0M549.2,405.1L554.7,405.1M549.2,405.1L551.9,400.4M562.1,397.6L549.2,405.1M548.7,390.6L554.2,391.0M548.7,390.6L551.7,386.0M562.1,384.0L548.7,390.6M548.3,376.1L553.7,376.8M548.3,376.1L551.6,371.7M562.1,370.3L548.3,376.1M547.9,361.5L553.3,362.6M547.9,361.5L551.6,357.4M562.1,356.7L547.9,361.5M547.7,346.9L553.0,348.3M547.7,346.9L551.5,343.0M562.1,343.0L547.7,346.9M547.5,332.6L552.8,334.2M547.5,332.6L551.5,328.8M562.1,329.2L547.5,332.6M547.6,319.3L553.0,320.7M547.6,319.3L551.5,315.4M562.1,315.4L547.6,319.3M547.9,306.3L553.3,307.4M547.9,306.3L551.6,302.2M562.1,301.6L547.9,306.3M547.9,292.4L553.3,293.5M547.9,292.4L551.6,288.3M562.1,287.7L547.9,292.4M547.8,278.2L553.2,279.4M547.8,278.2L551.5,274.2M562.1,273.7L547.8,278.2M547.7,263.9L553.1,265.2M547.7,263.9L551.5,259.9M562.1,259.7L547.7,263.9M548.2,251.1L553.6,252.0M548.2,251.1L551.6,246.8M562.1,245.7L548.2,251.1M548.4,237.4L553.8,238.1M548.4,237.4L551.6,233.0M562.1,231.5L548.4,237.4M549.6,225.6L555.1,225.2M549.6,225.6L552.1,220.6M562.1,217.3L549.6,225.6M550.9,213.0L556.3,211.9M550.9,213.0L552.7,207.8M562.1,203.0L550.9,213.0M551.0,198.7L556.4,197.5M551.0,198.7L552.7,193.4M562.1,188.6L551.0,198.7M550.5,183.6L555.9,182.7M550.5,183.6L552.5,178.4M562.1,174.1L550.5,183.6M551.2,169.9L556.6,168.6M551.2,169.9L552.8,164.6M562.1,159.6L551.2,169.9M553.8,157.3L558.7,154.9M553.8,157.3L554.1,151.8M562.1,144.9L553.8,157.3M555.1,143.3L559.8,140.4M555.1,143.3L554.9,137.8M562.1,130.1L555.1,143.3M558.8,129.8L562.5,125.8M558.8,129.8L557.2,124.6M562.1,115.2L558.8,129.8M562.9,115.2L565.4,110.3M562.9,115.2L559.9,110.5M562.1,100.2L562.9,115.2M563.6,100.0L565.9,94.9M563.6,100.0L560.4,95.5M562.1,85.0L563.6,100.0M563.7,84.7L565.9,79.6M563.7,84.7L560.5,80.2M562.1,69.7L563.7,84.7M565.5,68.9L567.1,63.7M565.5,68.9L561.7,64.9M562.1,54.3L565.5,68.9M567.7,52.6L568.5,47.2M567.7,52.6L563.4,49.3M562.1,38.7L567.7,52.6M578.6,480.2L580.4,475.0M578.6,480.2L575.0,476.1M575.7,465.5L578.6,480.2M573.7,466.8L577.1,462.4M573.7,466.8L571.6,461.7M575.7,451.9L573.7,466.8M567.5,451.0L572.4,448.5M567.5,451.0L567.8,445.5M575.7,438.4L567.5,451.0M565.1,435.4L570.4,434.0M565.1,435.4L566.5,430.1M575.7,424.8L565.1,435.4M563.7,420.2L569.2,419.6M563.7,420.2L565.9,415.2M575.7,411.2L563.7,420.2M562.9,405.4L568.4,405.3M562.9,405.4L565.5,400.6M575.7,397.6L562.9,405.4M562.3,390.8L567.8,391.1M562.3,390.8L565.3,386.2M575.7,384.0L562.3,390.8M561.9,376.2L567.4,376.9M561.9,376.2L565.2,371.8M575.7,370.3L561.9,376.2M561.5,361.6L567.0,362.7M561.5,361.6L565.1,357.5M575.7,356.7L561.5,361.6M561.3,347.0L566.6,348.4M561.3,347.0L565.1,343.1M575.7,343.0L561.3,347.0M561.1,332.6L566.4,334.2M561.1,332.6L565.1,328.9M575.7,329.2L561.1,332.6M561.2,319.2L566.5,320.7M561.2,319.2L565.1,315.4M575.7,315.4L561.2,319.2M561.3,305.9L566.7,307.2M561.3,305.9L565.1,301.9M575.7,301.6L561.3,305.9M561.4,292.2L566.8,293.4M561.4,292.2L565.1,288.2M575.7,287.7L561.4,292.2M561.4,278.2L566.8,279.4M561.4,278.2L565.1,274.2M575.7,273.7L561.4,278.2M561.3,263.9L566.6,265.2M561.3,263.9L565.1,259.9M575.7,259.7L561.3,263.9M561.3,249.9L566.7,251.2M561.3,249.9L565.1,245.9M575.7,245.7L561.3,249.9M561.7,236.9L567.1,237.7M561.7,236.9L565.2,232.6M575.7,231.5L561.7,236.9M562.6,224.7L568.1,224.7M562.6,224.7L565.4,220.0M575.7,217.3L562.6,224.7M564.4,212.8L569.8,211.8M564.4,212.8L566.2,207.6M575.7,203.0L564.4,212.8M564.2,198.3L569.7,197.3M564.2,198.3L566.1,193.1M575.7,188.6L564.2,198.3M563.9,183.4L569.4,182.6M563.9,183.4L566.0,178.3M575.7,174.1L563.9,183.4M564.5,169.6L569.9,168.4M564.5,169.6L566.2,164.3M575.7,159.6L564.5,169.6M566.8,157.0L571.9,154.8M566.8,157.0L567.4,151.5M575.7,144.9L566.8,157.0M569.0,143.5L573.6,140.5M569.0,143.5L568.6,138.0M575.7,130.1L569.0,143.5M571.9,129.7L575.8,125.8M571.9,129.7L570.5,124.4M575.7,115.2L571.9,129.7M575.1,115.2L578.0,110.5M575.1,115.2L572.5,110.3M575.7,100.2L575.1,115.2M576.7,100.0L579.1,95.1M576.7,100.0L573.6,95.4M575.7,85.0L576.7,100.0M577.6,84.6L579.7,79.5M577.6,84.6L574.3,80.2M575.7,69.7L577.6,84.6M579.1,68.9L580.7,63.7M579.1,68.9L575.3,64.9M575.7,54.3L579.1,68.9M580.5,52.9L581.6,47.5M580.5,52.9L576.4,49.3M575.7,38.7L580.5,52.9" stroke="#000096" stroke-width="0.95" fill="none"/>
<path d="M145.0,28.0 468.0,28.0 466.0,38.0 463.0,42.0 460.3,46.9 461.5,52.0 461.0,58.3 457.0,61.0 454.6,64.7 450.0,67.0 448.0,69.7 448.5,74.0 447.4,78.3 445.0,82.0 443.0,84.0 438.0,86.0 434.0,88.3 433.0,93.0 434.0,97.0 432.0,101.0 431.7,104.0 428.0,108.0 424.6,112.0 425.3,114.7 421.0,119.0 416.0,121.0 413.0,122.6 411.0,126.0 408.9,129.0 406.0,132.0 403.9,134.0 399.0,136.0 395.3,138.3 394.0,141.0 393.0,143.3 390.0,144.0 387.4,144.7 384.0,147.0 380.3,148.3 376.0,147.5 372.4,147.6 369.0,149.0 366.0,149.7 361.0,150.0 358.0,150.5 356.0,147.0 354.5,143.5 352.3,144.0 351.5,148.0 351.0,152.0 350.9,155.4 346.6,156.9 342.0,159.0 338.0,161.0 333.0,162.0 328.0,163.3 321.0,165.5 315.0,167.6 312.0,168.5 309.4,169.7 307.3,174.0 310.0,176.0 312.3,176.9 313.0,180.0 312.3,184.0 308.0,185.4 303.7,184.0 302.0,180.0 300.9,175.4 302.0,171.0 303.7,167.6 301.0,165.0 298.7,164.0 295.0,166.0 292.3,166.9 288.0,164.0 284.4,161.9 278.0,164.0 272.3,166.9 265.0,170.5 258.0,173.3 257.9,174.3 258.0,178.0 257.0,181.4 252.0,186.0 248.6,191.4 246.0,197.0 244.3,202.9 247.0,206.5 250.0,210.0 253.0,213.5 255.7,217.0 257.5,220.5 258.6,224.3 263.0,230.0 268.0,233.5 272.3,236.9 276.0,239.5 279.4,242.6 282.5,247.0 285.0,251.0 288.0,255.0 290.0,258.3 291.5,262.5 292.3,266.9 293.5,270.0 293.7,274.0 295.4,274.0 294.5,278.0 294.0,281.0 296.0,285.0 296.9,288.3 295.0,292.0 293.3,295.4 293.5,300.0 293.3,304.0 292.0,307.0 289.7,309.7 285.0,312.5 281.0,315.4 277.0,318.0 272.6,321.0 268.0,322.5 264.0,323.3 259.0,325.4 258.5,328.0 258.3,331.0 254.5,334.0 251.0,336.9 247.5,339.0 244.0,341.0 242.0,343.5 239.7,345.4 237.0,346.5 234.7,345.4 234.5,341.0 234.7,336.9 236.5,333.0 237.6,329.7 235.0,328.0 232.6,326.9 231.5,324.5 230.4,322.6 226.0,322.5 222.6,321.9 220.0,319.5 218.3,316.9 215.5,316.5 212.6,315.4 211.0,311.5 210.0,306.9 208.0,303.0 206.4,299.7 202.9,299.7 200.5,297.5 198.6,295.4 195.5,293.5 192.9,291.9 188.0,292.5 182.9,292.6 181.5,290.5 180.7,288.3 181.0,284.5 180.7,281.0 176.0,280.4 171.4,280.4 168.6,282.6 168.6,290.0 168.6,298.3 166.5,302.5 164.3,306.9 162.8,310.5 161.4,314.0 160.0,318.5 158.6,322.6 157.8,326.0 157.9,329.0 159.0,333.0 160.7,338.0 165.0,337.5 168.6,337.0 169.5,343.0 170.0,348.6 172.0,353.5 174.3,358.6 175.2,363.0 175.7,367.0 179.0,369.5 182.9,371.4 186.5,372.0 190.0,372.0 191.5,374.5 192.9,377.0 196.5,379.3 200.0,381.4 203.5,384.0 207.0,387.0 209.5,390.0 211.4,392.9 213.6,396.0 215.0,398.0 216.0,401.5 216.4,405.0 215.5,409.5 215.0,413.7 215.2,418.5 215.7,423.7 217.8,427.5 220.0,430.9 222.2,434.0 224.3,436.6 225.5,439.5 225.7,442.3 224.3,445.0 221.5,446.3 218.6,446.6 215.5,445.3 212.9,443.7 209.3,441.0 205.7,438.0 201.5,435.5 197.0,433.0 192.7,429.8 188.6,426.6 187.0,422.5 185.7,418.7 183.0,415.5 180.7,412.3 179.2,408.5 177.9,405.0 176.3,400.7 175.0,396.6 174.5,392.0 172.9,388.6 171.5,385.0 170.7,381.4 171.4,375.7 169.0,375.3 167.0,374.3 165.5,370.5 164.3,367.0 162.0,365.0 160.0,362.9 160.0,357.0 155.0,357.0 145.0,357.0Z M145.0,416.0 155.0,416.6 161.4,418.7 165.0,423.5 168.6,428.0 172.0,431.0 175.7,433.7 180.7,437.3 187.0,438.0 189.3,442.3 192.5,444.0 195.7,445.0 198.0,447.3 200.0,449.4 204.3,453.7 208.0,454.5 211.4,455.0 212.9,458.7 215.0,459.4 217.0,462.0 218.6,465.0 219.0,475.0 165.0,475.0 164.3,465.0 161.0,462.0 158.6,459.4 157.0,455.0 155.7,450.9 155.0,450.0 145.0,450.0Z M287.0,197.0 289.0,195.0 291.4,192.9 295.5,191.3 300.0,190.0 304.5,189.0 308.6,187.9 312.5,188.0 315.7,188.6 317.5,190.5 317.9,192.9 316.3,195.8 314.3,198.6 312.2,202.0 310.0,205.7 307.3,208.0 304.3,210.0 300.8,211.7 297.0,212.9 293.5,211.8 290.0,210.0 288.0,207.3 286.4,204.3 286.2,200.5Z M461.2,110.9 458.0,112.0 455.3,114.0 451.0,118.9 446.8,125.3 443.6,131.8 441.9,138.2 441.9,145.7 443.3,149.0 445.0,151.5 447.5,153.5 449.5,156.0 451.0,159.7 452.5,157.5 453.5,154.0 455.5,150.0 457.5,146.7 460.1,140.3 462.8,131.8 465.0,124.3 466.0,117.8 465.0,113.0 463.0,111.0Z M448.6,209.7 452.5,208.7 457.0,208.3 460.0,210.5 462.9,212.6 467.9,213.3 468.7,210.5 469.3,208.3 470.5,210.3 471.4,212.6 471.0,217.5 470.7,222.6 472.2,226.0 473.6,229.7 472.0,234.0 470.0,238.3 468.0,241.2 465.7,244.0 463.5,247.5 461.4,251.0 459.5,252.5 458.3,254.0 460.0,258.5 461.5,263.0 462.8,267.5 464.6,271.0 468.0,272.5 471.8,272.0 474.5,270.2 478.1,270.2 480.0,272.0 481.7,275.6 484.5,276.5 488.0,278.3 489.9,282.8 491.7,287.3 490.5,287.8 488.0,285.5 485.4,282.0 482.6,278.3 479.0,275.6 475.4,274.7 472.7,273.8 471.5,275.0 473.6,280.0 475.4,283.7 474.0,283.0 471.8,278.3 469.5,276.3 467.3,274.7 465.0,273.5 462.8,272.0 460.0,275.6 456.5,278.3 453.0,274.7 449.3,272.0 448.4,267.5 450.0,266.0 452.5,264.5 452.0,262.5 449.5,262.5 447.8,264.5 445.7,263.0 443.0,262.0 440.8,259.4 440.3,254.0 440.0,251.0 438.6,248.3 437.0,246.0 437.0,244.0 440.0,243.0 443.6,241.0 445.0,236.0 446.4,231.0 446.0,225.0 445.7,219.7 447.0,214.5Z M497.0,273.0 498.9,274.7 498.4,278.3 496.2,279.7 495.5,276.5Z M447.0,281.5 452.0,282.0 456.5,283.3 459.7,285.5 460.6,290.0 459.2,293.6 456.5,297.2 454.3,296.3 452.0,291.8 450.7,287.3 448.4,283.7Z M484.8,296.3 487.0,295.0 489.7,297.2 493.3,300.8 493.0,302.0 490.6,300.0 487.0,298.3Z M499.6,295.4 505.0,294.5 510.5,294.5 513.2,298.0 513.2,303.5 515.0,309.8 514.0,311.6 510.5,310.7 508.6,306.2 506.0,301.7 502.3,299.0Z M500.5,311.6 504.1,310.7 506.8,312.5 507.3,317.0 509.1,321.5 510.5,325.0 507.7,326.0 506.0,322.4 505.0,317.0 502.3,316.0 501.0,313.8Z M466.3,303.5 471.7,305.3 478.0,308.0 482.5,309.0 480.7,312.5 476.2,316.0 471.7,318.8 467.2,321.5 467.7,315.2 468.1,309.0Z M481.6,317.0 486.1,316.6 486.6,320.6 484.3,326.0 483.0,330.5 482.5,335.0 480.7,338.6 477.1,335.0 473.5,332.3 478.0,329.6 479.8,324.2 480.8,320.0Z M493.3,317.0 494.2,319.7 492.4,324.2 489.7,328.7 487.0,333.2 486.1,336.0 486.0,333.0 487.0,330.5 489.7,325.0 491.5,320.6Z M493.3,330.5 497.8,327.4 500.5,329.6 498.7,332.8 495.1,333.2Z M466.4,369.0 467.5,365.0 468.6,361.0 470.7,358.5 472.9,356.0 475.7,355.0 478.6,354.0 480.0,351.8 481.4,349.7 484.2,348.6 487.0,347.6 489.2,348.6 491.4,349.7 491.4,355.4 494.2,354.0 497.0,352.6 499.0,349.7 502.0,349.0 505.4,348.3 506.3,345.5 506.9,342.6 509.5,343.5 511.9,344.0 513.0,340.0 514.0,336.9 514.7,334.5 515.4,332.6 518.0,335.5 521.0,338.3 522.6,341.0 524.0,344.0 523.6,347.0 523.3,349.7 525.5,352.5 527.6,355.4 528.4,360.0 529.0,364.0 528.0,367.5 526.9,371.0 525.5,372.5 524.0,374.0 524.4,377.0 524.7,379.7 523.0,376.0 522.0,372.0 521.0,368.3 519.6,366.8 518.3,365.4 517.0,368.3 516.0,371.0 516.5,374.7 516.9,378.3 515.5,381.2 514.0,384.0 511.9,386.9 510.0,385.5 508.3,384.0 504.7,382.5 501.0,381.0 498.0,379.0 495.4,376.9 495.0,374.0 494.7,371.0 496.2,369.0 497.6,366.9 496.5,364.7 495.4,362.6 493.5,360.0 491.5,358.0 489.3,358.3 487.5,360.5 485.7,362.6 483.8,361.0 482.0,359.7 480.6,362.0 479.3,364.0 478.6,362.0 477.9,360.4 476.0,362.2 474.3,364.0 472.0,367.2 470.0,370.4Z M434.3,318.3 435.0,320.0 431.4,323.5 428.5,327.0 425.7,329.7 423.0,333.0 420.0,336.5 417.0,340.5 414.3,343.2 410.5,346.0 407.0,348.0 404.5,350.3 402.9,351.0 402.3,349.5 405.0,346.5 408.0,343.8 411.5,341.0 414.0,338.2 417.0,334.5 420.0,331.0 423.0,327.5 426.0,324.0 429.0,321.0 432.0,318.5 433.5,315.0 434.3,311.0 435.3,314.0Z M398.5,355.5 400.2,355.5 400.2,358.3 398.5,358.3Z M294.0,475.0 293.7,465.0 292.0,462.0 290.9,459.4 290.2,456.5 290.0,453.7 290.7,449.3 291.6,445.0 293.2,442.0 295.0,439.4 297.2,438.3 299.4,438.0 303.7,440.0 308.0,441.6 310.8,442.5 313.7,443.0 316.5,442.9 319.4,442.3 320.9,438.7 322.3,435.0 322.3,432.0 322.3,429.4 324.4,427.8 326.6,426.6 332.3,425.2 338.0,423.7 342.3,422.4 346.6,420.9 350.2,416.6 353.7,412.3 356.9,408.0 360.0,403.7 363.0,402.5 366.0,402.3 368.6,400.0 374.3,395.7 380.0,391.4 383.5,387.2 387.0,382.9 391.4,379.3 395.7,375.7 396.4,372.8 397.0,370.0 399.2,369.0 401.4,368.6 402.2,371.5 402.9,374.3 405.0,375.7 407.0,377.0 407.8,380.7 408.6,384.3 411.5,386.5 414.3,388.6 418.6,389.3 422.9,390.0 426.5,391.5 430.0,392.9 430.3,393.0 427.5,394.8 424.6,396.6 420.3,397.7 416.0,398.7 418.5,401.2 421.0,403.7 417.0,405.9 413.0,408.0 411.7,410.2 410.3,412.3 406.0,414.5 401.7,416.6 405.3,418.8 408.9,420.9 406.8,422.3 404.6,423.7 408.2,428.0 411.7,432.3 410.7,435.2 409.6,438.0 412.8,440.9 416.0,443.7 420.3,447.3 424.6,450.9 421.8,451.6 418.9,452.3 415.3,452.3 411.7,452.3 410.3,455.2 408.9,458.0 407.8,461.2 406.7,465.0 406.5,475.0Z M440.3,475.0 440.3,465.0 441.0,460.5 441.7,456.6 445.3,454.5 448.9,452.3 451.8,450.2 454.6,448.0 457.5,449.5 460.3,450.9 463.2,451.6 466.0,452.3 470.0,452.7 474.0,453.0 477.5,453.7 481.0,454.4 486.0,454.0 491.0,453.7 494.7,452.3 498.3,450.9 501.5,448.0 504.7,445.0 506.9,443.0 509.0,440.9 510.0,443.0 509.7,445.0 507.6,448.7 505.4,452.3 502.6,455.2 499.7,458.0 495.4,458.7 491.0,459.4 486.8,459.4 482.6,459.4 478.3,458.4 474.0,457.8 470.0,458.0 466.0,458.0 461.7,458.4 457.4,458.7 451.7,459.0 446.0,459.4 444.5,461.0 443.0,462.3 442.3,465.0 442.3,475.0Z M545.0,438.4 546.7,439.3 548.4,443.2 547.2,447.4 544.2,450.4 541.1,450.9 541.1,447.4 542.9,443.2 543.7,440.2Z M557.4,444.0 558.3,445.7 557.4,450.0 554.9,452.2 551.4,453.4 550.2,456.0 553.2,457.7 556.6,459.9 554.9,460.3 551.4,458.6 548.4,458.6 547.2,461.2 546.7,465.0 546.7,475.0 545.0,475.0 545.0,465.0 544.6,461.2 542.9,458.6 543.7,455.6 547.2,454.3 549.3,450.9 551.0,447.4 553.6,445.3Z M551.9,435.0 553.2,432.0 555.7,429.9 557.4,430.7 556.6,434.2 554.4,436.7 552.3,436.7Z M278.0,410.0 280.5,409.7 281.3,412.0 280.0,414.0 278.2,413.5Z M531.0,402.0 532.8,402.0 532.8,405.5 531.0,405.5Z M465.3,281.0 467.6,281.0 467.6,283.3 465.3,283.3Z M474.5,295.0 476.5,295.0 476.5,297.0 474.5,297.0Z M514.5,331.0 516.0,332.0 517.7,336.8 516.0,337.0 514.8,334.0Z M438.6,298.5 443.5,299.0 443.5,301.0 440.0,301.2 438.6,300.5Z" fill="#000" stroke="#000" stroke-width="3.7" stroke-linejoin="round" filter="url(#rough)"/><path d="M145.0,28.0 468.0,28.0 466.0,38.0 463.0,42.0 460.3,46.9 461.5,52.0 461.0,58.3 457.0,61.0 454.6,64.7 450.0,67.0 448.0,69.7 448.5,74.0 447.4,78.3 445.0,82.0 443.0,84.0 438.0,86.0 434.0,88.3 433.0,93.0 434.0,97.0 432.0,101.0 431.7,104.0 428.0,108.0 424.6,112.0 425.3,114.7 421.0,119.0 416.0,121.0 413.0,122.6 411.0,126.0 408.9,129.0 406.0,132.0 403.9,134.0 399.0,136.0 395.3,138.3 394.0,141.0 393.0,143.3 390.0,144.0 387.4,144.7 384.0,147.0 380.3,148.3 376.0,147.5 372.4,147.6 369.0,149.0 366.0,149.7 361.0,150.0 358.0,150.5 356.0,147.0 354.5,143.5 352.3,144.0 351.5,148.0 351.0,152.0 350.9,155.4 346.6,156.9 342.0,159.0 338.0,161.0 333.0,162.0 328.0,163.3 321.0,165.5 315.0,167.6 312.0,168.5 309.4,169.7 307.3,174.0 310.0,176.0 312.3,176.9 313.0,180.0 312.3,184.0 308.0,185.4 303.7,184.0 302.0,180.0 300.9,175.4 302.0,171.0 303.7,167.6 301.0,165.0 298.7,164.0 295.0,166.0 292.3,166.9 288.0,164.0 284.4,161.9 278.0,164.0 272.3,166.9 265.0,170.5 258.0,173.3 257.9,174.3 258.0,178.0 257.0,181.4 252.0,186.0 248.6,191.4 246.0,197.0 244.3,202.9 247.0,206.5 250.0,210.0 253.0,213.5 255.7,217.0 257.5,220.5 258.6,224.3 263.0,230.0 268.0,233.5 272.3,236.9 276.0,239.5 279.4,242.6 282.5,247.0 285.0,251.0 288.0,255.0 290.0,258.3 291.5,262.5 292.3,266.9 293.5,270.0 293.7,274.0 295.4,274.0 294.5,278.0 294.0,281.0 296.0,285.0 296.9,288.3 295.0,292.0 293.3,295.4 293.5,300.0 293.3,304.0 292.0,307.0 289.7,309.7 285.0,312.5 281.0,315.4 277.0,318.0 272.6,321.0 268.0,322.5 264.0,323.3 259.0,325.4 258.5,328.0 258.3,331.0 254.5,334.0 251.0,336.9 247.5,339.0 244.0,341.0 242.0,343.5 239.7,345.4 237.0,346.5 234.7,345.4 234.5,341.0 234.7,336.9 236.5,333.0 237.6,329.7 235.0,328.0 232.6,326.9 231.5,324.5 230.4,322.6 226.0,322.5 222.6,321.9 220.0,319.5 218.3,316.9 215.5,316.5 212.6,315.4 211.0,311.5 210.0,306.9 208.0,303.0 206.4,299.7 202.9,299.7 200.5,297.5 198.6,295.4 195.5,293.5 192.9,291.9 188.0,292.5 182.9,292.6 181.5,290.5 180.7,288.3 181.0,284.5 180.7,281.0 176.0,280.4 171.4,280.4 168.6,282.6 168.6,290.0 168.6,298.3 166.5,302.5 164.3,306.9 162.8,310.5 161.4,314.0 160.0,318.5 158.6,322.6 157.8,326.0 157.9,329.0 159.0,333.0 160.7,338.0 165.0,337.5 168.6,337.0 169.5,343.0 170.0,348.6 172.0,353.5 174.3,358.6 175.2,363.0 175.7,367.0 179.0,369.5 182.9,371.4 186.5,372.0 190.0,372.0 191.5,374.5 192.9,377.0 196.5,379.3 200.0,381.4 203.5,384.0 207.0,387.0 209.5,390.0 211.4,392.9 213.6,396.0 215.0,398.0 216.0,401.5 216.4,405.0 215.5,409.5 215.0,413.7 215.2,418.5 215.7,423.7 217.8,427.5 220.0,430.9 222.2,434.0 224.3,436.6 225.5,439.5 225.7,442.3 224.3,445.0 221.5,446.3 218.6,446.6 215.5,445.3 212.9,443.7 209.3,441.0 205.7,438.0 201.5,435.5 197.0,433.0 192.7,429.8 188.6,426.6 187.0,422.5 185.7,418.7 183.0,415.5 180.7,412.3 179.2,408.5 177.9,405.0 176.3,400.7 175.0,396.6 174.5,392.0 172.9,388.6 171.5,385.0 170.7,381.4 171.4,375.7 169.0,375.3 167.0,374.3 165.5,370.5 164.3,367.0 162.0,365.0 160.0,362.9 160.0,357.0 155.0,357.0 145.0,357.0Z M145.0,416.0 155.0,416.6 161.4,418.7 165.0,423.5 168.6,428.0 172.0,431.0 175.7,433.7 180.7,437.3 187.0,438.0 189.3,442.3 192.5,444.0 195.7,445.0 198.0,447.3 200.0,449.4 204.3,453.7 208.0,454.5 211.4,455.0 212.9,458.7 215.0,459.4 217.0,462.0 218.6,465.0 219.0,475.0 165.0,475.0 164.3,465.0 161.0,462.0 158.6,459.4 157.0,455.0 155.7,450.9 155.0,450.0 145.0,450.0Z M287.0,197.0 289.0,195.0 291.4,192.9 295.5,191.3 300.0,190.0 304.5,189.0 308.6,187.9 312.5,188.0 315.7,188.6 317.5,190.5 317.9,192.9 316.3,195.8 314.3,198.6 312.2,202.0 310.0,205.7 307.3,208.0 304.3,210.0 300.8,211.7 297.0,212.9 293.5,211.8 290.0,210.0 288.0,207.3 286.4,204.3 286.2,200.5Z M461.2,110.9 458.0,112.0 455.3,114.0 451.0,118.9 446.8,125.3 443.6,131.8 441.9,138.2 441.9,145.7 443.3,149.0 445.0,151.5 447.5,153.5 449.5,156.0 451.0,159.7 452.5,157.5 453.5,154.0 455.5,150.0 457.5,146.7 460.1,140.3 462.8,131.8 465.0,124.3 466.0,117.8 465.0,113.0 463.0,111.0Z M448.6,209.7 452.5,208.7 457.0,208.3 460.0,210.5 462.9,212.6 467.9,213.3 468.7,210.5 469.3,208.3 470.5,210.3 471.4,212.6 471.0,217.5 470.7,222.6 472.2,226.0 473.6,229.7 472.0,234.0 470.0,238.3 468.0,241.2 465.7,244.0 463.5,247.5 461.4,251.0 459.5,252.5 458.3,254.0 460.0,258.5 461.5,263.0 462.8,267.5 464.6,271.0 468.0,272.5 471.8,272.0 474.5,270.2 478.1,270.2 480.0,272.0 481.7,275.6 484.5,276.5 488.0,278.3 489.9,282.8 491.7,287.3 490.5,287.8 488.0,285.5 485.4,282.0 482.6,278.3 479.0,275.6 475.4,274.7 472.7,273.8 471.5,275.0 473.6,280.0 475.4,283.7 474.0,283.0 471.8,278.3 469.5,276.3 467.3,274.7 465.0,273.5 462.8,272.0 460.0,275.6 456.5,278.3 453.0,274.7 449.3,272.0 448.4,267.5 450.0,266.0 452.5,264.5 452.0,262.5 449.5,262.5 447.8,264.5 445.7,263.0 443.0,262.0 440.8,259.4 440.3,254.0 440.0,251.0 438.6,248.3 437.0,246.0 437.0,244.0 440.0,243.0 443.6,241.0 445.0,236.0 446.4,231.0 446.0,225.0 445.7,219.7 447.0,214.5Z M497.0,273.0 498.9,274.7 498.4,278.3 496.2,279.7 495.5,276.5Z M447.0,281.5 452.0,282.0 456.5,283.3 459.7,285.5 460.6,290.0 459.2,293.6 456.5,297.2 454.3,296.3 452.0,291.8 450.7,287.3 448.4,283.7Z M484.8,296.3 487.0,295.0 489.7,297.2 493.3,300.8 493.0,302.0 490.6,300.0 487.0,298.3Z M499.6,295.4 505.0,294.5 510.5,294.5 513.2,298.0 513.2,303.5 515.0,309.8 514.0,311.6 510.5,310.7 508.6,306.2 506.0,301.7 502.3,299.0Z M500.5,311.6 504.1,310.7 506.8,312.5 507.3,317.0 509.1,321.5 510.5,325.0 507.7,326.0 506.0,322.4 505.0,317.0 502.3,316.0 501.0,313.8Z M466.3,303.5 471.7,305.3 478.0,308.0 482.5,309.0 480.7,312.5 476.2,316.0 471.7,318.8 467.2,321.5 467.7,315.2 468.1,309.0Z M481.6,317.0 486.1,316.6 486.6,320.6 484.3,326.0 483.0,330.5 482.5,335.0 480.7,338.6 477.1,335.0 473.5,332.3 478.0,329.6 479.8,324.2 480.8,320.0Z M493.3,317.0 494.2,319.7 492.4,324.2 489.7,328.7 487.0,333.2 486.1,336.0 486.0,333.0 487.0,330.5 489.7,325.0 491.5,320.6Z M493.3,330.5 497.8,327.4 500.5,329.6 498.7,332.8 495.1,333.2Z M466.4,369.0 467.5,365.0 468.6,361.0 470.7,358.5 472.9,356.0 475.7,355.0 478.6,354.0 480.0,351.8 481.4,349.7 484.2,348.6 487.0,347.6 489.2,348.6 491.4,349.7 491.4,355.4 494.2,354.0 497.0,352.6 499.0,349.7 502.0,349.0 505.4,348.3 506.3,345.5 506.9,342.6 509.5,343.5 511.9,344.0 513.0,340.0 514.0,336.9 514.7,334.5 515.4,332.6 518.0,335.5 521.0,338.3 522.6,341.0 524.0,344.0 523.6,347.0 523.3,349.7 525.5,352.5 527.6,355.4 528.4,360.0 529.0,364.0 528.0,367.5 526.9,371.0 525.5,372.5 524.0,374.0 524.4,377.0 524.7,379.7 523.0,376.0 522.0,372.0 521.0,368.3 519.6,366.8 518.3,365.4 517.0,368.3 516.0,371.0 516.5,374.7 516.9,378.3 515.5,381.2 514.0,384.0 511.9,386.9 510.0,385.5 508.3,384.0 504.7,382.5 501.0,381.0 498.0,379.0 495.4,376.9 495.0,374.0 494.7,371.0 496.2,369.0 497.6,366.9 496.5,364.7 495.4,362.6 493.5,360.0 491.5,358.0 489.3,358.3 487.5,360.5 485.7,362.6 483.8,361.0 482.0,359.7 480.6,362.0 479.3,364.0 478.6,362.0 477.9,360.4 476.0,362.2 474.3,364.0 472.0,367.2 470.0,370.4Z M434.3,318.3 435.0,320.0 431.4,323.5 428.5,327.0 425.7,329.7 423.0,333.0 420.0,336.5 417.0,340.5 414.3,343.2 410.5,346.0 407.0,348.0 404.5,350.3 402.9,351.0 402.3,349.5 405.0,346.5 408.0,343.8 411.5,341.0 414.0,338.2 417.0,334.5 420.0,331.0 423.0,327.5 426.0,324.0 429.0,321.0 432.0,318.5 433.5,315.0 434.3,311.0 435.3,314.0Z M398.5,355.5 400.2,355.5 400.2,358.3 398.5,358.3Z M294.0,475.0 293.7,465.0 292.0,462.0 290.9,459.4 290.2,456.5 290.0,453.7 290.7,449.3 291.6,445.0 293.2,442.0 295.0,439.4 297.2,438.3 299.4,438.0 303.7,440.0 308.0,441.6 310.8,442.5 313.7,443.0 316.5,442.9 319.4,442.3 320.9,438.7 322.3,435.0 322.3,432.0 322.3,429.4 324.4,427.8 326.6,426.6 332.3,425.2 338.0,423.7 342.3,422.4 346.6,420.9 350.2,416.6 353.7,412.3 356.9,408.0 360.0,403.7 363.0,402.5 366.0,402.3 368.6,400.0 374.3,395.7 380.0,391.4 383.5,387.2 387.0,382.9 391.4,379.3 395.7,375.7 396.4,372.8 397.0,370.0 399.2,369.0 401.4,368.6 402.2,371.5 402.9,374.3 405.0,375.7 407.0,377.0 407.8,380.7 408.6,384.3 411.5,386.5 414.3,388.6 418.6,389.3 422.9,390.0 426.5,391.5 430.0,392.9 430.3,393.0 427.5,394.8 424.6,396.6 420.3,397.7 416.0,398.7 418.5,401.2 421.0,403.7 417.0,405.9 413.0,408.0 411.7,410.2 410.3,412.3 406.0,414.5 401.7,416.6 405.3,418.8 408.9,420.9 406.8,422.3 404.6,423.7 408.2,428.0 411.7,432.3 410.7,435.2 409.6,438.0 412.8,440.9 416.0,443.7 420.3,447.3 424.6,450.9 421.8,451.6 418.9,452.3 415.3,452.3 411.7,452.3 410.3,455.2 408.9,458.0 407.8,461.2 406.7,465.0 406.5,475.0Z M440.3,475.0 440.3,465.0 441.0,460.5 441.7,456.6 445.3,454.5 448.9,452.3 451.8,450.2 454.6,448.0 457.5,449.5 460.3,450.9 463.2,451.6 466.0,452.3 470.0,452.7 474.0,453.0 477.5,453.7 481.0,454.4 486.0,454.0 491.0,453.7 494.7,452.3 498.3,450.9 501.5,448.0 504.7,445.0 506.9,443.0 509.0,440.9 510.0,443.0 509.7,445.0 507.6,448.7 505.4,452.3 502.6,455.2 499.7,458.0 495.4,458.7 491.0,459.4 486.8,459.4 482.6,459.4 478.3,458.4 474.0,457.8 470.0,458.0 466.0,458.0 461.7,458.4 457.4,458.7 451.7,459.0 446.0,459.4 444.5,461.0 443.0,462.3 442.3,465.0 442.3,475.0Z M545.0,438.4 546.7,439.3 548.4,443.2 547.2,447.4 544.2,450.4 541.1,450.9 541.1,447.4 542.9,443.2 543.7,440.2Z M557.4,444.0 558.3,445.7 557.4,450.0 554.9,452.2 551.4,453.4 550.2,456.0 553.2,457.7 556.6,459.9 554.9,460.3 551.4,458.6 548.4,458.6 547.2,461.2 546.7,465.0 546.7,475.0 545.0,475.0 545.0,465.0 544.6,461.2 542.9,458.6 543.7,455.6 547.2,454.3 549.3,450.9 551.0,447.4 553.6,445.3Z M551.9,435.0 553.2,432.0 555.7,429.9 557.4,430.7 556.6,434.2 554.4,436.7 552.3,436.7Z M278.0,410.0 280.5,409.7 281.3,412.0 280.0,414.0 278.2,413.5Z M531.0,402.0 532.8,402.0 532.8,405.5 531.0,405.5Z M465.3,281.0 467.6,281.0 467.6,283.3 465.3,283.3Z M474.5,295.0 476.5,295.0 476.5,297.0 474.5,297.0Z M514.5,331.0 516.0,332.0 517.7,336.8 516.0,337.0 514.8,334.0Z M438.6,298.5 443.5,299.0 443.5,301.0 440.0,301.2 438.6,300.5Z" fill="#c0c0c0" stroke="none" shape-rendering="crispEdges"/>
<path d="M155.0,142.6 162.0,143.3 160.0,149.7 157.9,156.9 167.0,158.3 171.4,166.0 178.6,165.4 184.3,163.3 185.0,170.4 192.9,171.0 192.0,161.0 189.3,156.0 192.0,152.6 198.6,152.6 202.0,148.3 209.3,152.6 214.3,147.6 222.0,151.9 225.7,147.6 233.6,146.0 236.4,141.0 241.4,139.7 248.6,144.7 258.0,145.4 259.0,148.0 258.0,150.0 260.0,158.6 267.0,163.0 272.3,166.9 M198.6,152.6 205.0,161.0 208.6,165.4 209.3,172.6 213.6,176.9 220.0,177.6 225.0,174.0 229.3,178.3 232.0,184.0 235.7,186.9 234.3,192.6 225.0,194.7 221.4,198.3 230.0,203.3 239.3,207.6 241.4,214.0 247.0,220.4 252.9,226.0 258.0,232.6 262.0,236.8 266.6,242.6 268.7,246.9 266.6,249.0 272.3,255.4 270.9,264.0 268.0,268.3 262.3,269.0 258.0,265.4 251.4,269.7 248.6,273.3 M184.3,163.3 178.6,169.7 172.9,176.9 170.0,181.9 164.3,184.0 158.6,186.9 155.0,188.3 M170.0,181.9 175.7,185.4 176.4,192.6 176.4,194.0 185.7,194.7 186.4,202.6 183.6,209.7 183.6,216.9 181.4,221.9 184.3,224.0 191.4,217.6 197.0,214.7 204.3,219.0 210.0,216.9 213.6,211.0 222.9,212.6 227.0,219.0 233.6,224.7 233.6,236.9 237.9,243.3 244.3,249.0 243.6,258.3 242.9,266.9 240.0,269.7 M202.9,299.7 204.3,292.6 200.7,286.9 200.7,279.7 205.7,275.4 210.0,269.0 217.0,267.6 230.0,268.3 237.0,267.6 241.4,271.0 248.6,273.3 250.0,279.7 250.7,288.3 250.0,296.9 244.3,299.7 238.6,302.6 233.6,301.9 235.7,306.9 237.0,311.0 238.6,316.9 235.7,321.0 230.4,322.6 M238.6,316.9 248.6,315.4 252.9,318.3 258.0,324.0 M248.6,306.9 255.7,304.0 M155.0,273.3 159.3,273.3 156.4,279.7 157.9,286.9 161.4,295.4 164.3,304.0 160.0,309.7 155.7,316.9 M171.4,375.7 180.7,377.0 183.6,381.4 184.3,387.0 191.4,385.7 197.0,381.4 M298.7,440.0 303.7,446.6 310.9,452.3 319.4,450.9 329.4,449.4 335.0,444.4 343.7,443.7 349.4,446.6 356.6,445.0 366.0,445.0 368.9,436.6 373.0,432.3 373.9,426.6 379.6,422.3 380.3,412.3 383.0,406.6 407.4,406.6 M366.0,409.4 369.0,406.0 372.4,399.4 M376.0,405.0 377.0,398.0 M306.0,136.0 308.0,135.5 312.0,137.5 316.0,139.0 320.0,138.0 324.0,137.0" stroke="#000" stroke-width="1.25" fill="none" stroke-linejoin="round" shape-rendering="crispEdges"/>
<path d="M382 39h3v2h-3zM386 40h4v1h-4zM391 38h3v2h-3zM424 44h3v2h-3zM426 43h2v2h-2zM560 71h3v4h-3zM555 78h4v2h-4zM562 56h2v2h-2zM565 50h3v2h-3zM531 94h3v2h-3zM538 96h3v2h-3zM537 90h2v2h-2zM490 121h3v2h-3zM494 119h5v3h-5zM498 117h2v2h-2zM480 122h2v1h-2zM510 117h4v2h-4zM503 119h2v2h-2zM433 134h2v3h-2zM434 138h1v2h-1zM464 177h2v3h-2zM463 181h2v3h-2zM465 174h1v2h-1zM452 196h3v2h-3zM457 198h2v2h-2zM461 201h3v2h-3zM466 203h2v2h-2zM252 421h5v4h-5zM247 424h3v3h-3zM250 427h2v2h-2zM285 422h3v3h-3zM288 424h2v2h-2zM291 429h3v1h-3zM221 448h6v5h-6zM226 451h5v4h-5zM230 450h3v3h-3zM218 452h4v3h-4zM224 456h4v3h-4zM514 414h3v4h-3zM513 426h2v2h-2zM512 433h2v2h-2zM531 408h2v4h-2zM536 401h2v2h-2zM454 382h3v2h-3zM449 386h2v2h-2zM461 379h2v2h-2zM446 390h3v2h-3zM423 371h2v2h-2zM418 368h2v1h-2zM269 449h3v2h-3zM263 455h2v2h-2zM564.2,64.7 567.2,63.3 571.0,61.3 573.0,62.3 569.0,65.7 567.2,69.2 564.2,69.2ZM547.0,84.0 550.0,84.0 549.0,88.0 553.0,86.0 554.0,88.0 549.0,93.0 547.0,97.0 544.0,97.0 544.0,93.0 546.0,90.0 546.0,87.0Z" fill="#000" shape-rendering="crispEdges"/>
<g filter="url(#rough)"><path d="M465.0,40.0 461.5,46.0 462.5,52.0 462.0,58.0 458.0,62.0 455.5,65.5" stroke="#000" stroke-width="3.0" fill="none" stroke-linejoin="round" stroke-linecap="round"/><path d="M449.0,70.0 449.0,77.0 444.5,84.0" stroke="#000" stroke-width="2.2" fill="none" stroke-linejoin="round" stroke-linecap="round"/><path d="M439.0,87.0 435.0,89.0 434.5,97.0 432.5,104.0" stroke="#000" stroke-width="3.0" fill="none" stroke-linejoin="round" stroke-linecap="round"/><path d="M429.0,109.0 425.5,113.5 421.5,119.5 414.0,123.0" stroke="#000" stroke-width="2.4" fill="none" stroke-linejoin="round" stroke-linecap="round"/><path d="M411.5,127.0 409.5,130.0 405.0,134.5 396.0,139.0 394.0,143.5" stroke="#000" stroke-width="3.0" fill="none" stroke-linejoin="round" stroke-linecap="round"/><path d="M388.0,145.5 381.0,149.0 373.0,148.5 367.0,150.5" stroke="#000" stroke-width="2.6" fill="none" stroke-linejoin="round" stroke-linecap="round"/><path d="M359.0,151.5 356.5,148.0 354.5,144.0 352.5,146.0 352.0,155.0" stroke="#000" stroke-width="3.0" fill="none" stroke-linejoin="round" stroke-linecap="round"/><path d="M347.0,158.0 339.0,162.0 329.0,164.5" stroke="#000" stroke-width="2.0" fill="none" stroke-linejoin="round" stroke-linecap="round"/><path d="M258.5,175.0 264.0,174.0 269.0,172.5" stroke="#000" stroke-width="3.6" fill="none" stroke-linejoin="round" stroke-linecap="round"/><path d="M271.5,169.0 277.0,166.0 284.5,161.5 289.0,164.5" stroke="#000" stroke-width="2.4" fill="none" stroke-linejoin="round" stroke-linecap="round"/><path d="M298.0,164.0 302.0,166.5 301.5,172.0" stroke="#000" stroke-width="2.2" fill="none" stroke-linejoin="round" stroke-linecap="round"/><path d="M308.0,170.0 307.0,174.5 311.0,177.5" stroke="#000" stroke-width="2.4" fill="none" stroke-linejoin="round" stroke-linecap="round"/><path d="M219.0,447.0 224.0,450.0 229.0,452.0 233.0,451.0" stroke="#000" stroke-width="4.0" fill="none" stroke-linejoin="round" stroke-linecap="round"/><path d="M222.0,455.0 226.0,458.0 229.0,457.0" stroke="#000" stroke-width="3.0" fill="none" stroke-linejoin="round" stroke-linecap="round"/><path d="M213.0,446.0 217.0,449.0" stroke="#000" stroke-width="2.5" fill="none" stroke-linejoin="round" stroke-linecap="round"/><path d="M468.0,273.0 472.0,271.5 476.0,269.5" stroke="#000" stroke-width="2.0" fill="none" stroke-linejoin="round" stroke-linecap="round"/><path d="M459.0,257.0 461.0,263.0 463.0,268.0" stroke="#000" stroke-width="2.2" fill="none" stroke-linejoin="round" stroke-linecap="round"/><path d="M491.0,349.0 496.5,352.0 500.0,349.0" stroke="#000" stroke-width="2.0" fill="none" stroke-linejoin="round" stroke-linecap="round"/><path d="M440.0,298.0 438.0,303.0 434.0,310.0 432.0,316.0" stroke="#000" stroke-width="3.0" fill="none" stroke-linejoin="round" stroke-linecap="round"/><path d="M476.0,285.0 479.0,288.5 482.0,291.5" stroke="#000" stroke-width="2.4" fill="none" stroke-linejoin="round" stroke-linecap="round"/><path d="M488.0,289.5 492.0,293.5 496.0,296.5" stroke="#000" stroke-width="2.4" fill="none" stroke-linejoin="round" stroke-linecap="round"/><path d="M499.0,297.5 501.0,303.0 503.5,309.5" stroke="#000" stroke-width="2.6" fill="none" stroke-linejoin="round" stroke-linecap="round"/><path d="M497.5,313.0 499.0,320.0 497.5,326.0" stroke="#000" stroke-width="2.0" fill="none" stroke-linejoin="round" stroke-linecap="round"/><path d="M478.0,303.5 483.5,306.5" stroke="#000" stroke-width="2.0" fill="none" stroke-linejoin="round" stroke-linecap="round"/><path d="M446.0,279.5 452.0,279.0 458.0,280.5" stroke="#000" stroke-width="2.0" fill="none" stroke-linejoin="round" stroke-linecap="round"/><path d="M441.0,263.0 443.0,266.5 446.5,268.5" stroke="#000" stroke-width="2.2" fill="none" stroke-linejoin="round" stroke-linecap="round"/><path d="M510.0,327.0 513.0,331.0" stroke="#000" stroke-width="2.4" fill="none" stroke-linejoin="round" stroke-linecap="round"/><path d="M470.0,322.0 474.0,324.0" stroke="#000" stroke-width="2.0" fill="none" stroke-linejoin="round" stroke-linecap="round"/><path d="M484.0,343.0 488.0,346.0" stroke="#000" stroke-width="2.0" fill="none" stroke-linejoin="round" stroke-linecap="round"/><path d="M155.5,361.0 158.0,366.0 161.0,371.0 164.0,375.0 166.0,379.0" stroke="#000" stroke-width="2.6" fill="none" stroke-linejoin="round" stroke-linecap="round"/><path d="M506.0,343.0 512.0,343.0 514.0,336.0" stroke="#000" stroke-width="2.0" fill="none" stroke-linejoin="round" stroke-linecap="round"/></g>
</g>
<g fill="#000" shape-rendering="crispEdges">
<rect x="153" y="36" width="424" height="2"/>
<rect x="153" y="465" width="424" height="2"/>
<rect x="153" y="36" width="2" height="431"/>
<rect x="575" y="36" width="2" height="431"/>
<rect x="155" y="38" width="4" height="1"/>
<rect x="168" y="38" width="1" height="5"/>
<rect x="168" y="460" width="1" height="5"/>
<rect x="196" y="38" width="1" height="5"/>
<rect x="196" y="460" width="1" height="5"/>
<rect x="223" y="38" width="1" height="5"/>
<rect x="223" y="460" width="1" height="5"/>
<rect x="250" y="38" width="1" height="5"/>
<rect x="250" y="460" width="1" height="5"/>
<rect x="277" y="38" width="1" height="5"/>
<rect x="277" y="460" width="1" height="5"/>
<rect x="304" y="38" width="1" height="5"/>
<rect x="304" y="460" width="1" height="5"/>
<rect x="331" y="38" width="1" height="5"/>
<rect x="331" y="460" width="1" height="5"/>
<rect x="358" y="38" width="1" height="5"/>
<rect x="358" y="460" width="1" height="5"/>
<rect x="385" y="38" width="1" height="5"/>
<rect x="385" y="460" width="1" height="5"/>
<rect x="412" y="38" width="1" height="5"/>
<rect x="412" y="460" width="1" height="5"/>
<rect x="440" y="38" width="1" height="5"/>
<rect x="440" y="460" width="1" height="5"/>
<rect x="467" y="38" width="1" height="5"/>
<rect x="467" y="460" width="1" height="5"/>
<rect x="494" y="38" width="1" height="5"/>
<rect x="494" y="460" width="1" height="5"/>
<rect x="521" y="38" width="1" height="5"/>
<rect x="521" y="460" width="1" height="5"/>
<rect x="548" y="38" width="1" height="5"/>
<rect x="548" y="460" width="1" height="5"/>
<rect x="575" y="38" width="1" height="5"/>
<rect x="575" y="460" width="1" height="5"/>
<rect x="155" y="465" width="5" height="1"/>
<rect x="570" y="465" width="5" height="1"/>
<rect x="155" y="438" width="5" height="1"/>
<rect x="570" y="438" width="5" height="1"/>
<rect x="155" y="411" width="5" height="1"/>
<rect x="570" y="411" width="5" height="1"/>
<rect x="155" y="383" width="5" height="1"/>
<rect x="570" y="383" width="5" height="1"/>
<rect x="155" y="356" width="5" height="1"/>
<rect x="570" y="356" width="5" height="1"/>
<rect x="155" y="329" width="5" height="1"/>
<rect x="570" y="329" width="5" height="1"/>
<rect x="155" y="301" width="5" height="1"/>
<rect x="570" y="301" width="5" height="1"/>
<rect x="155" y="273" width="5" height="1"/>
<rect x="570" y="273" width="5" height="1"/>
<rect x="155" y="245" width="5" height="1"/>
<rect x="570" y="245" width="5" height="1"/>
<rect x="155" y="217" width="5" height="1"/>
<rect x="570" y="217" width="5" height="1"/>
<rect x="155" y="188" width="5" height="1"/>
<rect x="570" y="188" width="5" height="1"/>
<rect x="155" y="159" width="5" height="1"/>
<rect x="570" y="159" width="5" height="1"/>
<rect x="155" y="130" width="5" height="1"/>
<rect x="570" y="130" width="5" height="1"/>
<rect x="155" y="100" width="5" height="1"/>
<rect x="570" y="100" width="5" height="1"/>
<rect x="155" y="69" width="5" height="1"/>
<rect x="570" y="69" width="5" height="1"/>
<rect x="155" y="38" width="5" height="1"/>
<rect x="570" y="38" width="5" height="1"/>
</g>
<defs><linearGradient id="cb" x1="0" x2="1" y1="0" y2="0"><stop offset="0" stop-color="#0000ff"/><stop offset="0.25" stop-color="#00ffff"/><stop offset="0.5" stop-color="#00ff00"/><stop offset="0.75" stop-color="#ffff00"/><stop offset="1" stop-color="#ff0000"/></linearGradient></defs>
<rect x="245" y="524" width="241" height="13" fill="url(#cb)" shape-rendering="crispEdges"/>
<rect x="245" y="524" width="2" height="13" fill="#000" shape-rendering="crispEdges"/>
<text x="365.7" y="19.4" text-anchor="middle" font-family="Liberation Sans, sans-serif" font-size="13" fill="#000058">Significant Wave Height with Wave Direction</text>
<text x="366" y="31.6" text-anchor="middle" font-family="Liberation Sans, sans-serif" font-size="12" font-style="italic" fill="#000058">Valid For Jan-17-2021 06:00 GMT</text>
<text x="172.3" y="482.8" text-anchor="middle" font-family="Liberation Sans, sans-serif" font-size="11" font-style="italic" fill="#000">100 E</text>
<text x="240.1" y="482.8" text-anchor="middle" font-family="Liberation Sans, sans-serif" font-size="11" font-style="italic" fill="#000">105 E</text>
<text x="307.9" y="482.8" text-anchor="middle" font-family="Liberation Sans, sans-serif" font-size="11" font-style="italic" fill="#000">110 E</text>
<text x="375.7" y="482.8" text-anchor="middle" font-family="Liberation Sans, sans-serif" font-size="11" font-style="italic" fill="#000">115 E</text>
<text x="443.5" y="482.8" text-anchor="middle" font-family="Liberation Sans, sans-serif" font-size="11" font-style="italic" fill="#000">120 E</text>
<text x="511.3" y="482.8" text-anchor="middle" font-family="Liberation Sans, sans-serif" font-size="11" font-style="italic" fill="#000">125 E</text>
<text x="579.1" y="482.8" text-anchor="middle" font-family="Liberation Sans, sans-serif" font-size="11" font-style="italic" fill="#000">130 E</text>
<text x="584" y="469.1" font-family="Liberation Sans, sans-serif" font-size="11" font-style="italic" fill="#000">0</text>
<text x="584" y="401.2" font-family="Liberation Sans, sans-serif" font-size="11" font-style="italic" fill="#000">5 N</text>
<text x="584" y="332.8" font-family="Liberation Sans, sans-serif" font-size="11" font-style="italic" fill="#000">10 N</text>
<text x="584" y="263.3" font-family="Liberation Sans, sans-serif" font-size="11" font-style="italic" fill="#000">15 N</text>
<text x="584" y="192.2" font-family="Liberation Sans, sans-serif" font-size="11" font-style="italic" fill="#000">20 N</text>
<text x="584" y="118.8" font-family="Liberation Sans, sans-serif" font-size="11" font-style="italic" fill="#000">25 N</text>
<text x="584" y="42.3" font-family="Liberation Sans, sans-serif" font-size="11" font-style="italic" fill="#000">30 N</text>
<text x="154" y="496.8" font-family="Liberation Sans, sans-serif" font-size="11" letter-spacing="0.1" fill="#000058">oceanweather inc.</text>
<text x="460.3" y="494.2" textLength="114.3" lengthAdjust="spacingAndGlyphs" font-family="Liberation Sans, sans-serif" font-size="7.6" font-style="italic" font-weight="bold" fill="#000058">Plotted at Jan 17, 2021 02:06 GMT</text>
<text x="365.5" y="509.1" text-anchor="middle" font-family="Liberation Sans, sans-serif" font-size="9.5" fill="#000058">Significant Wave Height (Meters)</text>
<text x="365.5" y="556.8" text-anchor="middle" font-family="Liberation Sans, sans-serif" font-size="9.5" fill="#000058">Significant Wave Height (Feet)</text>
<text x="246.3" y="521" text-anchor="middle" font-family="Liberation Sans, sans-serif" font-size="9.5" fill="#000058">0</text>
<text x="266.3" y="521" text-anchor="middle" font-family="Liberation Sans, sans-serif" font-size="9.5" fill="#000058">1</text>
<text x="286.3" y="521" text-anchor="middle" font-family="Liberation Sans, sans-serif" font-size="9.5" fill="#000058">2</text>
<text x="306.3" y="521" text-anchor="middle" font-family="Liberation Sans, sans-serif" font-size="9.5" fill="#000058">3</text>
<text x="326.3" y="521" text-anchor="middle" font-family="Liberation Sans, sans-serif" font-size="9.5" fill="#000058">4</text>
<text x="346.3" y="521" text-anchor="middle" font-family="Liberation Sans, sans-serif" font-size="9.5" fill="#000058">5</text>
<text x="366.3" y="521" text-anchor="middle" font-family="Liberation Sans, sans-serif" font-size="9.5" fill="#000058">6</text>
<text x="386.3" y="521" text-anchor="middle" font-family="Liberation Sans, sans-serif" font-size="9.5" fill="#000058">7</text>
<text x="406.3" y="521" text-anchor="middle" font-family="Liberation Sans, sans-serif" font-size="9.5" fill="#000058">8</text>
<text x="426.3" y="521" text-anchor="middle" font-family="Liberation Sans, sans-serif" font-size="9.5" fill="#000058">9</text>
<text x="446.3" y="521" text-anchor="middle" font-family="Liberation Sans, sans-serif" font-size="9.5" fill="#000058">10</text>
<text x="466.3" y="521" text-anchor="middle" font-family="Liberation Sans, sans-serif" font-size="9.5" fill="#000058">11</text>
<text x="486.3" y="521" text-anchor="middle" font-family="Liberation Sans, sans-serif" font-size="9.5" fill="#000058">12</text>
<text x="246.6" y="544.5" text-anchor="middle" font-family="Liberation Sans, sans-serif" font-size="9.5" fill="#000058">0</text>
<text x="276.6" y="544.5" text-anchor="middle" font-family="Liberation Sans, sans-serif" font-size="9.5" fill="#000058">5</text>
<text x="306.6" y="544.5" text-anchor="middle" font-family="Liberation Sans, sans-serif" font-size="9.5" fill="#000058">10</text>
<text x="336.6" y="544.5" text-anchor="middle" font-family="Liberation Sans, sans-serif" font-size="9.5" fill="#000058">15</text>
<text x="366.6" y="544.5" text-anchor="middle" font-family="Liberation Sans, sans-serif" font-size="9.5" fill="#000058">20</text>
<text x="396.6" y="544.5" text-anchor="middle" font-family="Liberation Sans, sans-serif" font-size="9.5" fill="#000058">25</text>
<text x="426.6" y="544.5" text-anchor="middle" font-family="Liberation Sans, sans-serif" font-size="9.5" fill="#000058">30</text>
<text x="456.6" y="544.5" text-anchor="middle" font-family="Liberation Sans, sans-serif" font-size="9.5" fill="#000058">35</text>
<text x="486.6" y="544.5" text-anchor="middle" font-family="Liberation Sans, sans-serif" font-size="9.5" fill="#000058">40</text>
</svg>
</body></html>
